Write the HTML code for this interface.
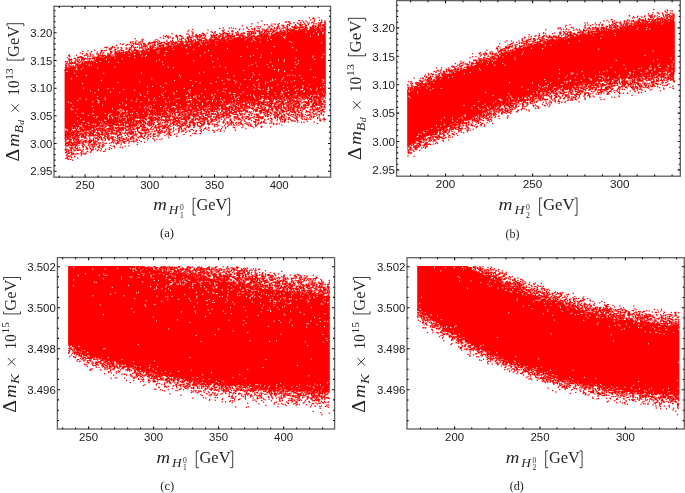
<!DOCTYPE html>
<html><head><meta charset="utf-8"><title>Scatter plots</title>
<style>html,body{margin:0;padding:0;background:#fff;overflow:hidden}svg{display:block;will-change:transform}text{font-kerning:normal}</style></head>
<body>
<svg width="685" height="493" viewBox="0 0 685 493"><rect width="685" height="493" fill="#fff"/>
<g id="pts-a">
<path d="M64.6 69L65.8 69.4L67.1 68.4L68.3 68.4L69.6 68L70.8 67.2L72.1 67.3L73.3 66.7L74.6 66.5L75.8 66.3L77.1 65L78.3 65.1L79.6 64.5L80.8 64.2L82.1 63.6L83.3 64.2L84.6 63.8L85.8 63.5L87.1 62.6L88.3 62.3L89.6 61.7L90.8 61.3L92.1 61L93.3 60.8L94.6 60.2L95.8 60.3L97.1 60.2L98.3 59.6L99.6 59.1L100.8 59.3L102.1 58.8L103.3 58.5L104.6 58.5L105.8 58.3L107.1 58.5L108.3 58.2L109.6 57.9L110.8 56.7L112.1 56.5L113.3 56.7L114.6 56.5L115.8 55.7L117.1 55.3L118.3 55.5L119.6 55.1L120.8 54.5L122.1 55.2L123.3 54.5L124.6 54L125.8 53.5L127.1 53.4L128.3 53.9L129.6 53.4L130.8 53.3L132.1 52.8L133.3 52.3L134.6 53L135.8 51.7L137.1 51.6L138.3 52.3L139.6 51.3L140.8 51.4L142.1 50.7L143.3 51.5L144.6 50.8L145.8 50.9L147.1 50.5L148.3 50.3L149.6 50.1L150.8 50.4L152.1 49L153.3 49.7L154.6 48.9L155.8 49.1L157.1 48.1L158.3 48.6L159.6 48L160.8 48.1L162.1 47.4L163.3 47.3L164.6 47.9L165.8 47.6L167.1 47.1L168.3 47.3L169.6 46.8L170.8 47.1L172.1 46.6L173.3 45.6L174.6 45.3L175.8 45.2L177.1 45.2L178.3 44.9L179.6 45L180.8 45.6L182.1 44.6L183.3 44.8L184.6 44.6L185.8 44.3L187.1 43.6L188.3 44.1L189.6 43.7L190.8 43.2L192.1 43.9L193.3 43L194.6 43.2L195.8 42.9L197.1 42.7L198.3 42.7L199.6 42.2L200.8 42.8L202.1 42.2L203.3 42.2L204.6 42.5L205.8 42.2L207.1 41.8L208.3 41.5L209.6 41.9L210.8 41.4L212.1 41L213.3 41.5L214.6 41.6L215.8 41.3L217.1 41L218.3 40.2L219.6 40.4L220.8 40.2L222.1 39.7L223.3 39.8L224.6 39.3L225.8 40.1L227.1 39.5L228.3 39.1L229.6 39.6L230.8 39.8L232.1 38.6L233.3 38.7L234.6 38.3L235.8 38.1L237.1 38.3L238.3 38.3L239.6 37.7L240.8 38.3L242.1 37.9L243.3 38.3L244.6 37L245.8 37.8L247.1 36.8L248.3 37.5L249.6 36.8L250.8 36.4L252.1 36.4L253.3 36.2L254.6 36L255.8 36.2L257.1 36.8L258.4 36L259.6 36L260.9 36L262.1 36L263.4 35.4L264.6 35.3L265.9 35L267.1 34.7L268.4 35.2L269.6 35.1L270.9 34.8L272.1 34.7L273.4 34L274.6 33.6L275.9 33.7L277.1 33.8L278.4 33.6L279.6 32.8L280.9 32.8L282.1 33.2L283.4 33.6L284.6 32.6L285.9 32.4L287.1 32.1L288.4 32.2L289.6 31.7L290.9 32.3L292.1 31.8L293.4 32.1L294.6 31.9L295.9 30.9L297.1 31.2L298.4 31.2L299.6 31L300.9 30.2L302.1 30.3L303.4 30L304.6 29.9L305.9 30.9L307.1 30.3L308.4 30.2L309.6 29.6L310.9 30.1L312.1 29.5L313.4 29.2L314.6 29.4L315.9 29L317.1 28.6L318.4 28.4L319.6 28.9L320.9 28.5L322.1 28L323.4 27.9L324.6 27.8L325.8 27.8L325.8 93.2L324.6 93.5L323.4 94L322.1 93.6L320.9 94.2L319.6 94.6L318.4 94.4L317.1 94.6L315.9 94.4L314.6 94.6L313.4 94.5L312.1 95.1L310.9 94.8L309.6 95.3L308.4 94.6L307.1 94.8L305.9 95.3L304.6 95.1L303.4 96.1L302.1 95L300.9 95.3L299.6 95.5L298.4 96.4L297.1 95.9L295.9 96.4L294.6 96.8L293.4 96.1L292.1 96L290.9 96L289.6 97L288.4 97.2L287.1 97.1L285.9 97.3L284.6 96.5L283.4 96.9L282.1 96.9L280.9 97.9L279.6 97.5L278.4 97.8L277.1 97.8L275.9 97.4L274.6 98.4L273.4 97.8L272.1 98L270.9 98.1L269.6 98.2L268.4 98.4L267.1 98.2L265.9 98.6L264.6 98.5L263.4 98.9L262.1 99.1L260.9 99.3L259.6 100L258.4 99.8L257.1 99.7L255.8 100.4L254.6 99.9L253.3 100.5L252.1 100.7L250.8 100.8L249.6 100.2L248.3 101.1L247.1 101.3L245.8 100.8L244.6 100.7L243.3 101L242.1 101.8L240.8 102.1L239.6 101.7L238.3 101.7L237.1 101.7L235.8 101.6L234.6 102.4L233.3 102.6L232.1 102.9L230.8 102.5L229.6 102.4L228.3 102.8L227.1 103.4L225.8 103.1L224.6 103.4L223.3 103.1L222.1 103.9L220.8 103.8L219.6 104L218.3 104.5L217.1 103.7L215.8 104.7L214.6 104.7L213.3 104.7L212.1 104.5L210.8 105.5L209.6 104.6L208.3 105.3L207.1 105.4L205.8 106L204.6 106.4L203.3 106.1L202.1 105.6L200.8 106.3L199.6 107L198.3 106.4L197.1 106.4L195.8 106.2L194.6 107.2L193.3 106.7L192.1 106.8L190.8 107.2L189.6 107.3L188.3 107.7L187.1 108L185.8 108.2L184.6 108.8L183.3 108.1L182.1 108.6L180.8 108.9L179.6 108.9L178.3 109.8L177.1 109.1L175.8 109.8L174.6 110.5L173.3 110.1L172.1 110.7L170.8 110.8L169.6 111.3L168.3 111.5L167.1 110.9L165.8 111.8L164.6 112L163.3 112.6L162.1 111.9L160.8 112.5L159.6 112.4L158.3 113.5L157.1 113.9L155.8 113L154.6 113.3L153.3 114.2L152.1 114L150.8 115L149.6 115L148.3 114.9L147.1 115L145.8 115.9L144.6 115.5L143.3 115.3L142.1 116L140.8 116.3L139.6 116.4L138.3 116.4L137.1 117.6L135.8 118.1L134.6 118.3L133.3 118L132.1 118L130.8 118.6L129.6 118.9L128.3 118.9L127.1 119.2L125.8 119.9L124.6 120.9L123.3 120.4L122.1 121.4L120.8 121L119.6 121.2L118.3 121.9L117.1 122.5L115.8 122.5L114.6 122.4L113.3 123.1L112.1 122.8L110.8 123.9L109.6 124.2L108.3 123.9L107.1 124.2L105.8 124.7L104.6 125L103.3 125.3L102.1 125.8L100.8 126.3L99.6 126.2L98.3 127L97.1 126.9L95.8 127L94.6 128L93.3 128.1L92.1 128.4L90.8 129.3L89.6 129.5L88.3 129.3L87.1 130.3L85.8 130.8L84.6 130.8L83.3 130.9L82.1 131.4L80.8 131.1L79.6 132.4L78.3 132.3L77.1 132.4L75.8 132.7L74.6 133.1L73.3 134.3L72.1 133.6L70.8 135.1L69.6 135.3L68.3 134.7L67.1 135.3L65.8 136L64.6 136.1Z" fill="#ff0000"/>
<g transform="scale(0.25)" fill="none" stroke-linecap="round"><path d="M268 285h0m6 123h0m-11 107h0m5 4h0m-5 1h0m8 1h0m28-229h0m-13 23h0m-2 97h0m8 12h0m-8 9h0m8 4h0m-5 2h0m10 58h0m-8 14h0m7 6h0m-5 1h0m3 4h0m-7 2h0m-6 8h0m6 3h0m30-273h0m-12 4h0m1 8h0m-2 2h0m4 0h0m-1 28h0m4 98h0m-2 34h0m-6 16h0m8 13h0m-1 18h0m8 19h0m-3 8h0m-10 1h0m9 3h0m-14 5h0m10 0h0m9 0h0m-3 1h0m0 5h0m-12 3h0m28-273h0m-9 5h0m1 1h0m8 10h0m-7 6h0m5 57h0m4 18h0m-14 42h0m8 58h0m6 2h0m-11 20h0m13 10h0m-3 1h0m-7 11h0m-2 5h0m3 3h0m-3 1h0m8 7h0m2 1h0m9-263h0m3 6h0m10 0h0m2 6h0m-13 39h0m-1 96h0m9 64h0m-1 29h0m4 3h0m-13 5h0m13 4h0m2 15h0m-16 0h0m1 4h0m33-276h0m-10 15h0m-4 103h0m9 44h0m-2 19h0m5 11h0m-2 16h0m-1 2h0m5 11h0m-1 29h0m-3 2h0m7 14h0m-16 5h0m24-267h0m4 22h0m3 87h0m-14 13h0m10 14h0m0 14h0m4 3h0m2 1h0m-3 6h0m2 2h0m-6 54h0m-3 6h0m11 14h0m-14 11h0m-2 4h0m18 3h0m-3 4h0m19-271h0m-14 10h0m14 47h0m-9 28h0m4 99h0m9 60h0m-14 6h0m6 6h0m-9 5h0m3 0h0m12 1h0m9-261h0m9 11h0m-3 105h0m-12 38h0m1 6h0m0 56h0m17 3h0m-4 4h0m-2 4h0m3 6h0m-1 3h0m-11 8h0m4 11h0m27-139h0m-12 15h0m8 67h0m-6 19h0m2 11h0m6 3h0m-2 4h0m11-241h0m12 18h0m-13 19h0m12 61h0m7 41h0m0 49h0m-3 21h0m-5 2h0m8 3h0m-2 18h0m-11 2h0m10 6h0m-2 9h0m11-261h0m4 16h0m6 123h0m-4 53h0m-10 25h0m4 3h0m9 1h0m-1 1h0m-5 4h0m8 0h0m0 1h0m-12 3h0m-4 7h0m19 3h0m-3 2h0m-3 8h0m-9 3h0m-1 8h0m34-254h0m-11 170h0m0 23h0m-3 2h0m5 22h0m0 3h0m0 9h0m6 13h0m-14 1h0m6 4h0m8 3h0m-11 2h0m17-263h0m17 3h0m2 0h0m0 142h0m-12 41h0m-2 30h0m11 10h0m-6 12h0m-7 0h0m5 12h0m12-235h0m19 97h0m-11 69h0m-3 9h0m14 22h0m-12 23h0m5 7h0m19-250h0m-10 1h0m13 0h0m-11 1h0m-1 2h0m0 2h0m7 11h0m-3 67h0m-6 84h0m3 6h0m1 26h0m14 24h0m-5 21h0m1 11h0m20-261h0m2 1h0m-7 1h0m-8 2h0m5 15h0m-4 4h0m8 122h0m1 19h0m-2 8h0m-9 12h0m15 10h0m1 6h0m0 22h0m-14 2h0m7 4h0m8 3h0m-15 8h0m10 6h0m6 3h0m0 2h0m-4 3h0m3 0h0m-17 3h0m0 0h0m5 0h0m22-143h0m3 30h0m8 47h0m-4 8h0m2 17h0m-12 6h0m2 10h0m-4 4h0m13 1h0m-2 19h0m23-255h0m-8 2h0m5 7h0m4 28h0m-11 5h0m12 141h0m-15 16h0m-1 43h0m14 4h0m-15 4h0m38-232h0m-9 28h0m3 9h0m-10 87h0m10 5h0m1 22h0m-8 5h0m5 5h0m4 9h0m-12 36h0m11 10h0m-1 11h0m-12 2h0m10 0h0m25-257h0m-12 13h0m3 1h0m6 62h0m-8 65h0m-2 31h0m10 25h0m-11 14h0m16 4h0m-14 3h0m0 15h0m-4 5h0m3 9h0m10 0h0m2 6h0m13-256h0m5 8h0m0 74h0m5 50h0m-5 50h0m5 5h0m-3 27h0m-3 22h0m5 1h0m2 0h0m-11 3h0m30-128h0m-12 63h0m10 29h0m-12 2h0m3 20h0m-5 15h0m-1 1h0m-1 5h0m10 0h0m-1 0h0m17-253h0m2 1h0m-6 124h0m15 45h0m-16 67h0m-1 14h0m24-243h0m3 0h0m4 23h0m3 149h0m5 4h0m-10 13h0m-4 2h0m5 9h0m3 8h0m-6 1h0m9 14h0m-4 1h0m-3 12h0m8 3h0m-17 2h0m33-258h0m-11 7h0m13 17h0m0 45h0m-12 78h0m7 21h0m-9 17h0m-1 12h0m14 15h0m-12 2h0m14 2h0m-12 7h0m-3 1h0m6 6h0m-1 6h0m8 6h0m-14 8h0m36-240h0m2 108h0m-14 34h0m-1 55h0m13 2h0m1 1h0m-17 2h0m6 6h0m6 8h0m7 4h0m-11 13h0m0 9h0m16-252h0m2 2h0m-5 47h0m15 65h0m-16 44h0m7 42h0m10 14h0m-7 26h0m0 4h0m-10 5h0m37-251h0m-12 6h0m9 24h0m-14 7h0m1 148h0m11 44h0m-5 4h0m18-182h0m6 23h0m5 22h0m-12 66h0m3 44h0m0 0h0m2 4h0m7 5h0m-3 7h0m-3 8h0m0 3h0m19-237h0m-8 3h0m3 8h0m7 56h0m2 74h0m-8 18h0m6 35h0m-11 14h0m5 28h0m-3 8h0m27-249h0m-9 101h0m9 57h0m7 14h0m-1 20h0m-3 10h0m-10 25h0m15 10h0m-13 1h0m7 5h0m0 1h0m-5 6h0m22-250h0m2 30h0m-7 77h0m7 23h0m-1 22h0m5 4h0m5 0h0m-15 36h0m-3 13h0m17 5h0m-8 35h0m-10 1h0m6 1h0m30-107h0m1 18h0m-16 49h0m0 1h0m16 3h0m-2 0h0m2 8h0m-11 2h0m12 4h0m-9 13h0m-1 8h0m16-83h0m-2 5h0m15 20h0m-17 22h0m16 14h0m-6 2h0m-6 6h0m-3 1h0m13 1h0m10-172h0m11 56h0m-12 55h0m10 31h0m-9 7h0m11 25h0m-10 3h0m20-250h0m-5 7h0m10 28h0m6 76h0m-16 54h0m10 32h0m-1 32h0m5 20h0m-12 3h0m31-255h0m-1 4h0m4 5h0m-8 7h0m6 56h0m-12 3h0m6 34h0m4 33h0m4 8h0m-7 9h0m-8 10h0m14 21h0m2 18h0m-15 23h0m12 0h0m2 4h0m1 2h0m1 1h0m2-240h0m16 2h0m-16 13h0m9 32h0m-6 57h0m5 13h0m9 34h0m-4 20h0m-5 4h0m8 11h0m0 10h0m-16 3h0m15 7h0m3 35h0m-17 4h0m0 3h0m1 3h0m20-247h0m-1 16h0m4 52h0m-2 11h0m10 127h0m-13 1h0m1 0h0m6 23h0m6 1h0m0 10h0m-2 1h0m28-245h0m-9 4h0m1 9h0m-2 97h0m7 10h0m-14 59h0m9 2h0m-9 5h0m12 15h0m-1 4h0m3 6h0m-3 2h0m-4 2h0m3 6h0m0 11h0m17-240h0m-9 1h0m4 17h0m13 28h0m-11 26h0m-3 36h0m7 15h0m8 15h0m-8 38h0m1 5h0m-8 3h0m4 26h0m0 2h0m0 36h0m0 3h0m28-255h0m-7 1h0m2 0h0m4 103h0m1 38h0m-1 5h0m-12 35h0m9 21h0m-11 33h0m3 10h0m16 3h0m3-250h0m4 6h0m12 7h0m-3 0h0m3 91h0m-2 6h0m3 39h0m-1 2h0m-4 24h0m-5 6h0m-4 8h0m9 21h0m1 13h0m-8 6h0m4 5h0m-5 1h0m1 1h0m3 1h0m-6 6h0m10 3h0m0 4h0m12-252h0m-4 11h0m-2 8h0m19 148h0m-8 1h0m-11 26h0m10 4h0m0 18h0m4 13h0m-10 3h0m10 13h0m14-247h0m-8 35h0m7 3h0m4 21h0m-4 91h0m5 19h0m6 22h0m-11 5h0m8 20h0m1 34h0m-15 4h0m24-185h0m-1 32h0m10 11h0m-13 6h0m11 5h0m-7 4h0m-5 11h0m19 33h0m-18 1h0m1 40h0m10 13h0m-9 2h0m-2 3h0m6 10h0m0 7h0m-5 2h0m0 4h0m7 1h0m18-72h0m8 9h0m-4 21h0m2 4h0m-2 9h0m-7 2h0m6 0h0m8 6h0m-3 3h0m9-239h0m13 211h0m-8 12h0m25-218h0m-12 11h0m11 79h0m-2 5h0m8 9h0m-16 41h0m11 30h0m-12 47h0m4 5h0m5 13h0m5 3h0m10-252h0m8 11h0m-1 5h0m-10 169h0m5 43h0m-1 8h0m9 12h0m-7 2h0m-9 2h0m36-259h0m-15 2h0m5 0h0m9 9h0m-4 3h0m0 3h0m-5 37h0m9 46h0m-7 12h0m4 89h0m3 4h0m-3 6h0m6 10h0m-4 9h0m-11 3h0m6 18h0m1 0h0m-10 4h0m13 2h0" stroke="#fff" stroke-width="5.00"/><path d="M278 220h0m-4 3h0m5 3h0m-9 5h0m8 5h0m-3 1h0m1 4h0m3 1h0m-17 4h0m6 0h0m10 1h0m0 1h0m-9 1h0m9 4h0m-14 0h0m14 1h0m-13 1h0m12 0h0m-6 1h0m-7 1h0m-1 2h0m-1 1h0m13 0h0m-11 1h0m0 1h0m-1 1h0m14 0h0m-11 1h0m1 0h0m10 2h0m-10 2h0m12 0h0m-18 2h0m3 0h0m1 1h0m9 0h0m-12 1h0m10 1h0m-4 2h0m5 0h0m-12 3h0m3 0h0m-2 1h0m-1 2h0m2 0h0m15 254h0m-3 1h0m1 2h0m-5 1h0m1 0h0m-6 1h0m4 0h0m1 0h0m4 0h0m-3 1h0m0 0h0m-10 1h0m8 0h0m0 0h0m6 0h0m-15 3h0m1 0h0m0 1h0m7 0h0m-1 0h0m0 0h0m10 0h0m-16 1h0m14 0h0m-14 1h0m0 0h0m1 0h0m10 1h0m-12 0h0m8 0h0m-6 1h0m-1 0h0m8 0h0m5 0h0m-14 1h0m13 0h0m-13 3h0m11 0h0m4 0h0m-8 2h0m1 0h0m3 0h0m3 0h0m-10 1h0m6 0h0m6 0h0m-15 1h0m2 1h0m15 2h0m-15 2h0m-3 1h0m1 2h0m11 1h0m5 1h0m-14 1h0m12 0h0m-6 1h0m5 0h0m-1 1h0m-8 2h0m7 0h0m-1 0h0m-10 1h0m1 0h0m6 0h0m3 1h0m0 1h0m6 0h0m-14 1h0m9 1h0m5 0h0m1 0h0m-18 2h0m2 0h0m13 1h0m-11 1h0m6 0h0m-7 2h0m5 0h0m2 0h0m8 5h0m-16 3h0m6 5h0m-8 1h0m2 0h0m-2 1h0m0 1h0m1 1h0m12 0h0m2 0h0m-11 2h0m0 1h0m2 0h0m0 3h0m7 0h0m1 1h0m-9 1h0m0 1h0m-4 1h0m10 3h0m5 0h0m-9 4h0m0 0h0m-2 5h0m1 0h0m6 1h0m2 1h0m3 2h0m-10 2h0m2 3h0m-6 2h0m6 1h0m4 2h0m23-404h0m-12 4h0m2 2h0m-6 1h0m5 5h0m12 2h0m-9 3h0m-5 1h0m6 0h0m5 1h0m-4 1h0m1 0h0m-7 1h0m-2 0h0m3 0h0m3 0h0m8 0h0m-11 2h0m7 6h0m-10 1h0m-2 1h0m6 3h0m5 0h0m3 0h0m-6 1h0m4 0h0m-1 1h0m-11 1h0m6 0h0m-1 2h0m-5 1h0m0 1h0m13 258h0m-13 2h0m4 0h0m3 2h0m-8 1h0m10 0h0m1 0h0m-3 1h0m9 0h0m-14 2h0m9 0h0m-4 2h0m0 0h0m6 0h0m-5 1h0m-9 2h0m15 0h0m-13 1h0m0 3h0m8 0h0m7 0h0m-4 1h0m-1 0h0m7 0h0m-10 1h0m10 0h0m-9 1h0m9 0h0m-6 2h0m4 0h0m-14 2h0m11 0h0m3 1h0m-15 1h0m14 0h0m0 0h0m-10 1h0m-6 3h0m15 0h0m-1 1h0m-12 1h0m1 2h0m15 1h0m1 1h0m-19 1h0m0 1h0m6 0h0m11 0h0m-11 1h0m2 0h0m-2 1h0m8 0h0m-3 1h0m1 0h0m-4 1h0m-7 2h0m16 1h0m-6 0h0m-2 2h0m9 0h0m-7 2h0m3 0h0m-11 1h0m2 0h0m9 0h0m-6 4h0m11 2h0m-12 2h0m3 2h0m-7 1h0m6 0h0m-3 2h0m-1 0h0m10 2h0m-9 1h0m-6 2h0m6 2h0m10 2h0m-9 4h0m-6 1h0m5 0h0m2 4h0m5 0h0m-6 1h0m9 1h0m-9 1h0m8 1h0m-6 1h0m-5 3h0m14 4h0m-14 2h0m3 4h0m-5 7h0m9 3h0m15-420h0m13 7h0m-6 1h0m4 0h0m-7 2h0m-9 3h0m11 1h0m5 4h0m-11 1h0m4 1h0m-8 0h0m15 0h0m-7 5h0m2 0h0m2 1h0m-12 1h0m12 3h0m3 0h0m1 1h0m-16 1h0m3 3h0m3 0h0m-4 1h0m8 0h0m0 0h0m-7 2h0m2 0h0m5 0h0m7 0h0m-16 2h0m15 0h0m-9 1h0m7 2h0m-16 2h0m1 2h0m2 257h0m8 1h0m8 1h0m-5 1h0m-1 1h0m-6 2h0m0 1h0m5 1h0m-2 1h0m-10 1h0m2 1h0m-2 0h0m4 0h0m13 0h0m-8 3h0m-2 0h0m12 0h0m-16 1h0m15 0h0m-16 1h0m0 1h0m10 0h0m5 0h0m-11 1h0m0 1h0m5 0h0m-2 2h0m-8 1h0m14 1h0m0 0h0m-11 1h0m-1 0h0m-1 1h0m0 0h0m14 1h0m-5 1h0m-7 3h0m4 1h0m4 1h0m0 1h0m-9 1h0m12 0h0m-7 1h0m-5 1h0m1 0h0m1 0h0m2 0h0m8 2h0m-5 2h0m-1 1h0m9 0h0m-10 2h0m10 0h0m-10 1h0m4 0h0m3 0h0m-15 1h0m2 0h0m16 1h0m-12 1h0m10 0h0m-3 2h0m-2 0h0m3 0h0m-4 2h0m-8 1h0m-1 0h0m7 1h0m-6 2h0m5 1h0m9 1h0m-13 4h0m7 3h0m-9 2h0m18 1h0m-13 2h0m4 1h0m-9 5h0m8 0h0m5 0h0m1 1h0m-14 1h0m8 0h0m0 12h0m1 1h0m2 0h0m-8 2h0m-4 10h0m11 5h0m21-426h0m-11 6h0m8 3h0m1 0h0m7 8h0m-15 4h0m4 0h0m-1 2h0m4 2h0m6 0h0m-11 1h0m10 0h0m-8 1h0m4 0h0m-1 1h0m0 1h0m10 0h0m-5 1h0m0 0h0m-7 1h0m5 0h0m3 1h0m3 1h0m-12 2h0m7 2h0m-8 1h0m6 3h0m8 0h0m-16 1h0m8 4h0m7 0h0m-10 1h0m9 0h0m1 0h0m0 1h0m-12 1h0m13 0h0m-10 1h0m6 0h0m-5 2h0m1 2h0m-7 1h0m-1 0h0m2 260h0m7 0h0m-6 1h0m4 3h0m-8 2h0m13 0h0m0 0h0m3 4h0m-12 1h0m12 0h0m0 0h0m-9 1h0m-5 1h0m15 0h0m-9 1h0m-7 1h0m12 1h0m-3 1h0m3 1h0m-10 1h0m2 0h0m5 0h0m-4 1h0m-1 0h0m6 1h0m1 0h0m-3 1h0m-2 1h0m7 1h0m-10 1h0m4 0h0m1 0h0m-6 1h0m2 1h0m8 0h0m-7 2h0m10 0h0m-2 2h0m-8 7h0m-2 1h0m10 3h0m-14 1h0m16 1h0m-6 2h0m-7 1h0m9 2h0m-3 2h0m-2 1h0m4 0h0m-13 1h0m16 4h0m0 1h0m0 0h0m-8 1h0m2 0h0m7 0h0m-6 5h0m3 2h0m-2 2h0m1 0h0m0 8h0m-13 2h0m3 2h0m8 3h0m-4 2h0m-4 6h0m4 0h0m8 1h0m-7 3h0m9 0h0m-12 5h0m27-418h0m-6 11h0m5 3h0m-9 3h0m4 1h0m6 3h0m-1 4h0m-8 6h0m16 0h0m-7 1h0m5 2h0m-8 0h0m9 6h0m-5 2h0m-7 1h0m-3 1h0m8 0h0m6 0h0m-15 1h0m4 0h0m8 1h0m-5 1h0m3 0h0m6 1h0m-1 2h0m-15 1h0m2 0h0m8 261h0m1 2h0m4 1h0m-13 1h0m3 0h0m3 0h0m6 0h0m-5 1h0m-11 1h0m2 1h0m3 0h0m11 0h0m0 2h0m-14 1h0m5 4h0m-7 1h0m11 1h0m7 0h0m-13 1h0m0 1h0m-2 0h0m-1 1h0m12 0h0m4 2h0m1 1h0m-16 1h0m16 1h0m-13 1h0m13 2h0m-17 1h0m10 0h0m3 1h0m-13 1h0m-2 2h0m3 1h0m-3 1h0m3 0h0m-3 3h0m2 0h0m16 0h0m1 1h0m-12 2h0m11 6h0m0 0h0m-17 1h0m3 0h0m15 3h0m-14 0h0m10 0h0m0 0h0m-2 1h0m-11 1h0m16 1h0m-2 1h0m-14 2h0m6 0h0m9 2h0m0 0h0m-2 3h0m1 1h0m-3 5h0m-9 5h0m15 2h0m-13 1h0m3 3h0m-3 3h0m5 1h0m0 8h0m-2 1h0m-4 6h0m-3 4h0m37-415h0m-13 5h0m-5 6h0m1 6h0m0 2h0m12 0h0m-2 0h0m-12 6h0m11 2h0m7 0h0m-1 1h0m-4 2h0m4 0h0m-8 2h0m-7 2h0m9 0h0m6 0h0m-17 1h0m16 0h0m0 0h0m-10 7h0m12 0h0m-5 4h0m-11 1h0m4 0h0m-4 1h0m9 0h0m0 260h0m1 0h0m-9 2h0m0 1h0m11 0h0m-10 2h0m2 0h0m-2 2h0m11 0h0m2 0h0m-15 2h0m17 0h0m-4 2h0m-3 1h0m-2 1h0m-3 0h0m9 1h0m1 0h0m2 0h0m-14 2h0m-5 1h0m6 1h0m7 0h0m-11 1h0m-1 0h0m4 0h0m12 0h0m-3 2h0m-1 0h0m2 1h0m-14 1h0m3 0h0m3 0h0m-3 1h0m-3 1h0m5 0h0m7 0h0m-6 1h0m-4 1h0m6 1h0m5 1h0m-3 0h0m1 1h0m-8 3h0m3 0h0m6 0h0m3 0h0m-15 1h0m-1 1h0m13 0h0m1 9h0m0 5h0m-14 1h0m15 0h0m-12 2h0m4 0h0m-4 1h0m9 1h0m-8 1h0m-3 1h0m14 0h0m-9 1h0m12 3h0m-16 1h0m13 0h0m2 0h0m2 3h0m-7 3h0m6 0h0m-13 1h0m0 2h0m5 0h0m7 1h0m-17 4h0m8 1h0m4 0h0m6 0h0m-4 5h0m-2 3h0m-10 1h0m1 3h0m10 1h0m-4 1h0m-2 3h0m-1 2h0m-2 1h0m-1 5h0m26-402h0m2 7h0m-5 1h0m7 2h0m-1 3h0m3 1h0m-2 4h0m-1 1h0m-8 2h0m4 1h0m-1 0h0m9 0h0m-8 1h0m-2 0h0m11 0h0m-1 0h0m-4 1h0m-4 1h0m-1 0h0m-1 1h0m10 0h0m1 0h0m2 0h0m-19 3h0m8 0h0m4 1h0m-6 1h0m8 1h0m-14 1h0m15 0h0m-1 1h0m-2 0h0m-6 1h0m13 259h0m-14 4h0m1 1h0m-2 0h0m-3 2h0m17 0h0m-6 3h0m0 1h0m-6 1h0m12 0h0m-1 0h0m-4 3h0m1 0h0m-6 1h0m-7 1h0m3 0h0m5 0h0m5 2h0m-4 0h0m1 2h0m-1 1h0m-10 3h0m12 3h0m-4 1h0m8 0h0m-11 1h0m6 2h0m3 1h0m4 0h0m-4 1h0m-3 1h0m4 0h0m-13 2h0m17 0h0m-9 1h0m-10 1h0m6 1h0m10 1h0m-1 1h0m-3 2h0m3 0h0m-15 2h0m9 2h0m-9 1h0m7 0h0m11 0h0m-14 3h0m8 1h0m-1 3h0m4 1h0m0 0h0m-4 2h0m-9 1h0m5 4h0m-2 1h0m-1 0h0m-2 1h0m10 3h0m3 1h0m3 0h0m-15 4h0m1 0h0m-1 0h0m1 0h0m1 1h0m1 3h0m11 0h0m0 3h0m-5 4h0m4 2h0m2 0h0m-2 1h0m-4 1h0m-9 5h0m10 3h0m-4 4h0m15-402h0m2 1h0m4 0h0m9 1h0m-12 3h0m0 2h0m-5 1h0m12 1h0m-13 4h0m10 2h0m-10 1h0m12 4h0m-3 0h0m-9 1h0m6 1h0m10 0h0m-2 1h0m-15 1h0m16 1h0m-6 1h0m-2 1h0m-2 1h0m11 1h0m1 0h0m-13 1h0m-5 1h0m19 0h0m-16 1h0m11 0h0m-11 1h0m8 0h0m6 0h0m-10 1h0m-2 2h0m9 0h0m-12 1h0m10 1h0m1 1h0m-6 1h0m8 0h0m-6 258h0m10 1h0m-8 1h0m-9 1h0m2 0h0m-3 2h0m5 0h0m4 0h0m4 0h0m-7 2h0m3 0h0m7 4h0m-17 1h0m10 1h0m-5 2h0m-2 0h0m11 0h0m0 0h0m-13 1h0m13 0h0m-2 0h0m5 1h0m1 1h0m-2 0h0m-11 1h0m6 0h0m-9 1h0m7 1h0m-9 1h0m18 1h0m-18 1h0m1 0h0m2 0h0m12 0h0m4 0h0m-10 1h0m1 2h0m-1 1h0m-4 1h0m2 0h0m-1 3h0m3 0h0m3 1h0m7 1h0m-11 3h0m-7 2h0m5 0h0m5 0h0m5 2h0m-7 1h0m-7 5h0m2 2h0m14 0h0m-12 3h0m9 0h0m-13 1h0m5 2h0m-1 4h0m2 0h0m1 3h0m3 8h0m-10 3h0m12 4h0m-2 1h0m-1 2h0m-11 2h0m16 1h0m-4 3h0m-4 1h0m2 3h0m-5 7h0m1 1h0m-5 6h0m14 3h0m5-417h0m9 0h0m-4 2h0m12 4h0m2 5h0m-14 1h0m6 12h0m1 1h0m5 4h0m-6 1h0m7 1h0m-18 1h0m11 1h0m6 0h0m-2 0h0m-3 1h0m6 1h0m-15 1h0m10 0h0m-10 1h0m6 0h0m4 1h0m-1 0h0m7 0h0m-13 1h0m12 0h0m-9 1h0m2 0h0m-4 1h0m-5 1h0m1 0h0m12 0h0m-13 1h0m3 0h0m-2 0h0m0 1h0m9 0h0m-1 0h0m1 1h0m-12 1h0m1 2h0m17 256h0m-12 1h0m2 2h0m-2 2h0m10 1h0m1 0h0m-7 1h0m6 0h0m-4 1h0m2 0h0m3 1h0m-13 2h0m1 2h0m-2 1h0m15 0h0m-17 1h0m1 0h0m17 0h0m0 0h0m0 0h0m-7 5h0m0 1h0m5 0h0m-8 1h0m3 0h0m4 1h0m-1 0h0m-9 1h0m12 4h0m-2 0h0m-14 1h0m6 0h0m7 2h0m-5 1h0m9 0h0m-17 3h0m-1 1h0m4 0h0m7 0h0m0 3h0m-6 1h0m6 1h0m-3 1h0m5 0h0m-8 2h0m6 1h0m-10 2h0m12 1h0m2 1h0m-16 1h0m14 0h0m-4 1h0m-8 1h0m-2 0h0m8 2h0m0 1h0m6 0h0m-1 0h0m-3 4h0m8 0h0m-18 1h0m13 0h0m6 0h0m-17 2h0m17 0h0m0 0h0m-17 2h0m11 1h0m5 0h0m-2 2h0m-16 2h0m0 11h0m6 0h0m13 0h0m0 18h0m-16 6h0m14 1h0m-17 6h0m30-418h0m8 3h0m-7 1h0m-7 1h0m0 1h0m3 1h0m-4 3h0m1 3h0m12 4h0m-13 3h0m5 1h0m-6 2h0m3 2h0m0 0h0m14 2h0m-16 1h0m1 1h0m6 5h0m6 0h0m-15 1h0m1 3h0m3 1h0m10 2h0m-2 1h0m2 0h0m-1 1h0m-7 1h0m3 0h0m-2 0h0m3 0h0m-6 3h0m9 0h0m2 252h0m-1 4h0m-10 0h0m-2 2h0m4 0h0m6 0h0m-2 0h0m-7 2h0m14 0h0m-14 1h0m9 0h0m-3 1h0m5 2h0m-11 1h0m10 0h0m4 0h0m-18 1h0m11 0h0m-7 1h0m2 0h0m3 0h0m1 0h0m-9 2h0m9 0h0m-1 0h0m-5 2h0m4 0h0m0 3h0m2 0h0m-8 1h0m3 0h0m7 0h0m3 0h0m-6 5h0m4 0h0m-10 1h0m10 0h0m-13 1h0m11 1h0m-2 1h0m1 1h0m2 0h0m-9 1h0m-3 1h0m11 0h0m6 0h0m-11 1h0m9 0h0m4 0h0m-2 1h0m-9 3h0m-1 0h0m-1 1h0m0 0h0m5 3h0m-5 1h0m4 1h0m7 1h0m-16 1h0m3 2h0m3 0h0m6 1h0m-8 9h0m9 2h0m-4 1h0m3 1h0m-8 2h0m6 1h0m-6 1h0m5 0h0m-1 3h0m3 2h0m3 0h0m-6 2h0m8 4h0m-7 2h0m-4 5h0m8 0h0m-11 12h0m10 2h0m5 0h0m1 6h0m-13 3h0m20-412h0m1 0h0m5 8h0m0 0h0m0 3h0m-8 4h0m-4 0h0m1 7h0m13 0h0m5 0h0m-17 1h0m9 0h0m-6 3h0m14 1h0m-16 1h0m6 0h0m2 0h0m-10 1h0m6 0h0m10 0h0m-13 2h0m-4 1h0m6 0h0m3 0h0m6 0h0m-12 1h0m14 2h0m-4 0h0m-11 1h0m14 0h0m-8 1h0m-3 1h0m8 1h0m-11 1h0m16 0h0m-5 2h0m6 0h0m-10 2h0m-4 1h0m-1 1h0m9 255h0m2 3h0m0 0h0m-13 1h0m3 1h0m13 0h0m1 0h0m-19 2h0m0 0h0m2 1h0m1 1h0m11 0h0m-6 1h0m1 2h0m2 0h0m-11 2h0m1 1h0m6 0h0m5 1h0m2 0h0m-13 1h0m11 0h0m4 1h0m-10 1h0m13 0h0m-5 2h0m-12 5h0m13 0h0m-11 2h0m4 0h0m2 0h0m-7 1h0m-2 1h0m3 0h0m0 0h0m13 0h0m1 0h0m-11 2h0m7 2h0m4 0h0m-5 1h0m-1 2h0m7 0h0m-3 1h0m-10 1h0m4 0h0m-1 2h0m4 0h0m-5 1h0m1 0h0m-5 1h0m11 0h0m-9 3h0m10 1h0m-8 1h0m11 1h0m-18 1h0m6 2h0m-7 2h0m6 0h0m-4 1h0m14 1h0m-6 2h0m5 0h0m-3 2h0m-2 3h0m8 3h0m-17 1h0m17 0h0m-6 1h0m1 1h0m-3 1h0m9 0h0m-10 1h0m1 1h0m9 3h0m-3 1h0m-15 1h0m7 2h0m1 1h0m10 0h0m-9 1h0m4 3h0m-5 2h0m-8 3h0m7 0h0m2 1h0m5 0h0m-9 3h0m15-401h0m14 1h0m-6 2h0m-5 13h0m3 2h0m-2 5h0m3 3h0m-8 2h0m7 0h0m5 0h0m2 0h0m0 5h0m-9 2h0m10 0h0m-5 1h0m8 0h0m-4 1h0m-9 2h0m-3 1h0m-2 0h0m5 0h0m1 1h0m6 0h0m-6 2h0m5 0h0m-5 1h0m-6 1h0m4 0h0m11 0h0m-6 1h0m2 0h0m6 0h0m-9 4h0m1 253h0m4 0h0m0 0h0m3 0h0m3 2h0m-9 1h0m7 0h0m-15 1h0m9 1h0m-9 1h0m1 0h0m2 0h0m-2 0h0m5 1h0m-5 2h0m6 2h0m-1 0h0m10 0h0m-17 1h0m4 0h0m4 0h0m-5 1h0m-1 0h0m1 0h0m10 1h0m-11 1h0m12 1h0m-5 1h0m-1 1h0m1 1h0m4 1h0m-12 1h0m4 0h0m-4 1h0m9 1h0m5 1h0m-14 1h0m10 1h0m1 0h0m-7 6h0m5 0h0m1 1h0m-11 1h0m4 0h0m1 0h0m9 1h0m-9 1h0m3 1h0m1 0h0m-10 2h0m10 1h0m2 0h0m-9 1h0m-3 1h0m13 1h0m-8 2h0m2 1h0m-5 5h0m9 3h0m7 2h0m-16 2h0m3 1h0m-5 2h0m5 1h0m4 7h0m-3 1h0m-1 4h0m10 2h0m0 0h0m-15 1h0m10 1h0m6 2h0m-7 3h0m-1 2h0m2 0h0m-8 1h0m12 2h0m4 1h0m0 1h0m-5 3h0m-8 1h0m14 1h0m-15 6h0m-3 10h0m9 1h0m19-412h0m8 0h0m-12 3h0m0 11h0m12 0h0m-9 1h0m10 4h0m-13 1h0m14 1h0m-2 1h0m0 2h0m-3 1h0m-2 1h0m2 0h0m-8 3h0m-4 1h0m12 0h0m-1 0h0m6 0h0m-3 1h0m-6 1h0m-3 0h0m4 0h0m7 1h0m-15 1h0m8 1h0m-3 0h0m0 1h0m-4 1h0m1 0h0m4 1h0m-6 1h0m11 0h0m-11 2h0m-1 1h0m4 0h0m-1 0h0m2 1h0m6 0h0m-3 253h0m5 1h0m-5 1h0m-10 1h0m13 1h0m1 0h0m1 0h0m-6 1h0m9 1h0m-9 1h0m7 0h0m-8 0h0m2 2h0m4 0h0m-14 1h0m5 3h0m-2 0h0m9 0h0m4 0h0m-3 1h0m-13 1h0m13 0h0m-6 0h0m2 1h0m-3 2h0m-3 0h0m12 0h0m2 0h0m-7 1h0m7 0h0m2 0h0m-9 0h0m4 1h0m-10 1h0m-1 1h0m13 0h0m-14 2h0m14 0h0m3 3h0m0 1h0m-15 1h0m8 1h0m3 0h0m-11 1h0m2 0h0m-3 0h0m7 0h0m1 2h0m-4 1h0m1 0h0m3 0h0m7 0h0m-18 1h0m12 1h0m-12 1h0m1 3h0m2 1h0m0 1h0m11 0h0m3 1h0m-12 2h0m8 0h0m3 0h0m-9 2h0m2 0h0m-5 2h0m14 1h0m-1 4h0m-15 1h0m12 0h0m4 1h0m-18 2h0m8 0h0m3 0h0m7 0h0m-2 1h0m1 1h0m-9 2h0m2 2h0m-1 0h0m1 0h0m0 1h0m-9 3h0m11 1h0m3 3h0m-10 5h0m2 4h0m-7 1h0m14 0h0m-13 1h0m11 1h0m-1 3h0m4 2h0m-9 1h0m-3 0h0m16 3h0m-4 5h0m1 11h0m-15 2h0m31-418h0m-9 1h0m-1 4h0m8 0h0m6 3h0m-2 1h0m-9 5h0m1 0h0m4 2h0m1 0h0m-5 3h0m8 2h0m-11 3h0m3 0h0m12 0h0m0 5h0m-15 1h0m14 3h0m-11 3h0m7 1h0m-5 1h0m8 0h0m-4 2h0m-11 4h0m7 1h0m2 0h0m8 0h0m-16 3h0m0 0h0m-1 0h0m8 0h0m-5 2h0m13 249h0m-6 3h0m-4 1h0m-6 1h0m12 1h0m-1 0h0m-5 3h0m5 0h0m5 0h0m-15 1h0m0 0h0m4 2h0m4 0h0m5 1h0m-11 1h0m2 0h0m11 1h0m-12 2h0m8 0h0m-12 1h0m12 0h0m-7 1h0m8 0h0m-1 0h0m-7 1h0m9 0h0m0 0h0m-2 2h0m-9 1h0m-1 2h0m6 0h0m1 0h0m-1 1h0m1 0h0m5 0h0m1 0h0m-2 1h0m-14 1h0m17 2h0m-16 1h0m13 0h0m-12 1h0m6 0h0m-1 0h0m8 0h0m-10 1h0m-3 1h0m7 0h0m-4 1h0m9 0h0m1 0h0m-14 0h0m7 1h0m1 0h0m10 0h0m-9 2h0m7 1h0m-14 1h0m1 1h0m13 0h0m-6 3h0m-8 1h0m11 3h0m-14 1h0m12 0h0m0 1h0m2 2h0m1 0h0m4 0h0m-13 1h0m-1 1h0m-2 0h0m4 2h0m-3 5h0m6 0h0m5 0h0m-8 2h0m3 0h0m-9 2h0m13 0h0m-2 1h0m-9 1h0m-2 0h0m13 1h0m-14 1h0m7 0h0m5 0h0m2 0h0m-14 1h0m5 2h0m11 4h0m-5 2h0m0 3h0m-4 1h0m-2 1h0m-1 0h0m7 2h0m4 0h0m-13 1h0m12 0h0m-7 4h0m9 0h0m-14 1h0m11 5h0m-6 4h0m7 1h0m2 0h0m5-412h0m4 9h0m11 5h0m-14 0h0m14 0h0m0 3h0m-13 1h0m-1 3h0m7 0h0m0 1h0m-5 0h0m10 1h0m5 2h0m0 8h0m-9 1h0m-7 0h0m16 4h0m-16 5h0m-1 4h0m8 0h0m-3 0h0m9 0h0m-1 1h0m-12 1h0m11 0h0m-7 2h0m3 1h0m0 1h0m-9 3h0m5 256h0m4 0h0m-8 1h0m-2 0h0m16 1h0m-6 1h0m4 1h0m-2 1h0m-4 1h0m11 0h0m-1 1h0m-18 1h0m8 6h0m-8 1h0m17 0h0m0 0h0m-9 1h0m3 1h0m1 1h0m-8 1h0m4 0h0m11 0h0m-6 1h0m4 0h0m-12 1h0m-3 0h0m5 0h0m7 2h0m-7 1h0m5 2h0m-3 1h0m10 0h0m-17 2h0m2 0h0m0 1h0m3 0h0m-4 1h0m10 2h0m-7 2h0m-4 2h0m7 4h0m4 2h0m-6 1h0m10 0h0m-11 1h0m5 0h0m-7 2h0m1 0h0m11 0h0m-8 1h0m2 1h0m1 4h0m-1 4h0m2 0h0m-10 2h0m10 0h0m7 2h0m-3 2h0m2 1h0m-2 0h0m3 0h0m-2 1h0m-15 1h0m1 2h0m5 2h0m-8 2h0m4 5h0m2 0h0m12 3h0m-6 3h0m2 1h0m-9 5h0m2 1h0m2 4h0m9 1h0m-17 2h0m5 0h0m5 6h0m-2 8h0m23-421h0m-4 3h0m1 4h0m-7 3h0m7 1h0m-6 6h0m15 0h0m-5 1h0m-7 3h0m10 1h0m-8 4h0m11 1h0m-11 1h0m6 0h0m0 0h0m0 0h0m1 1h0m-10 4h0m0 1h0m6 0h0m-6 1h0m7 4h0m0 3h0m2 1h0m-5 2h0m4 0h0m-4 1h0m8 0h0m-6 1h0m-9 1h0m5 0h0m0 1h0m11 0h0m-17 1h0m5 0h0m0 0h0m1 2h0m4 0h0m2 0h0m4 249h0m-15 4h0m-1 0h0m14 0h0m-6 1h0m6 0h0m1 1h0m-4 1h0m-11 1h0m6 0h0m7 0h0m4 1h0m-2 0h0m-10 1h0m-1 0h0m4 0h0m10 1h0m-11 1h0m1 0h0m5 0h0m-12 1h0m9 0h0m7 0h0m-1 1h0m-14 2h0m8 0h0m-1 2h0m5 0h0m-12 1h0m9 4h0m-8 0h0m1 1h0m2 0h0m4 1h0m-11 1h0m10 0h0m6 1h0m-1 0h0m3 0h0m-6 1h0m-11 1h0m1 2h0m4 0h0m13 0h0m-18 2h0m15 0h0m-2 1h0m-14 3h0m5 1h0m4 1h0m7 0h0m-3 1h0m2 1h0m-9 1h0m-4 2h0m15 0h0m-4 2h0m0 0h0m2 0h0m-10 1h0m1 1h0m2 0h0m-8 1h0m14 2h0m5 0h0m-7 1h0m5 0h0m-9 4h0m2 3h0m5 0h0m4 0h0m-7 3h0m4 1h0m-11 0h0m4 1h0m4 0h0m-2 0h0m6 1h0m0 1h0m1 0h0m-14 6h0m2 2h0m13 0h0m-18 1h0m5 0h0m-4 1h0m10 0h0m-4 1h0m-5 5h0m3 1h0m13 0h0m-12 4h0m10 0h0m-14 0h0m1 4h0m7 0h0m3 4h0m4 2h0m-13 11h0m14 3h0m19-400h0m-3 3h0m-3 5h0m3 0h0m-13 1h0m6 4h0m-6 2h0m0 3h0m5 0h0m2 1h0m-8 1h0m-1 4h0m13 1h0m-11 3h0m4 0h0m8 0h0m3 1h0m-7 1h0m1 0h0m-1 0h0m-7 1h0m4 1h0m4 4h0m-10 2h0m15 249h0m-12 3h0m-1 0h0m5 0h0m0 0h0m8 0h0m-15 1h0m9 0h0m-8 2h0m17 0h0m-17 1h0m4 0h0m-6 3h0m1 0h0m8 0h0m-5 1h0m-1 0h0m13 1h0m0 2h0m-1 0h0m0 2h0m-1 1h0m-13 1h0m16 1h0m-12 1h0m2 0h0m-5 1h0m-1 0h0m4 2h0m0 1h0m13 4h0m-2 2h0m-5 1h0m1 1h0m6 0h0m-16 1h0m12 2h0m-11 3h0m6 0h0m8 1h0m-15 1h0m8 3h0m2 0h0m5 4h0m-2 0h0m4 1h0m-19 5h0m2 1h0m1 0h0m7 3h0m-2 2h0m2 2h0m-7 1h0m12 1h0m-11 2h0m3 1h0m-6 1h0m12 1h0m1 2h0m-10 2h0m15 0h0m-14 1h0m6 2h0m-8 1h0m-2 1h0m3 3h0m9 2h0m-12 2h0m12 0h0m-1 5h0m-4 4h0m5 5h0m-3 6h0m24-393h0m4 1h0m-3 1h0m-3 0h0m5 1h0m-17 1h0m6 1h0m0 0h0m5 0h0m-11 1h0m2 1h0m17 0h0m-2 4h0m0 2h0m-6 1h0m1 0h0m-11 1h0m10 0h0m-10 4h0m2 0h0m5 0h0m8 0h0m-8 2h0m-8 1h0m13 0h0m2 1h0m-15 2h0m11 0h0m-8 1h0m6 1h0m-5 1h0m-1 0h0m7 2h0m-2 1h0m-8 1h0m6 1h0m3 0h0m6 0h0m-13 2h0m2 1h0m13 248h0m-9 2h0m7 2h0m-9 1h0m3 0h0m-8 2h0m1 1h0m8 0h0m8 0h0m-18 1h0m12 1h0m0 2h0m1 1h0m-5 1h0m-7 2h0m4 0h0m-5 1h0m18 1h0m-11 0h0m-4 1h0m6 0h0m-9 1h0m3 0h0m2 2h0m1 0h0m7 0h0m1 0h0m-9 1h0m9 0h0m-12 2h0m-1 1h0m9 0h0m5 0h0m-6 1h0m-3 1h0m2 0h0m-6 1h0m11 2h0m6 0h0m-10 1h0m-2 0h0m-7 1h0m6 0h0m7 0h0m-7 4h0m3 0h0m-1 0h0m10 2h0m-14 1h0m1 0h0m-4 1h0m13 1h0m-6 1h0m1 1h0m-3 1h0m8 1h0m2 0h0m-11 0h0m0 1h0m-5 1h0m13 1h0m-8 1h0m4 5h0m9 1h0m0 1h0m-12 2h0m-4 4h0m13 1h0m-12 2h0m6 2h0m9 5h0m-10 3h0m-4 7h0m10 1h0m4 1h0m-18 2h0m16 0h0m-4 3h0m3 5h0m-13 1h0m10 6h0m4 4h0m3 7h0m5-406h0m7 2h0m-11 4h0m16 0h0m1 2h0m-10 1h0m-6 2h0m11 2h0m2 1h0m-3 0h0m5 1h0m-16 6h0m10 0h0m0 1h0m6 0h0m-15 1h0m17 1h0m-2 0h0m0 4h0m-7 2h0m0 0h0m0 2h0m6 1h0m-14 1h0m14 1h0m2 0h0m-2 0h0m1 0h0m-8 1h0m0 0h0m2 1h0m2 0h0m5 0h0m-4 1h0m-1 1h0m-6 3h0m-2 0h0m11 245h0m2 2h0m-1 0h0m-13 4h0m-2 1h0m10 0h0m2 1h0m0 0h0m4 0h0m-11 1h0m7 1h0m3 0h0m-15 1h0m6 0h0m4 0h0m-9 1h0m16 0h0m-18 0h0m7 0h0m-1 1h0m1 1h0m3 0h0m3 0h0m-10 1h0m-1 1h0m17 1h0m-7 1h0m-4 3h0m6 3h0m-13 1h0m18 0h0m-15 2h0m13 0h0m0 0h0m-7 1h0m7 1h0m1 0h0m-17 2h0m8 0h0m3 0h0m-7 1h0m10 0h0m-8 1h0m8 0h0m-6 1h0m6 0h0m-13 1h0m13 1h0m2 0h0m-6 0h0m2 3h0m-4 2h0m1 2h0m6 3h0m2 3h0m-5 1h0m-2 3h0m3 0h0m2 1h0m-13 3h0m0 1h0m13 1h0m-13 4h0m2 0h0m7 0h0m-10 1h0m-2 0h0m18 0h0m-16 2h0m4 0h0m-3 0h0m4 0h0m4 0h0m6 0h0m-1 3h0m-9 3h0m12 1h0m-1 3h0m-13 1h0m5 1h0m6 0h0m-15 4h0m14 0h0m0 2h0m-4 1h0m-1 1h0m9 1h0m-3 3h0m-15 1h0m15 1h0m-7 4h0m7 0h0m-16 5h0m12 1h0m-4 11h0m26-415h0m-13 7h0m13 3h0m-8 16h0m11 0h0m-3 1h0m-10 1h0m4 0h0m-8 2h0m5 0h0m-1 1h0m8 4h0m-10 2h0m10 0h0m2 0h0m2 0h0m-10 1h0m3 2h0m2 0h0m-6 1h0m8 2h0m1 0h0m-13 1h0m14 2h0m-9 2h0m-1 0h0m8 0h0m-9 1h0m10 0h0m-7 2h0m-4 1h0m4 1h0m-5 250h0m0 0h0m11 0h0m-7 1h0m2 1h0m-7 3h0m15 0h0m0 1h0m-4 1h0m-10 1h0m15 0h0m-1 0h0m-16 1h0m9 0h0m9 1h0m-15 1h0m8 0h0m-3 0h0m-7 2h0m17 0h0m-16 2h0m8 0h0m-8 1h0m11 1h0m-2 0h0m4 1h0m2 1h0m-11 2h0m2 0h0m6 0h0m3 0h0m-11 1h0m1 4h0m-4 5h0m7 2h0m5 0h0m-9 1h0m2 0h0m-3 1h0m9 0h0m1 0h0m-3 0h0m5 1h0m-2 1h0m-13 5h0m8 3h0m9 0h0m0 1h0m-17 4h0m2 0h0m6 5h0m8 1h0m-14 1h0m13 0h0m2 0h0m-4 2h0m3 0h0m-16 1h0m0 0h0m-1 1h0m7 0h0m6 1h0m3 1h0m-4 3h0m-3 1h0m4 1h0m3 0h0m-16 5h0m7 2h0m1 3h0m-6 2h0m7 2h0m-6 1h0m15 1h0m-3 1h0m-13 2h0m5 22h0m-8 4h0m26-416h0m7 2h0m-12 1h0m1 1h0m8 2h0m5 3h0m-1 1h0m-6 8h0m-1 5h0m5 4h0m6 0h0m-16 3h0m-2 1h0m3 0h0m3 0h0m-2 0h0m8 0h0m3 0h0m-14 1h0m0 0h0m8 0h0m3 0h0m3 1h0m-9 2h0m5 0h0m0 1h0m-3 1h0m6 0h0m-1 0h0m2 1h0m1 1h0m-5 3h0m0 1h0m4 0h0m4 0h0m-14 1h0m7 0h0m0 1h0m6 0h0m-5 1h0m-13 1h0m4 1h0m9 0h0m-9 1h0m-2 1h0m16 0h0m-11 248h0m3 1h0m-5 1h0m13 2h0m-3 1h0m4 1h0m-17 1h0m-1 1h0m18 0h0m-17 1h0m4 1h0m-2 1h0m3 1h0m5 0h0m0 1h0m-5 1h0m0 1h0m-4 1h0m3 0h0m-2 0h0m13 3h0m-5 2h0m-2 1h0m-2 0h0m2 1h0m-7 1h0m9 0h0m6 0h0m-15 0h0m-1 1h0m10 0h0m-6 1h0m4 1h0m8 0h0m-16 1h0m11 1h0m-8 2h0m12 0h0m0 1h0m-14 1h0m15 0h0m0 1h0m-15 2h0m9 0h0m-8 1h0m3 2h0m0 0h0m12 0h0m-6 1h0m-6 1h0m8 0h0m-5 1h0m-9 1h0m1 0h0m9 1h0m-1 2h0m-9 1h0m2 0h0m4 0h0m5 3h0m-5 5h0m2 2h0m-6 1h0m-1 3h0m7 0h0m8 0h0m-16 1h0m14 1h0m-13 3h0m10 1h0m-5 1h0m-6 1h0m9 0h0m2 2h0m-1 1h0m3 0h0m2 0h0m-2 2h0m1 0h0m-9 2h0m10 0h0m0 5h0m-15 2h0m5 0h0m11 0h0m-17 2h0m15 2h0m3 0h0m-8 4h0m3 1h0m5 2h0m-2 2h0m-9 1h0m-7 4h0m13 2h0m3 7h0m12-416h0m-7 13h0m13 4h0m-4 2h0m0 7h0m1 3h0m-9 1h0m10 2h0m-6 1h0m0 0h0m7 1h0m-4 2h0m10 0h0m-1 1h0m-8 1h0m-6 1h0m5 3h0m5 1h0m-7 1h0m5 0h0m4 1h0m-12 1h0m-1 3h0m5 2h0m-4 1h0m11 0h0m-11 2h0m11 0h0m-15 249h0m14 0h0m4 2h0m-4 1h0m3 0h0m-11 1h0m12 0h0m-2 0h0m-12 2h0m5 1h0m5 0h0m-3 0h0m-9 1h0m5 0h0m9 0h0m3 0h0m-17 1h0m4 0h0m-2 1h0m0 0h0m1 1h0m9 0h0m-1 1h0m-12 1h0m14 0h0m-12 1h0m15 1h0m-8 1h0m8 0h0m-17 2h0m8 2h0m9 1h0m-16 3h0m8 2h0m-8 1h0m0 1h0m11 0h0m5 3h0m1 1h0m-8 1h0m4 1h0m1 2h0m-10 4h0m8 0h0m0 0h0m-13 1h0m15 0h0m3 0h0m-9 2h0m-9 2h0m14 2h0m4 2h0m-17 1h0m8 1h0m3 0h0m4 1h0m-7 3h0m-7 2h0m11 0h0m1 2h0m-11 0h0m14 0h0m-4 1h0m-13 1h0m11 3h0m-9 4h0m11 4h0m-9 5h0m10 0h0m-10 1h0m-4 3h0m14 3h0m-3 5h0m-9 3h0m16 7h0m-18 2h0m1 2h0m2 0h0m23-400h0m12 1h0m-16 2h0m2 1h0m1 2h0m5 0h0m-1 5h0m0 4h0m9 0h0m-7 5h0m7 4h0m-15 2h0m9 0h0m-9 1h0m0 3h0m3 0h0m-1 1h0m2 1h0m-5 0h0m8 1h0m8 0h0m-17 1h0m7 0h0m-8 2h0m12 1h0m6 0h0m-5 2h0m5 0h0m-13 1h0m2 0h0m8 0h0m-3 2h0m-13 3h0m3 0h0m2 3h0m11 244h0m2 0h0m-15 1h0m8 0h0m6 2h0m-14 1h0m2 0h0m-4 1h0m12 1h0m-11 1h0m8 1h0m5 0h0m-15 1h0m10 0h0m3 2h0m-4 3h0m7 0h0m3 0h0m-12 2h0m2 1h0m-7 1h0m12 0h0m-13 1h0m10 0h0m5 0h0m-16 3h0m19 2h0m-6 2h0m-10 1h0m10 0h0m3 1h0m3 1h0m-6 2h0m-13 1h0m7 3h0m2 1h0m1 2h0m-1 0h0m9 0h0m-18 1h0m9 1h0m8 0h0m-13 1h0m3 0h0m7 0h0m2 1h0m-2 1h0m-12 1h0m11 0h0m1 4h0m-11 1h0m14 0h0m-11 1h0m3 0h0m-3 2h0m3 0h0m10 0h0m-13 1h0m7 1h0m-12 1h0m17 1h0m-8 3h0m2 0h0m-6 1h0m13 0h0m-11 4h0m-1 1h0m-5 3h0m10 1h0m3 0h0m3 2h0m-9 1h0m10 5h0m-2 2h0m-3 1h0m0 2h0m-10 2h0m14 1h0m-4 5h0m2 0h0m-1 4h0m0 2h0m-7 6h0m-2 10h0m2 0h0m15-403h0m2 4h0m4 2h0m5 5h0m0 0h0m-7 1h0m1 1h0m-3 3h0m0 6h0m2 0h0m2 1h0m-8 1h0m11 0h0m-9 1h0m4 2h0m-3 1h0m-3 2h0m11 0h0m-5 1h0m1 0h0m-4 2h0m9 0h0m-11 1h0m5 0h0m-5 3h0m4 0h0m8 0h0m-5 1h0m9 0h0m-6 1h0m-1 0h0m-5 1h0m3 0h0m-3 2h0m-6 246h0m10 2h0m4 0h0m0 1h0m0 0h0m3 1h0m-2 2h0m-7 1h0m-6 1h0m2 0h0m4 0h0m5 1h0m3 0h0m-14 1h0m1 0h0m15 0h0m-8 6h0m7 0h0m-1 0h0m3 0h0m-10 1h0m6 0h0m-12 1h0m15 1h0m-14 1h0m12 0h0m-10 1h0m2 0h0m2 1h0m-10 2h0m11 1h0m0 1h0m-3 2h0m0 0h0m-6 1h0m0 1h0m15 0h0m-2 1h0m2 0h0m-4 0h0m4 1h0m-9 3h0m2 2h0m6 2h0m-14 1h0m-1 1h0m1 1h0m3 0h0m10 0h0m4 0h0m-4 2h0m-5 2h0m-2 1h0m-2 0h0m2 1h0m10 0h0m-14 1h0m11 0h0m-8 8h0m-6 1h0m8 0h0m9 1h0m-3 3h0m1 1h0m-3 1h0m5 1h0m-17 1h0m3 0h0m4 1h0m4 3h0m4 1h0m-11 1h0m1 2h0m5 0h0m-7 2h0m-2 1h0m-1 2h0m0 1h0m5 2h0m11 1h0m-11 2h0m2 5h0m6 1h0m-2 4h0m-5 2h0m9 11h0m19-417h0m-3 6h0m-5 9h0m6 1h0m5 6h0m-1 2h0m-6 3h0m5 1h0m-8 3h0m1 1h0m5 0h0m-3 0h0m0 0h0m-2 1h0m2 1h0m-10 2h0m14 1h0m-2 2h0m-8 3h0m12 1h0m-15 1h0m17 0h0m-6 1h0m0 0h0m4 1h0m2 0h0m0 0h0m-19 1h0m12 0h0m-11 1h0m6 0h0m7 1h0m-2 0h0m-2 2h0m-5 1h0m5 0h0m-1 1h0m-3 1h0m12 1h0m-13 2h0m2 0h0m11 0h0m-7 1h0m-8 1h0m2 0h0m10 246h0m4 0h0m-3 2h0m1 0h0m-4 2h0m3 3h0m-16 1h0m2 1h0m3 0h0m-1 1h0m9 0h0m6 0h0m-10 1h0m2 0h0m4 1h0m-15 1h0m1 0h0m16 0h0m-2 1h0m0 2h0m-10 1h0m2 0h0m4 0h0m2 0h0m-11 1h0m1 1h0m6 1h0m-4 2h0m7 2h0m0 1h0m1 0h0m3 1h0m-16 2h0m16 1h0m-11 1h0m4 0h0m9 1h0m-3 1h0m-14 1h0m16 1h0m2 0h0m-2 2h0m-14 1h0m10 0h0m-4 1h0m1 0h0m3 0h0m-12 2h0m4 0h0m10 0h0m-1 1h0m3 0h0m-16 1h0m13 1h0m-6 1h0m2 1h0m6 1h0m3 0h0m-17 1h0m12 0h0m-10 1h0m12 0h0m-11 1h0m-1 0h0m-1 1h0m3 0h0m7 0h0m-8 1h0m10 1h0m-3 1h0m-11 1h0m4 2h0m2 3h0m-5 1h0m7 1h0m-5 2h0m13 2h0m-11 2h0m-3 3h0m16 1h0m-17 1h0m15 2h0m0 1h0m-14 2h0m6 0h0m1 2h0m9 0h0m-6 2h0m5 1h0m-11 1h0m7 1h0m-11 5h0m0 3h0m-3 2h0m17 3h0m-9 2h0m-5 5h0m27-412h0m-2 9h0m5 5h0m-3 1h0m1 7h0m-3 4h0m8 2h0m-15 3h0m4 1h0m-1 1h0m8 0h0m-7 7h0m-3 0h0m1 0h0m15 1h0m-3 2h0m-9 0h0m-2 3h0m8 0h0m0 0h0m-2 0h0m-3 3h0m-7 1h0m5 1h0m6 0h0m-5 0h0m0 1h0m-1 0h0m14 0h0m-11 1h0m0 0h0m5 1h0m-1 1h0m-7 0h0m13 2h0m-8 251h0m9 0h0m-16 1h0m7 1h0m4 2h0m-8 2h0m5 0h0m-1 0h0m2 2h0m6 0h0m-7 1h0m7 0h0m-3 0h0m4 1h0m-2 1h0m-7 1h0m3 0h0m-11 1h0m5 0h0m-4 1h0m-3 1h0m7 0h0m-5 1h0m2 0h0m4 1h0m-7 1h0m1 0h0m16 0h0m-17 1h0m0 2h0m6 0h0m7 0h0m-5 1h0m-6 2h0m0 2h0m12 1h0m-7 1h0m9 0h0m-16 2h0m14 0h0m-3 2h0m-7 1h0m-5 3h0m15 0h0m1 0h0m3 0h0m-10 1h0m0 1h0m6 3h0m-13 4h0m11 2h0m0 2h0m1 2h0m-5 1h0m-2 0h0m4 0h0m5 3h0m-16 2h0m7 1h0m5 0h0m-11 3h0m4 0h0m-2 0h0m4 0h0m7 1h0m-8 1h0m2 0h0m1 1h0m7 0h0m-15 2h0m17 0h0m-17 1h0m15 0h0m-4 0h0m1 3h0m5 2h0m-1 1h0m-17 1h0m13 2h0m6 0h0m-5 1h0m-13 1h0m18 2h0m-4 4h0m-10 8h0m4 0h0m6 4h0m-15 4h0m19 7h0m-7 1h0m-10 9h0m23-405h0m-2 2h0m15 0h0m-15 1h0m6 1h0m-1 2h0m8 0h0m-4 1h0m-9 1h0m8 2h0m-6 2h0m5 1h0m8 0h0m-9 5h0m3 0h0m-2 2h0m2 0h0m-2 0h0m8 0h0m-16 3h0m17 1h0m-5 2h0m-1 0h0m-11 2h0m9 1h0m1 0h0m4 0h0m-10 1h0m9 1h0m-1 1h0m-3 0h0m1 0h0m-11 2h0m7 0h0m4 0h0m-8 1h0m3 0h0m6 1h0m-10 1h0m10 1h0m-1 0h0m-1 0h0m8 245h0m-14 3h0m9 0h0m5 0h0m-17 2h0m14 0h0m2 0h0m-17 2h0m5 0h0m-2 2h0m-4 1h0m6 0h0m12 0h0m-3 1h0m-14 1h0m1 1h0m6 1h0m8 0h0m-10 1h0m7 1h0m0 0h0m-2 0h0m-9 3h0m5 0h0m5 0h0m-4 1h0m5 1h0m-1 0h0m-4 1h0m9 0h0m-11 2h0m-3 0h0m-2 2h0m2 0h0m4 0h0m0 1h0m1 0h0m0 1h0m5 1h0m-4 1h0m6 0h0m-3 1h0m-5 3h0m-3 1h0m8 0h0m-12 1h0m1 2h0m6 0h0m-3 2h0m9 0h0m-9 2h0m9 1h0m-5 1h0m10 2h0m-18 1h0m17 1h0m-17 1h0m19 1h0m-18 2h0m6 0h0m12 1h0m-8 1h0m-7 1h0m6 0h0m-7 1h0m9 1h0m5 0h0m-14 1h0m9 0h0m-10 1h0m14 3h0m-8 6h0m5 1h0m4 0h0m2 0h0m-17 5h0m7 0h0m1 4h0m2 4h0m0 2h0m6 0h0m-12 18h0m-3 4h0m1 8h0m26-402h0m4 1h0m4 4h0m-17 1h0m12 1h0m-6 1h0m7 0h0m-1 1h0m-7 3h0m-2 0h0m-3 1h0m0 3h0m18 0h0m-9 3h0m4 1h0m5 0h0m-11 1h0m-3 2h0m-2 2h0m1 1h0m0 3h0m10 0h0m-7 1h0m1 0h0m6 0h0m2 0h0m-13 1h0m3 2h0m9 1h0m-9 4h0m0 0h0m6 0h0m-1 0h0m7 2h0m-5 249h0m-9 2h0m4 1h0m3 0h0m2 0h0m4 1h0m1 0h0m-3 0h0m4 0h0m-14 1h0m14 1h0m-6 1h0m0 0h0m-3 1h0m-9 1h0m-1 1h0m5 2h0m2 0h0m7 0h0m3 2h0m-4 1h0m-11 1h0m4 0h0m3 1h0m7 0h0m1 2h0m-15 1h0m13 1h0m-11 2h0m3 2h0m-3 2h0m-2 1h0m3 1h0m1 0h0m11 1h0m-2 1h0m-13 2h0m8 0h0m-5 1h0m8 0h0m-12 1h0m8 0h0m1 6h0m-3 1h0m5 1h0m3 0h0m-13 3h0m1 0h0m12 1h0m-15 0h0m1 0h0m7 4h0m7 0h0m2 0h0m-13 1h0m8 0h0m-10 1h0m6 1h0m3 1h0m4 2h0m4 1h0m-1 2h0m-12 2h0m-3 0h0m13 0h0m-4 1h0m-2 0h0m-9 2h0m11 0h0m7 2h0m-4 3h0m-13 1h0m14 0h0m-10 1h0m11 1h0m-5 1h0m3 0h0m-7 2h0m8 0h0m-3 1h0m0 2h0m-6 0h0m0 3h0m-6 1h0m6 2h0m-6 1h0m-1 5h0m18 2h0m-13 3h0m9 3h0m-13 2h0m3 1h0m1 4h0m-4 7h0m31-415h0m-4 13h0m-8 9h0m2 1h0m-1 1h0m2 0h0m-2 11h0m2 1h0m3 1h0m-4 1h0m17 1h0m-19 1h0m4 0h0m13 0h0m1 0h0m-2 0h0m-8 1h0m10 1h0m-14 1h0m-1 1h0m7 1h0m7 0h0m-8 1h0m7 0h0m3 1h0m-18 1h0m6 2h0m-1 0h0m5 0h0m-9 1h0m12 2h0m-3 245h0m-2 2h0m-9 1h0m3 0h0m5 1h0m-3 1h0m2 0h0m6 0h0m-1 0h0m5 2h0m-13 1h0m-3 2h0m12 0h0m-8 2h0m6 1h0m6 3h0m-15 2h0m2 0h0m5 1h0m6 1h0m-5 1h0m-10 2h0m10 2h0m1 1h0m-11 1h0m5 0h0m9 1h0m1 0h0m-9 1h0m8 0h0m3 0h0m1 0h0m-3 1h0m-10 1h0m1 0h0m7 0h0m2 0h0m-9 1h0m10 0h0m0 3h0m2 1h0m-17 1h0m0 0h0m3 0h0m-2 1h0m17 1h0m-6 0h0m-6 1h0m1 0h0m1 2h0m2 0h0m0 0h0m-6 1h0m-2 0h0m0 1h0m9 2h0m4 1h0m-4 1h0m4 3h0m-15 1h0m2 1h0m4 0h0m3 3h0m-8 1h0m-1 3h0m1 0h0m5 1h0m4 1h0m3 3h0m-4 3h0m-1 1h0m2 2h0m3 3h0m-3 2h0m6 0h0m-3 2h0m5 2h0m-6 1h0m1 11h0m-11 1h0m13 2h0m-16 2h0m8 2h0m7 5h0m10-395h0m4 2h0m10 1h0m-4 6h0m-11 4h0m8 1h0m7 0h0m-1 1h0m-11 1h0m11 0h0m-3 2h0m-10 1h0m4 1h0m-1 1h0m9 0h0m0 0h0m-7 1h0m8 1h0m0 0h0m-14 2h0m12 0h0m-13 2h0m-3 1h0m4 0h0m-4 2h0m7 0h0m10 0h0m-8 3h0m2 0h0m-9 1h0m15 0h0m-16 0h0m0 2h0m4 0h0m7 0h0m0 0h0m6 0h0m-15 1h0m7 0h0m7 0h0m-2 1h0m-8 2h0m3 0h0m3 0h0m2 0h0m3 1h0m-9 245h0m7 2h0m3 1h0m-1 1h0m-14 0h0m1 1h0m2 0h0m9 0h0m-10 1h0m4 2h0m2 0h0m-7 1h0m-2 1h0m6 0h0m8 0h0m-12 1h0m-2 1h0m-3 1h0m4 0h0m6 0h0m3 1h0m2 0h0m-11 1h0m8 1h0m6 0h0m-6 1h0m-9 1h0m8 0h0m-6 1h0m4 0h0m-4 1h0m-1 1h0m10 0h0m-14 2h0m18 0h0m-7 1h0m-7 1h0m3 0h0m9 0h0m-15 1h0m16 0h0m-11 1h0m4 0h0m-4 2h0m5 0h0m-5 1h0m-1 0h0m12 1h0m-12 1h0m4 0h0m9 0h0m-6 1h0m5 0h0m-2 0h0m-8 1h0m7 0h0m-14 1h0m0 0h0m7 6h0m7 0h0m-4 1h0m0 0h0m-4 1h0m1 0h0m7 0h0m5 1h0m-6 1h0m-7 2h0m-5 4h0m15 1h0m-16 2h0m6 0h0m-4 1h0m13 2h0m-12 5h0m6 1h0m-2 1h0m2 0h0m1 1h0m7 0h0m-13 1h0m15 0h0m-11 3h0m5 2h0m-8 1h0m5 0h0m-8 3h0m2 2h0m5 5h0m0 2h0m10 0h0m-1 4h0m0 0h0m0 5h0m1 1h0m-8 14h0m5 3h0m1 5h0m22-415h0m-18 12h0m0 6h0m18 2h0m-10 4h0m-3 1h0m-1 4h0m12 0h0m-14 1h0m14 0h0m-3 1h0m-10 4h0m13 0h0m-15 1h0m13 1h0m-7 1h0m8 0h0m-6 1h0m-5 1h0m5 0h0m-4 1h0m1 0h0m0 1h0m9 0h0m-8 1h0m6 0h0m-13 0h0m-1 1h0m17 0h0m-6 1h0m-11 1h0m5 0h0m13 0h0m-1 4h0m0 0h0m-7 2h0m-2 0h0m1 0h0m-8 1h0m3 1h0m3 1h0m9 242h0m-6 3h0m1 0h0m-9 1h0m13 0h0m-10 1h0m10 0h0m-10 1h0m8 1h0m-12 1h0m2 0h0m4 0h0m5 1h0m-12 1h0m14 0h0m-5 1h0m1 0h0m-6 1h0m9 0h0m5 0h0m-7 2h0m-5 1h0m4 0h0m7 0h0m-14 2h0m12 0h0m-13 1h0m8 2h0m-1 2h0m-1 0h0m-6 1h0m4 0h0m3 1h0m5 0h0m2 0h0m-14 1h0m5 0h0m3 0h0m-5 2h0m12 4h0m-7 2h0m-3 1h0m-2 2h0m7 3h0m-2 1h0m2 0h0m1 2h0m0 1h0m-11 1h0m0 1h0m9 0h0m0 1h0m-1 1h0m-2 1h0m6 0h0m-9 2h0m2 0h0m10 0h0m-9 2h0m-2 1h0m8 1h0m-6 1h0m-2 1h0m1 1h0m6 1h0m-11 0h0m3 1h0m2 0h0m8 0h0m2 0h0m-11 2h0m10 0h0m3 0h0m-5 1h0m1 0h0m3 0h0m1 0h0m-16 1h0m-2 3h0m6 2h0m9 1h0m-10 1h0m-6 4h0m17 1h0m1 1h0m-8 3h0m1 0h0m-2 2h0m-4 6h0m4 1h0m6 2h0m0 0h0m-6 5h0m6 11h0m-6 4h0m-1 1h0m25-410h0m3 8h0m-7 2h0m7 0h0m-3 3h0m3 5h0m3 1h0m-8 2h0m4 0h0m-9 4h0m9 0h0m-12 1h0m8 2h0m-10 3h0m12 1h0m-3 1h0m-7 2h0m7 0h0m1 1h0m1 0h0m2 2h0m-5 2h0m1 0h0m3 0h0m2 0h0m-10 3h0m2 0h0m12 1h0m-6 1h0m-6 1h0m-3 1h0m8 0h0m1 0h0m1 0h0m0 3h0m-3 0h0m-8 1h0m1 0h0m-1 1h0m13 0h0m-13 246h0m15 0h0m1 0h0m-3 4h0m2 1h0m-15 1h0m11 0h0m3 0h0m-7 1h0m-9 1h0m9 0h0m-6 2h0m11 0h0m0 0h0m4 0h0m-7 1h0m-9 1h0m1 1h0m0 0h0m3 0h0m-1 1h0m3 0h0m-5 1h0m5 0h0m-3 2h0m9 0h0m-4 2h0m0 2h0m-6 2h0m2 0h0m3 0h0m-2 0h0m4 0h0m4 1h0m-5 1h0m6 1h0m-17 1h0m10 0h0m3 0h0m-2 1h0m1 1h0m-5 2h0m2 4h0m-2 2h0m7 1h0m5 1h0m-17 2h0m17 1h0m-5 1h0m-4 3h0m-3 1h0m8 0h0m-3 0h0m-10 1h0m8 0h0m3 3h0m5 0h0m0 2h0m-14 1h0m11 0h0m2 0h0m-7 1h0m-6 3h0m3 0h0m-1 1h0m8 0h0m1 0h0m3 7h0m-12 1h0m9 7h0m0 2h0m-3 3h0m4 2h0m-3 1h0m5 10h0m-9 6h0m-3 7h0m-5 5h0m16 4h0m-15 1h0m35-412h0m-4 12h0m6 8h0m-13 1h0m-2 0h0m3 0h0m-5 1h0m8 0h0m5 0h0m-6 1h0m-1 2h0m6 0h0m0 2h0m5 1h0m-9 0h0m-1 1h0m0 0h0m-7 2h0m14 0h0m2 0h0m-11 1h0m0 1h0m4 0h0m-5 1h0m1 0h0m7 1h0m-14 2h0m16 1h0m-8 1h0m8 1h0m-6 1h0m5 0h0m-4 1h0m0 2h0m-6 1h0m10 0h0m-6 1h0m5 1h0m-1 0h0m-1 1h0m-2 246h0m-1 1h0m-6 1h0m5 0h0m-4 1h0m12 0h0m2 1h0m-13 1h0m3 0h0m2 1h0m2 0h0m-4 1h0m6 0h0m-3 0h0m-5 1h0m6 1h0m-7 1h0m3 0h0m-1 0h0m-3 1h0m-4 5h0m2 1h0m2 1h0m14 1h0m0 0h0m-2 1h0m-15 1h0m8 2h0m9 0h0m-18 1h0m5 1h0m-2 0h0m1 0h0m6 0h0m-1 0h0m0 1h0m-4 0h0m5 1h0m-3 0h0m7 0h0m5 0h0m-7 1h0m-2 2h0m1 0h0m-10 1h0m2 0h0m16 0h0m-6 1h0m-8 1h0m10 0h0m-14 2h0m10 0h0m7 2h0m-17 2h0m5 0h0m13 0h0m-10 1h0m-7 1h0m2 0h0m12 2h0m3 0h0m-14 2h0m1 0h0m1 2h0m10 0h0m-7 1h0m2 0h0m-3 2h0m-6 1h0m14 0h0m-7 1h0m-5 1h0m1 2h0m0 0h0m9 0h0m4 2h0m-11 1h0m-1 3h0m8 1h0m-3 3h0m-8 1h0m-4 7h0m19 4h0m-10 3h0m6 3h0m-6 2h0m2 2h0m-8 2h0m15 3h0m-5 1h0m-2 5h0m-8 4h0m-1 6h0m23-404h0m9 2h0m-4 10h0m-3 2h0m5 1h0m-3 7h0m2 4h0m-3 2h0m-3 3h0m-4 1h0m18 0h0m-8 1h0m4 1h0m-11 0h0m-1 1h0m10 0h0m5 0h0m-9 2h0m-3 2h0m-4 2h0m-1 0h0m6 0h0m11 0h0m-3 0h0m-12 3h0m14 0h0m0 0h0m-1 1h0m-2 2h0m-3 2h0m4 0h0m1 0h0m-9 1h0m0 244h0m-6 2h0m0 1h0m12 0h0m-8 1h0m14 0h0m0 1h0m-19 1h0m5 0h0m0 1h0m10 0h0m-7 2h0m8 0h0m-8 1h0m8 0h0m-15 3h0m15 0h0m-5 2h0m-4 3h0m8 0h0m-8 1h0m8 0h0m3 1h0m-16 1h0m1 1h0m3 1h0m7 0h0m-8 2h0m-1 1h0m5 0h0m0 2h0m3 1h0m-2 1h0m9 2h0m-13 1h0m2 2h0m0 1h0m5 0h0m5 2h0m-15 2h0m3 1h0m11 0h0m-16 2h0m18 1h0m-16 1h0m14 0h0m-2 0h0m-6 1h0m-5 2h0m10 0h0m-5 1h0m5 0h0m-1 3h0m6 1h0m-18 4h0m1 2h0m-2 2h0m16 1h0m0 8h0m-13 1h0m-3 1h0m3 0h0m15 4h0m-15 1h0m3 3h0m5 3h0m-5 1h0m1 0h0m-3 1h0m0 1h0m4 1h0m5 0h0m-8 2h0m-3 1h0m13 4h0m-8 1h0m10 1h0m-4 7h0m5 2h0m1 1h0m4-396h0m16 1h0m-2 3h0m-6 7h0m-8 5h0m7 0h0m3 1h0m-7 3h0m9 2h0m-5 2h0m-3 2h0m6 0h0m-4 0h0m1 1h0m9 1h0m0 2h0m-3 3h0m-7 3h0m-1 0h0m-7 1h0m12 0h0m3 0h0m1 0h0m-15 2h0m12 0h0m2 0h0m-10 1h0m13 0h0m-17 1h0m7 0h0m8 0h0m2 0h0m-6 1h0m2 0h0m-8 245h0m6 3h0m2 0h0m-3 1h0m-1 1h0m-4 3h0m4 1h0m5 0h0m2 0h0m-10 1h0m3 2h0m5 0h0m1 0h0m-13 1h0m12 1h0m-12 1h0m4 0h0m5 0h0m0 1h0m-1 0h0m0 2h0m2 0h0m-12 1h0m10 0h0m0 2h0m-10 2h0m1 0h0m2 1h0m1 3h0m8 0h0m-9 1h0m-3 1h0m7 0h0m-8 1h0m14 1h0m-10 1h0m8 0h0m5 1h0m-16 3h0m3 1h0m9 0h0m4 0h0m-3 0h0m-2 1h0m-1 1h0m-5 3h0m8 0h0m-1 1h0m1 1h0m-13 1h0m3 1h0m13 0h0m-17 1h0m3 3h0m-1 0h0m15 2h0m-14 2h0m2 1h0m5 2h0m-2 4h0m3 1h0m-11 2h0m-1 1h0m10 1h0m-8 1h0m-1 0h0m3 0h0m6 0h0m-10 1h0m13 2h0m-8 2h0m14 0h0m-14 1h0m7 0h0m2 1h0m-2 2h0m3 1h0m1 10h0m-11 1h0m1 1h0m-3 2h0m10 0h0m-6 6h0m8 2h0m-14 19h0m1 1h0m28-418h0m4 13h0m2 14h0m-2 2h0m-7 1h0m11 1h0m-14 1h0m0 1h0m0 1h0m7 0h0m-1 4h0m-10 1h0m4 0h0m3 0h0m6 0h0m-2 1h0m-10 1h0m10 0h0m7 0h0m-17 1h0m-1 3h0m13 0h0m-3 1h0m3 0h0m-12 2h0m0 1h0m1 0h0m-2 0h0m14 0h0m-7 2h0m9 1h0m-15 1h0m13 1h0m-3 0h0m7 0h0m-1 244h0m-2 0h0m-15 2h0m12 0h0m3 0h0m0 0h0m-11 1h0m0 0h0m5 0h0m1 0h0m1 1h0m0 0h0m-8 1h0m6 0h0m8 0h0m0 0h0m-11 2h0m-2 0h0m8 0h0m-6 1h0m-5 2h0m1 0h0m6 0h0m-5 1h0m1 0h0m-1 2h0m8 2h0m-9 2h0m6 1h0m9 0h0m-15 1h0m12 0h0m-8 1h0m4 0h0m6 0h0m-7 1h0m5 0h0m-6 1h0m0 1h0m10 0h0m-14 2h0m-1 0h0m6 0h0m-8 1h0m4 1h0m4 2h0m8 0h0m-5 1h0m7 0h0m-16 2h0m1 0h0m15 2h0m-8 1h0m6 0h0m-5 1h0m-11 3h0m14 0h0m-3 1h0m6 0h0m-16 1h0m-1 2h0m4 0h0m7 0h0m-5 3h0m-6 7h0m9 1h0m-5 1h0m-2 1h0m5 1h0m9 0h0m-16 3h0m9 4h0m-1 1h0m10 2h0m-11 1h0m4 2h0m-2 4h0m-8 4h0m14 0h0m-9 4h0m12 1h0m-17 4h0m1 3h0m3 2h0m-2 2h0m-4 1h0m6 0h0m5 3h0m1 5h0m-4 6h0m19-401h0m2 4h0m6 5h0m-6 8h0m3 0h0m5 1h0m-2 0h0m2 4h0m-5 3h0m-2 2h0m9 0h0m-7 2h0m6 0h0m-7 1h0m1 3h0m5 0h0m-1 2h0m-3 2h0m2 0h0m-11 2h0m3 0h0m-6 1h0m6 0h0m1 0h0m6 249h0m1 0h0m4 0h0m-11 2h0m1 1h0m0 2h0m-8 1h0m9 1h0m5 0h0m-7 0h0m-6 2h0m6 1h0m7 0h0m-15 2h0m1 1h0m6 0h0m7 0h0m3 1h0m-1 1h0m3 0h0m-16 1h0m6 0h0m-6 2h0m16 2h0m-13 1h0m-4 1h0m6 2h0m-4 1h0m-3 1h0m0 0h0m5 1h0m4 0h0m3 0h0m0 0h0m-9 1h0m14 1h0m-7 1h0m8 0h0m-11 1h0m-3 0h0m12 2h0m-2 2h0m-6 1h0m-9 1h0m0 0h0m3 1h0m2 5h0m-2 2h0m7 0h0m0 2h0m-3 1h0m-4 1h0m3 1h0m12 0h0m-6 1h0m-12 4h0m15 5h0m3 1h0m0 1h0m-2 0h0m-10 5h0m4 1h0m4 1h0m-5 1h0m4 1h0m-10 4h0m3 0h0m-1 1h0m10 2h0m4 0h0m-6 1h0m3 1h0m0 1h0m-15 8h0m7 4h0m9 0h0m-16 3h0m6 2h0m3 0h0m-2 1h0m6 0h0m-1 6h0m-9 12h0m24-420h0m-4 11h0m14 6h0m0 2h0m-11 1h0m3 2h0m7 1h0m2 0h0m-1 6h0m-14 1h0m-3 1h0m3 0h0m7 0h0m-4 2h0m7 1h0m0 1h0m-8 2h0m3 1h0m8 0h0m-12 1h0m4 0h0m5 0h0m4 0h0m-3 0h0m-11 2h0m0 0h0m-4 2h0m5 0h0m-5 2h0m18 1h0m-4 2h0m-6 1h0m2 0h0m8 1h0m-1 0h0m-12 1h0m1 0h0m7 0h0m4 1h0m-9 5h0m-5 246h0m15 1h0m-13 1h0m6 1h0m8 0h0m-17 1h0m2 0h0m-4 1h0m6 0h0m7 0h0m4 0h0m-6 2h0m-9 3h0m16 0h0m-12 1h0m-2 0h0m-2 1h0m4 0h0m4 0h0m-5 1h0m3 0h0m6 0h0m-5 1h0m-2 3h0m10 0h0m-3 2h0m0 1h0m4 0h0m-3 0h0m-8 1h0m7 0h0m-8 1h0m5 0h0m7 0h0m-7 1h0m-11 0h0m8 3h0m8 0h0m2 3h0m-7 4h0m-8 1h0m1 1h0m10 0h0m-6 1h0m2 0h0m2 1h0m-3 1h0m9 2h0m-3 5h0m0 1h0m-15 4h0m7 0h0m-6 4h0m2 1h0m6 2h0m10 3h0m-13 3h0m10 5h0m2 0h0m-9 4h0m-8 2h0m14 0h0m-13 2h0m4 8h0m8 4h0m2 1h0m3 2h0m-17 7h0m2 2h0m-2 6h0m3 0h0m4 2h0m6 5h0m17-420h0m-4 15h0m7 0h0m-4 7h0m6 2h0m-17 1h0m7 7h0m8 0h0m3 0h0m-3 1h0m-4 1h0m1 1h0m7 1h0m-1 0h0m-16 2h0m15 3h0m-14 2h0m15 1h0m1 3h0m0 2h0m0 2h0m0 0h0m-6 1h0m1 0h0m2 0h0m-8 2h0m0 1h0m0 0h0m0 1h0m-7 1h0m-1 0h0m1 1h0m9 245h0m2 1h0m-11 1h0m8 0h0m-2 1h0m-3 2h0m5 1h0m-4 2h0m3 0h0m5 0h0m-8 1h0m9 0h0m-6 1h0m4 0h0m-9 1h0m-1 1h0m3 0h0m6 0h0m-7 1h0m-2 1h0m12 0h0m2 1h0m-5 1h0m6 0h0m-3 2h0m3 0h0m-17 2h0m6 0h0m4 0h0m8 0h0m-10 1h0m5 1h0m2 0h0m-14 1h0m9 1h0m9 0h0m-8 1h0m-2 1h0m6 0h0m-2 3h0m0 6h0m-5 1h0m4 0h0m-1 0h0m3 2h0m1 0h0m2 2h0m-10 2h0m-5 2h0m0 1h0m4 0h0m4 0h0m-3 0h0m-5 2h0m4 0h0m4 1h0m-4 2h0m1 1h0m10 0h0m-14 1h0m15 1h0m-12 9h0m3 1h0m5 1h0m-8 3h0m3 1h0m6 1h0m-7 4h0m10 0h0m-7 1h0m-1 1h0m7 0h0m-12 1h0m10 1h0m-14 6h0m14 0h0m-12 2h0m2 0h0m3 1h0m3 1h0m5 1h0m-13 3h0m-3 2h0m15 2h0m-11 2h0m10 3h0m-12 2h0m9 1h0m-10 3h0m5 1h0m-3 4h0m24-421h0m11 15h0m-16 9h0m7 8h0m7 2h0m-5 5h0m8 1h0m0 1h0m-12 2h0m-5 2h0m5 1h0m11 1h0m-10 1h0m8 2h0m-15 2h0m8 0h0m2 0h0m-5 1h0m-3 2h0m14 0h0m-7 1h0m-4 2h0m3 0h0m-8 1h0m18 0h0m0 1h0m-19 1h0m5 0h0m3 0h0m6 0h0m-13 2h0m3 2h0m14 244h0m-14 2h0m11 0h0m-13 1h0m15 0h0m1 5h0m-4 2h0m-2 1h0m-10 2h0m-2 0h0m16 0h0m-12 1h0m9 2h0m-7 1h0m-2 0h0m-1 0h0m15 0h0m0 1h0m-9 1h0m2 0h0m5 0h0m-10 2h0m7 0h0m-13 1h0m11 2h0m-11 0h0m14 0h0m-5 1h0m7 2h0m-10 2h0m-3 2h0m4 1h0m9 0h0m-11 1h0m-3 1h0m8 4h0m-3 0h0m10 1h0m-15 2h0m5 3h0m12 0h0m-6 1h0m-2 0h0m-2 1h0m3 0h0m3 0h0m-2 2h0m-7 0h0m-5 1h0m4 1h0m4 1h0m8 0h0m0 0h0m-16 1h0m-1 4h0m5 0h0m1 1h0m7 0h0m0 0h0m-7 1h0m12 0h0m-2 1h0m0 1h0m-15 1h0m16 5h0m-5 7h0m-2 1h0m-7 1h0m10 1h0m-10 0h0m5 2h0m4 2h0m-10 0h0m5 2h0m0 1h0m12 2h0m-1 5h0m-4 3h0m-9 1h0m2 2h0m7 1h0m-10 1h0m15 0h0m-16 3h0m2 12h0m3 0h0m-3 4h0m24-411h0m7 7h0m0 2h0m2 2h0m-7 3h0m-5 6h0m6 0h0m-6 2h0m-6 1h0m3 1h0m4 0h0m1 0h0m-4 2h0m7 1h0m5 0h0m-15 1h0m3 1h0m11 2h0m0 1h0m-8 2h0m2 2h0m9 0h0m-16 1h0m10 1h0m-2 1h0m2 0h0m-7 2h0m-3 1h0m4 0h0m-6 1h0m6 0h0m6 247h0m-10 1h0m6 0h0m5 0h0m3 1h0m-16 2h0m5 0h0m0 1h0m11 0h0m1 0h0m-17 3h0m13 0h0m5 1h0m-11 1h0m11 6h0m0 0h0m-9 2h0m7 0h0m3 0h0m-17 1h0m13 1h0m-6 0h0m-3 1h0m5 4h0m-1 1h0m8 1h0m0 1h0m-18 1h0m6 0h0m10 0h0m-4 2h0m7 0h0m-16 1h0m2 1h0m13 0h0m-7 1h0m8 0h0m-4 3h0m4 0h0m-1 2h0m0 1h0m-16 2h0m14 3h0m-14 1h0m15 1h0m-2 1h0m-13 1h0m-2 2h0m12 0h0m-7 1h0m6 1h0m1 1h0m1 0h0m2 1h0m-8 1h0m9 0h0m-13 1h0m9 0h0m-4 2h0m2 0h0m4 0h0m-11 5h0m7 0h0m2 5h0m4 0h0m-8 1h0m-7 2h0m7 2h0m3 1h0m2 1h0m-11 0h0m8 1h0m3 10h0m-1 2h0m-8 15h0m15 0h0m9-397h0m11 0h0m-15 6h0m5 4h0m8 5h0m0 3h0m-13 1h0m13 0h0m-10 1h0m-4 1h0m0 3h0m6 0h0m4 1h0m4 3h0m-16 1h0m13 0h0m4 1h0m-10 2h0m3 2h0m2 2h0m-7 2h0m0 3h0m2 1h0m7 0h0m4 1h0m-6 1h0m4 0h0m-7 1h0m1 0h0m-9 249h0m15 0h0m-5 2h0m0 0h0m-11 1h0m5 0h0m11 0h0m-13 0h0m14 1h0m-14 1h0m11 0h0m-3 1h0m-11 1h0m2 0h0m1 0h0m2 0h0m7 1h0m-1 0h0m1 1h0m0 2h0m-1 0h0m-10 1h0m2 0h0m9 0h0m-1 1h0m-11 1h0m4 0h0m5 2h0m-1 0h0m2 0h0m-5 1h0m4 0h0m0 3h0m-5 1h0m-4 1h0m5 0h0m-1 1h0m2 0h0m-6 0h0m7 1h0m4 0h0m6 0h0m-12 5h0m-1 0h0m12 1h0m1 1h0m-11 1h0m-4 2h0m4 0h0m12 1h0m-2 1h0m-3 1h0m-12 1h0m5 0h0m4 5h0m-4 1h0m1 3h0m-5 1h0m9 1h0m-4 3h0m2 5h0m-9 2h0m16 0h0m-14 1h0m-2 3h0m3 0h0m15 0h0m-12 2h0m7 3h0m-12 5h0m16 1h0m-1 5h0m-15 4h0m5 1h0m-1 5h0m2 0h0m-6 5h0m5 4h0m0 4h0m7 1h0m1 3h0m0 2h0m-12 10h0m34-414h0m-16 3h0m11 1h0m1 4h0m-2 4h0m4 1h0m-7 3h0m-1 2h0m9 1h0m-6 1h0m9 0h0m-12 3h0m0 0h0m1 6h0m-6 1h0m16 4h0m-7 1h0m-4 1h0m6 1h0m2 0h0m-13 1h0m-1 0h0m5 0h0m2 1h0m3 1h0m3 1h0m-11 1h0m5 0h0m6 0h0m2 0h0m-6 2h0m-8 248h0m0 0h0m1 0h0m14 0h0m-12 1h0m2 0h0m-1 1h0m-2 0h0m15 1h0m-17 1h0m0 0h0m15 0h0m-10 2h0m5 0h0m4 0h0m3 0h0m-13 1h0m0 0h0m-1 0h0m-2 1h0m4 0h0m5 0h0m5 0h0m2 0h0m-8 1h0m1 0h0m-7 2h0m1 0h0m13 0h0m-17 2h0m2 0h0m13 3h0m-6 1h0m-4 2h0m11 0h0m-13 3h0m2 0h0m7 0h0m-11 1h0m9 0h0m-2 1h0m1 0h0m-10 2h0m4 0h0m8 0h0m-13 5h0m12 1h0m-7 2h0m12 0h0m1 2h0m-4 1h0m2 0h0m-4 2h0m-9 2h0m6 0h0m7 0h0m-15 3h0m4 0h0m10 0h0m3 0h0m1 1h0m-19 1h0m14 1h0m2 0h0m-8 1h0m-1 0h0m-6 1h0m2 0h0m7 4h0m1 0h0m-5 1h0m-1 3h0m8 0h0m-2 1h0m-11 4h0m3 1h0m1 0h0m15 0h0m-1 1h0m-14 1h0m0 0h0m5 1h0m-9 1h0m19 2h0m-13 1h0m12 0h0m-2 1h0m-7 1h0m-9 1h0m13 1h0m-11 2h0m0 1h0m4 0h0m8 0h0m-8 1h0m3 1h0m-1 4h0m-7 1h0m9 0h0m7 0h0m-15 4h0m17 0h0m-9 3h0m-2 6h0m0 11h0m9 1h0m-11 3h0m22-397h0m7 1h0m-4 1h0m3 4h0m1 1h0m2 1h0m-9 4h0m1 0h0m6 2h0m-14 5h0m6 1h0m-6 1h0m14 0h0m1 3h0m-15 0h0m6 0h0m4 4h0m8 0h0m-15 1h0m3 0h0m7 1h0m5 0h0m-12 1h0m-5 2h0m1 0h0m0 0h0m14 0h0m-3 1h0m-13 1h0m18 1h0m0 248h0m-19 1h0m4 0h0m0 0h0m13 3h0m-5 1h0m6 0h0m-14 3h0m12 0h0m-12 0h0m-4 1h0m9 0h0m6 0h0m0 0h0m-8 2h0m-4 2h0m5 0h0m8 0h0m2 2h0m-11 1h0m10 1h0m-10 1h0m2 1h0m3 0h0m-8 2h0m4 0h0m-5 1h0m11 1h0m-3 2h0m-4 1h0m-2 2h0m9 0h0m-4 1h0m-10 1h0m15 0h0m-12 1h0m1 0h0m9 0h0m4 1h0m-5 1h0m4 0h0m-13 1h0m3 2h0m-3 0h0m11 1h0m-8 2h0m-3 1h0m13 1h0m-1 4h0m-9 1h0m7 0h0m5 0h0m1 0h0m-16 2h0m14 0h0m-12 2h0m1 4h0m-2 0h0m-1 1h0m4 0h0m4 0h0m-6 1h0m10 1h0m-5 1h0m-2 1h0m9 0h0m-4 1h0m4 1h0m-17 1h0m12 1h0m4 0h0m-8 1h0m1 0h0m-9 3h0m3 2h0m11 3h0m4 2h0m-12 1h0m2 1h0m9 3h0m-10 2h0m4 0h0m2 1h0m-10 1h0m3 0h0m11 3h0m-14 1h0m4 0h0m-7 1h0m19 3h0m-11 1h0m-7 1h0m11 1h0m6 3h0m-15 2h0m15 0h0m-15 2h0m7 1h0m7 2h0m-10 11h0m19-413h0m7 0h0m6 1h0m-17 1h0m15 0h0m2 0h0m0 3h0m-9 6h0m6 0h0m2 4h0m-11 2h0m4 0h0m-1 4h0m-7 3h0m1 1h0m7 1h0m-2 3h0m1 2h0m2 0h0m-8 1h0m11 0h0m-5 1h0m8 1h0m-5 1h0m4 1h0m-17 1h0m8 0h0m11 1h0m-8 2h0m-9 1h0m7 0h0m10 2h0m-5 1h0m-2 0h0m-10 1h0m8 1h0m-8 1h0m0 2h0m0 0h0m1 246h0m11 1h0m-3 2h0m-2 1h0m0 1h0m4 0h0m4 0h0m-8 1h0m3 0h0m2 0h0m5 0h0m-6 3h0m2 0h0m-10 1h0m5 1h0m-1 1h0m9 0h0m-3 1h0m-7 2h0m-8 1h0m16 1h0m-15 2h0m8 0h0m8 2h0m-5 3h0m5 0h0m-7 2h0m1 1h0m4 0h0m-14 2h0m11 0h0m-6 1h0m5 0h0m-6 1h0m0 0h0m12 1h0m-14 1h0m1 1h0m13 0h0m-12 2h0m1 1h0m7 1h0m-2 2h0m6 0h0m0 0h0m-12 2h0m8 0h0m-2 0h0m0 2h0m4 0h0m0 2h0m-8 3h0m12 0h0m-16 1h0m11 1h0m-14 0h0m3 2h0m0 1h0m9 0h0m4 0h0m-13 2h0m5 3h0m8 0h0m-2 1h0m-10 3h0m3 1h0m11 6h0m-12 1h0m-1 2h0m9 1h0m0 0h0m-3 1h0m3 4h0m-10 6h0m10 4h0m3 0h0m0 4h0m-13 1h0m9 2h0m-11 1h0m0 2h0m-2 2h0m0 2h0m13 3h0m23-397h0m-1 0h0m-12 4h0m15 11h0m-10 1h0m2 0h0m7 2h0m-6 0h0m5 2h0m-16 3h0m16 1h0m-13 2h0m0 0h0m10 1h0m-8 1h0m12 0h0m-8 1h0m8 0h0m-14 1h0m15 0h0m-3 0h0m-11 1h0m-4 1h0m11 0h0m7 1h0m-12 1h0m-2 0h0m11 0h0m0 1h0m-13 1h0m16 0h0m1 0h0m-10 1h0m-4 3h0m-2 1h0m10 1h0m6 249h0m-15 1h0m4 0h0m-3 4h0m10 0h0m3 0h0m0 0h0m-14 1h0m7 0h0m-3 1h0m11 0h0m-17 0h0m12 1h0m1 0h0m-4 1h0m8 1h0m-5 1h0m3 0h0m-2 0h0m-13 1h0m4 1h0m10 0h0m-15 4h0m9 0h0m-7 1h0m-2 1h0m13 0h0m-7 1h0m3 0h0m2 1h0m5 0h0m-17 2h0m3 1h0m13 1h0m-4 1h0m7 0h0m-18 1h0m10 2h0m-1 1h0m-7 1h0m4 0h0m9 3h0m3 0h0m-6 2h0m-11 1h0m5 1h0m0 1h0m0 0h0m6 0h0m5 2h0m-3 0h0m-2 2h0m-10 2h0m12 0h0m-9 1h0m12 0h0m-12 2h0m9 0h0m-7 1h0m-7 1h0m13 0h0m-6 1h0m10 2h0m-5 1h0m-11 1h0m10 0h0m-4 1h0m5 2h0m4 1h0m-16 2h0m11 1h0m-4 1h0m6 0h0m-6 1h0m10 0h0m-15 1h0m15 1h0m-10 1h0m8 0h0m-7 1h0m10 0h0m-13 8h0m7 0h0m-6 1h0m-6 2h0m-1 2h0m15 0h0m-6 3h0m7 4h0m-15 7h0m8 5h0m2 0h0m-5 1h0m10 2h0m19-403h0m4 1h0m-9 9h0m1 1h0m5 3h0m-14 2h0m2 3h0m-2 2h0m5 5h0m3 0h0m-10 1h0m0 0h0m2 0h0m15 0h0m-2 1h0m2 2h0m-17 1h0m5 0h0m-3 1h0m6 0h0m11 1h0m-2 2h0m-3 3h0m-9 2h0m11 0h0m-1 1h0m-7 1h0m0 0h0m-6 1h0m5 1h0m-3 1h0m9 251h0m4 0h0m-6 2h0m7 4h0m1 0h0m-14 1h0m-1 1h0m6 0h0m3 2h0m-1 1h0m-10 1h0m5 0h0m-7 2h0m3 0h0m5 0h0m-1 3h0m11 0h0m-3 0h0m4 0h0m-5 1h0m-7 1h0m1 2h0m0 1h0m0 1h0m2 2h0m6 0h0m-16 1h0m0 0h0m4 1h0m-4 1h0m13 0h0m-2 0h0m-5 2h0m5 0h0m5 0h0m-7 1h0m2 1h0m5 2h0m-1 1h0m-6 0h0m-7 1h0m3 0h0m11 1h0m-1 0h0m4 2h0m-17 2h0m2 0h0m11 1h0m0 0h0m-7 1h0m6 0h0m-14 3h0m13 0h0m1 1h0m4 0h0m-4 1h0m-3 0h0m-9 1h0m1 0h0m0 1h0m3 0h0m13 2h0m-11 1h0m11 0h0m-6 1h0m0 3h0m-4 3h0m-1 2h0m5 3h0m-5 1h0m3 1h0m-8 4h0m11 0h0m4 0h0m-16 0h0m-2 5h0m8 2h0m6 1h0m-13 2h0m12 0h0m-4 1h0m10 0h0m0 2h0m-16 1h0m1 1h0m15 2h0m-14 2h0m6 0h0m-6 2h0m1 1h0m-5 2h0m7 2h0m-2 1h0m2 1h0m0 2h0m3 4h0m-10 1h0m10 5h0m17-406h0m6 5h0m-11 2h0m12 0h0m-11 2h0m15 3h0m-1 1h0m-17 1h0m0 1h0m9 1h0m-10 2h0m5 0h0m-2 3h0m6 3h0m-7 1h0m10 0h0m0 0h0m-11 2h0m4 0h0m8 0h0m-8 1h0m5 0h0m2 1h0m6 3h0m-4 2h0m-3 1h0m3 0h0m5 0h0m-12 1h0m10 0h0m-14 1h0m16 0h0m-10 1h0m-3 0h0m10 1h0m-14 1h0m12 0h0m-12 1h0m3 0h0m4 0h0m6 0h0m-8 1h0m8 0h0m-14 0h0m5 1h0m-6 1h0m1 251h0m16 0h0m-6 1h0m2 1h0m3 0h0m-14 1h0m5 0h0m1 0h0m11 2h0m-12 3h0m-1 1h0m1 0h0m4 0h0m1 0h0m-10 1h0m11 0h0m4 0h0m-1 2h0m1 0h0m-8 2h0m2 0h0m-2 1h0m3 2h0m0 0h0m-9 2h0m16 0h0m-6 2h0m-8 2h0m0 0h0m-1 1h0m13 4h0m-16 1h0m14 1h0m-5 3h0m-4 1h0m13 7h0m-19 1h0m15 0h0m-2 1h0m2 2h0m0 3h0m-8 1h0m8 1h0m1 1h0m-9 1h0m1 0h0m11 2h0m-16 1h0m8 1h0m0 1h0m6 0h0m-4 2h0m3 0h0m-13 3h0m-2 1h0m1 1h0m6 1h0m0 2h0m-2 6h0m-2 1h0m2 2h0m-1 2h0m6 0h0m0 4h0m-4 1h0m-1 2h0m-1 1h0m4 2h0m8 1h0m-7 1h0m-1 2h0m-4 3h0m13 3h0m-8 1h0m-4 12h0m10 0h0m22-418h0m-14 13h0m5 4h0m9 4h0m-6 3h0m1 3h0m-10 2h0m-1 1h0m4 2h0m-6 3h0m5 3h0m-1 0h0m-4 2h0m7 0h0m1 1h0m1 1h0m1 0h0m-2 1h0m-7 1h0m-1 0h0m10 0h0m-7 1h0m-3 2h0m0 1h0m5 0h0m-1 2h0m3 1h0m8 1h0m0 2h0m1 250h0m3 1h0m-18 3h0m6 0h0m7 0h0m0 0h0m4 0h0m-18 1h0m17 0h0m-2 1h0m-11 1h0m15 0h0m-16 1h0m9 0h0m-12 1h0m6 1h0m-3 0h0m15 0h0m-18 0h0m10 0h0m-2 2h0m1 3h0m4 0h0m-8 1h0m-4 1h0m6 0h0m-6 1h0m13 0h0m1 0h0m-5 0h0m9 2h0m-9 2h0m7 2h0m-4 4h0m-11 4h0m5 0h0m8 0h0m-15 2h0m12 1h0m3 1h0m-5 1h0m-5 1h0m3 0h0m1 0h0m-2 0h0m8 0h0m3 0h0m-6 3h0m3 0h0m-15 1h0m17 2h0m-16 1h0m2 0h0m0 0h0m8 0h0m-7 2h0m2 0h0m8 1h0m-13 1h0m0 1h0m3 5h0m7 1h0m-11 3h0m5 9h0m3 2h0m5 1h0m5 1h0m-7 1h0m-7 1h0m-3 9h0m15 0h0m3 2h0m-10 1h0m4 0h0m-5 2h0m11 6h0m-11 2h0m0 2h0m7 3h0m-8 2h0m-5 1h0m7 6h0m25-413h0m-3 2h0m6 2h0m-14 3h0m15 2h0m-2 4h0m-7 4h0m0 0h0m-2 3h0m9 0h0m-1 3h0m-3 6h0m0 0h0m1 2h0m6 0h0m-9 2h0m-1 0h0m4 0h0m0 2h0m-13 1h0m9 2h0m7 0h0m-12 1h0m0 2h0m6 0h0m3 0h0m-12 1h0m5 0h0m3 0h0m0 0h0m1 0h0m-2 1h0m4 1h0m1 0h0m-11 1h0m-2 1h0m7 0h0m-3 2h0m11 0h0m3 0h0m0 0h0m-12 1h0m8 252h0m-9 1h0m3 0h0m3 0h0m-10 2h0m-1 0h0m12 0h0m6 0h0m-1 0h0m2 0h0m-10 2h0m1 5h0m6 1h0m-10 1h0m13 1h0m-14 1h0m5 0h0m-1 0h0m0 0h0m6 2h0m2 0h0m-1 1h0m-11 1h0m-1 0h0m-1 0h0m0 1h0m15 0h0m-13 1h0m-2 0h0m-3 1h0m4 0h0m10 0h0m-12 3h0m5 0h0m-2 1h0m9 0h0m-8 1h0m11 0h0m1 0h0m-4 1h0m-5 1h0m-4 3h0m-1 2h0m3 0h0m1 0h0m-6 1h0m14 0h0m2 1h0m-2 1h0m-9 1h0m8 2h0m4 0h0m-2 2h0m-4 1h0m-4 1h0m4 0h0m-2 3h0m-2 1h0m1 0h0m3 0h0m-3 3h0m7 0h0m2 0h0m-5 1h0m-7 1h0m10 1h0m-1 0h0m-13 1h0m0 1h0m4 0h0m3 1h0m-1 6h0m3 0h0m-9 2h0m8 1h0m6 0h0m-17 1h0m3 2h0m14 0h0m-4 0h0m1 3h0m2 2h0m-5 3h0m-9 2h0m-2 1h0m13 3h0m0 0h0m6 2h0m-1 1h0m-17 2h0m6 0h0m7 5h0m-10 1h0m15 0h0m-13 2h0m1 0h0m6 3h0m-10 5h0m0 2h0m14 10h0m19-418h0m2 11h0m-3 10h0m-10 4h0m9 3h0m5 2h0m-18 2h0m11 1h0m3 0h0m-2 1h0m3 1h0m-11 1h0m-2 0h0m10 1h0m1 0h0m-11 1h0m7 3h0m-8 1h0m-1 0h0m14 0h0m-14 1h0m14 0h0m-7 1h0m4 1h0m5 0h0m-5 1h0m5 0h0m-7 1h0m1 0h0m-11 1h0m5 0h0m3 1h0m0 0h0m11 0h0m-19 1h0m1 0h0m11 1h0m2 0h0m-1 252h0m4 0h0m-11 1h0m7 1h0m-8 1h0m2 2h0m10 0h0m-14 1h0m5 0h0m0 1h0m10 1h0m-9 3h0m10 0h0m-14 1h0m2 1h0m-3 1h0m-3 1h0m3 0h0m4 0h0m3 0h0m2 0h0m-11 1h0m4 1h0m6 0h0m-7 1h0m13 0h0m-7 1h0m5 0h0m-6 1h0m7 0h0m-2 0h0m-7 2h0m-3 1h0m11 1h0m1 0h0m-3 0h0m-13 1h0m13 0h0m5 0h0m-1 1h0m-14 3h0m13 0h0m-17 1h0m13 1h0m5 0h0m-17 1h0m16 1h0m-9 1h0m9 1h0m1 1h0m-17 1h0m5 0h0m8 2h0m-14 1h0m18 0h0m-11 0h0m-5 1h0m4 1h0m2 1h0m8 0h0m-15 1h0m2 1h0m6 0h0m3 1h0m5 2h0m2 0h0m0 0h0m-13 1h0m13 1h0m-18 5h0m-1 0h0m10 2h0m9 1h0m-3 1h0m3 0h0m-13 2h0m10 0h0m-13 1h0m1 0h0m3 0h0m-4 2h0m11 0h0m-3 0h0m-3 1h0m-4 2h0m8 4h0m2 1h0m0 1h0m5 0h0m0 1h0m-11 2h0m-6 5h0m1 0h0m5 3h0m8 1h0m2 3h0m-10 1h0m9 6h0m-7 2h0m1 5h0m8 6h0m-9 13h0m17-413h0m0 6h0m0 0h0m12 2h0m-12 1h0m11 0h0m-16 1h0m0 1h0m2 0h0m-1 0h0m-1 1h0m-2 0h0m19 4h0m-5 1h0m-12 1h0m1 0h0m8 1h0m6 1h0m-16 0h0m3 1h0m14 0h0m-15 1h0m8 1h0m3 0h0m5 1h0m-4 0h0m-13 3h0m17 0h0m-11 2h0m6 2h0m5 1h0m-9 1h0m-3 0h0m11 0h0m-5 3h0m4 0h0m-15 0h0m3 253h0m14 0h0m-11 3h0m-5 0h0m4 0h0m3 0h0m-5 1h0m2 0h0m12 0h0m-19 1h0m7 0h0m3 1h0m-8 1h0m16 1h0m-10 2h0m-5 1h0m9 0h0m2 0h0m5 1h0m-18 1h0m-1 0h0m7 0h0m12 0h0m-4 1h0m4 0h0m-12 1h0m12 0h0m-17 0h0m1 0h0m6 1h0m7 0h0m-1 2h0m-7 1h0m0 0h0m7 1h0m-13 1h0m-1 3h0m8 2h0m2 0h0m1 1h0m-11 3h0m0 0h0m2 0h0m11 4h0m-11 1h0m3 0h0m12 0h0m-3 0h0m-1 2h0m-8 1h0m-4 3h0m17 0h0m-8 3h0m-7 1h0m3 0h0m0 1h0m-3 1h0m8 0h0m0 1h0m-5 1h0m-4 2h0m-1 1h0m15 3h0m-9 1h0m-3 1h0m14 0h0m-14 1h0m10 0h0m4 0h0m0 1h0m-12 1h0m-6 3h0m9 4h0m3 1h0m3 0h0m-10 3h0m-5 1h0m0 0h0m10 0h0m-3 2h0m6 3h0m5 1h0m-12 1h0m-4 4h0m3 4h0m8 2h0m0 0h0m-1 3h0m2 11h0m-15 2h0m12 2h0m6 0h0m-15 4h0m0 2h0m14 1h0m3-400h0m1 4h0m-1 3h0m1 0h0m0 1h0m-1 3h0m1 2h0m0 9h0m0 0h0m0 1h0m-1 3h0m1 1h0m-1 2h0m0 4h0m1 255h0m0 3h0m0 1h0m-1 1h0m1 3h0m0 12h0m0 0h0m-1 9h0m0 9h0m1 0h0m-1 8h0m0 1h0m0 1h0m1 12h0m-1 45h0m1 1h0" stroke="#ff0000" stroke-width="6.00"/></g>
</g>
<rect x="54.0" y="6.3" width="276.6" height="170.9" fill="none" stroke="#606060" stroke-width="1.3"/>
<path d="M59.2 177.2v-1.6M59.2 6.3v1.6M72.2 177.2v-1.6M72.2 6.3v1.6M85.1 177.2v-2.6M85.1 6.3v2.6M98.0 177.2v-1.6M98.0 6.3v1.6M111.0 177.2v-1.6M111.0 6.3v1.6M123.9 177.2v-1.6M123.9 6.3v1.6M136.9 177.2v-1.6M136.9 6.3v1.6M149.8 177.2v-2.6M149.8 6.3v2.6M162.7 177.2v-1.6M162.7 6.3v1.6M175.7 177.2v-1.6M175.7 6.3v1.6M188.6 177.2v-1.6M188.6 6.3v1.6M201.6 177.2v-1.6M201.6 6.3v1.6M214.5 177.2v-2.6M214.5 6.3v2.6M227.4 177.2v-1.6M227.4 6.3v1.6M240.4 177.2v-1.6M240.4 6.3v1.6M253.3 177.2v-1.6M253.3 6.3v1.6M266.3 177.2v-1.6M266.3 6.3v1.6M279.2 177.2v-2.6M279.2 6.3v2.6M292.1 177.2v-1.6M292.1 6.3v1.6M305.1 177.2v-1.6M305.1 6.3v1.6M318.0 177.2v-1.6M318.0 6.3v1.6M54.0 171.2h2.6M330.6 171.2h-2.6M54.0 165.6h1.6M330.6 165.6h-1.6M54.0 160.1h1.6M330.6 160.1h-1.6M54.0 154.6h1.6M330.6 154.6h-1.6M54.0 149.0h1.6M330.6 149.0h-1.6M54.0 143.5h2.6M330.6 143.5h-2.6M54.0 138.0h1.6M330.6 138.0h-1.6M54.0 132.4h1.6M330.6 132.4h-1.6M54.0 126.9h1.6M330.6 126.9h-1.6M54.0 121.4h1.6M330.6 121.4h-1.6M54.0 115.8h2.6M330.6 115.8h-2.6M54.0 110.3h1.6M330.6 110.3h-1.6M54.0 104.8h1.6M330.6 104.8h-1.6M54.0 99.2h1.6M330.6 99.2h-1.6M54.0 93.7h1.6M330.6 93.7h-1.6M54.0 88.2h2.6M330.6 88.2h-2.6M54.0 82.6h1.6M330.6 82.6h-1.6M54.0 77.1h1.6M330.6 77.1h-1.6M54.0 71.5h1.6M330.6 71.5h-1.6M54.0 66.0h1.6M330.6 66.0h-1.6M54.0 60.5h2.6M330.6 60.5h-2.6M54.0 54.9h1.6M330.6 54.9h-1.6M54.0 49.4h1.6M330.6 49.4h-1.6M54.0 43.9h1.6M330.6 43.9h-1.6M54.0 38.3h1.6M330.6 38.3h-1.6M54.0 32.8h2.6M330.6 32.8h-2.6M54.0 27.3h1.6M330.6 27.3h-1.6M54.0 21.7h1.6M330.6 21.7h-1.6M54.0 16.2h1.6M330.6 16.2h-1.6M54.0 10.7h1.6M330.6 10.7h-1.6" stroke="#0a0a0a" stroke-width="1.1" fill="none"/>
<g font-family="Liberation Sans, sans-serif" font-size="11.4" fill="#1a1a1a"><text x="85.1" y="188.8" text-anchor="middle">250</text><text x="149.8" y="188.8" text-anchor="middle">300</text><text x="214.5" y="188.8" text-anchor="middle">350</text><text x="279.2" y="188.8" text-anchor="middle">400</text><text x="52.4" y="175.2" text-anchor="end">2.95</text><text x="52.4" y="147.6" text-anchor="end">3.00</text><text x="52.4" y="119.9" text-anchor="end">3.05</text><text x="52.4" y="92.2" text-anchor="end">3.10</text><text x="52.4" y="64.5" text-anchor="end">3.15</text><text x="52.4" y="36.8" text-anchor="end">3.20</text></g>
<g id="pts-b">
<path d="M407.2 92.6L408.4 92.7L409.7 91.9L410.9 90.8L412.2 90.4L413.4 89.8L414.7 89.3L415.9 89.1L417.2 87.7L418.4 87.1L419.7 87.2L420.9 86.4L422.2 85.5L423.4 85.9L424.7 84.4L425.9 83.6L427.2 83.1L428.4 82.3L429.7 82.1L430.9 82.2L432.2 81.7L433.4 80.4L434.7 80.4L435.9 79.5L437.2 79.1L438.4 79L439.7 78.9L440.9 78.5L442.2 77.9L443.4 77.5L444.7 76.5L445.9 76.4L447.2 75.4L448.4 75.7L449.7 74.4L450.9 74.2L452.2 74.2L453.4 73.5L454.7 72.9L455.9 72.4L457.2 71.5L458.4 71.3L459.7 71.5L460.9 70.6L462.2 69.9L463.4 69.5L464.7 69.4L465.9 69.2L467.2 68.5L468.4 67.7L469.7 67.4L470.9 67L472.2 66.6L473.4 66.2L474.7 65.1L475.9 65.4L477.2 64.2L478.4 64.1L479.7 63.6L480.9 63.1L482.2 62.7L483.4 61.8L484.7 61.7L485.9 60.9L487.2 60.4L488.4 60.9L489.7 60.4L490.9 59.5L492.2 58.4L493.4 58.2L494.7 57.7L495.9 57.4L497.2 57.2L498.4 56.9L499.7 56.5L500.9 55.1L502.2 55L503.4 54.6L504.7 54.5L505.9 53.6L507.2 53.1L508.4 53.3L509.7 53L510.9 51.6L512.2 51L513.5 51.4L514.7 51L516 50.2L517.2 49.8L518.5 49.7L519.7 48.6L521 49.1L522.2 48.2L523.5 47.4L524.7 46.8L526 47.4L527.2 45.9L528.5 45.8L529.7 45.5L531 45.1L532.2 44.9L533.5 44.8L534.7 44.6L536 44.4L537.2 44.7L538.5 44.3L539.7 43.1L541 43.8L542.2 43.2L543.5 43.1L544.7 42.7L546 42.9L547.2 42L548.5 41.9L549.7 42L551 40.8L552.2 41.3L553.5 40.8L554.7 40.7L556 40.5L557.2 39.8L558.5 39.6L559.7 39.8L561 39.6L562.2 38.7L563.5 38.5L564.7 38.6L566 38.4L567.2 38.6L568.5 37.8L569.7 37.6L571 37L572.2 37.6L573.5 37.3L574.7 36.4L576 36.1L577.2 36.3L578.5 36.3L579.7 35.9L581 35.5L582.2 35.4L583.5 35.9L584.7 35.6L586 34.7L587.2 34.2L588.5 34.8L589.7 34L591 34.4L592.2 33.8L593.5 33.2L594.7 33L596 33.6L597.2 33L598.5 32.5L599.7 32.4L601 31.7L602.2 31.3L603.5 32L604.7 31.5L606 31.2L607.2 31.3L608.5 30.1L609.7 30.4L611 30.4L612.2 29.9L613.5 29.9L614.7 29L616 29.6L617.2 28.5L618.5 29.2L619.7 28.7L621 27.7L622.2 27.7L623.5 27.2L624.7 27.1L626 26.5L627.2 26.3L628.5 26.6L629.7 26.4L631 26L632.2 26.1L633.5 25.3L634.7 25.1L636 25.9L637.2 25.7L638.5 24.9L639.7 25.1L641 24.9L642.2 24.4L643.5 24.3L644.7 23.8L646 23.9L647.2 23.1L648.5 23.5L649.7 23.6L651 23.6L652.2 22.7L653.5 23L654.7 22.8L656 22.5L657.2 22L658.5 21.8L659.7 22L661 22L662.2 22.4L663.5 21.8L664.7 21.4L666 21.6L667.2 20.8L668.5 20.6L669.7 20.8L671 20.6L672.2 21.4L673.5 20.5L674.7 21.2L674.8 20.9L674.8 69.8L674.7 69.3L673.5 70.3L672.2 70.2L671 70.1L669.7 70.6L668.5 70.8L667.2 70.6L666 70.7L664.7 71.8L663.5 71.4L662.2 71.9L661 71.9L659.7 72.6L658.5 72L657.2 72.7L656 72.8L654.7 72.9L653.5 73.6L652.2 74.4L651 74.5L649.7 73.9L648.5 74.3L647.2 74.4L646 74.8L644.7 74.8L643.5 75.6L642.2 74.8L641 75.2L639.7 76.2L638.5 76.4L637.2 76.9L636 76.2L634.7 76.9L633.5 76.9L632.2 76.8L631 77.9L629.7 77.2L628.5 78L627.2 78L626 78L624.7 78.2L623.5 78.9L622.2 78.8L621 78.1L619.7 79L618.5 79.2L617.2 79.5L616 79.3L614.7 79.1L613.5 79.7L612.2 79.4L611 79.4L609.7 79.3L608.5 80.5L607.2 80.9L606 80.2L604.7 81.2L603.5 80.4L602.2 80.9L601 81.5L599.7 81.4L598.5 81.4L597.2 81.1L596 81.5L594.7 82.3L593.5 82.6L592.2 81.8L591 82.5L589.7 82.2L588.5 82.9L587.2 83.1L586 83.4L584.7 83.1L583.5 83.9L582.2 83.7L581 83.4L579.7 84.1L578.5 84L577.2 84.9L576 85L574.7 85.1L573.5 84.9L572.2 84.8L571 85.5L569.7 86.1L568.5 85.2L567.2 86.3L566 86.6L564.7 86.5L563.5 85.9L562.2 86.6L561 87.2L559.7 87.6L558.5 87.6L557.2 87.3L556 88.6L554.7 87.9L553.5 88.5L552.2 89.3L551 89.4L549.7 89.4L548.5 90.6L547.2 91L546 91.1L544.7 91.1L543.5 91.8L542.2 91.8L541 92L539.7 93.2L538.5 92.8L537.2 93.5L536 94.1L534.7 94.4L533.5 95.3L532.2 95.5L531 95.1L529.7 95.5L528.5 96.7L527.2 97.2L526 97.6L524.7 97.2L523.5 98.4L522.2 98L521 99.2L519.7 98.9L518.5 99.4L517.2 100.4L516 99.9L514.7 100.4L513.5 101.3L512.2 101.8L510.9 102.5L509.7 101.8L508.4 102.4L507.2 103.5L505.9 103.6L504.7 104.3L503.4 104.6L502.2 104.5L500.9 105.4L499.7 105.5L498.4 106L497.2 106.6L495.9 107.5L494.7 107.4L493.4 108.4L492.2 108.7L490.9 109.7L489.7 110.6L488.4 110.9L487.2 110.6L485.9 111.7L484.7 111.8L483.4 112.4L482.2 112.9L480.9 113.8L479.7 114.1L478.4 114.6L477.2 115.5L475.9 115.4L474.7 115.8L473.4 116.5L472.2 117.6L470.9 117.6L469.7 118.5L468.4 119L467.2 119.9L465.9 120.4L464.7 120.2L463.4 121.1L462.2 121.5L460.9 122.4L459.7 122.2L458.4 122.7L457.2 123.3L455.9 123.3L454.7 124.5L453.4 124.9L452.2 126.2L450.9 126.6L449.7 127.1L448.4 127L447.2 127L445.9 128L444.7 129.3L443.4 129.8L442.2 130.1L440.9 130.2L439.7 130.4L438.4 131.6L437.2 131.7L435.9 131.8L434.7 133.1L433.4 134.1L432.2 134.4L430.9 134.6L429.7 134.8L428.4 136L427.2 136.1L425.9 136.6L424.7 137.2L423.4 138.1L422.2 138.5L420.9 138.3L419.7 139.5L418.4 140.4L417.2 141.3L415.9 141.1L414.7 142.4L413.4 142.9L412.2 143.1L410.9 144.3L409.7 144.9L408.4 145.6L407.2 146.3Z" fill="#ff0000"/>
<g transform="scale(0.25)" fill="none" stroke-linecap="round"><path d="M1634 366h0m2 19h0m4 6h0m31-24h0m-1 4h0m5 165h0m-3 9h0m-4 2h0m-4 14h0m18-210h0m11 176h0m6 3h0m-3 1h0m-12 6h0m26-197h0m6 4h0m-9 8h0m1 169h0m25-192h0m2 1h0m-3 24h0m-11 6h0m6 153h0m3 21h0m12-214h0m4 182h0m7 13h0m-9 12h0m18-211h0m3 37h0m12 117h0m-11 10h0m11 17h0m1 1h0m-15 6h0m3 16h0m28-210h0m1 193h0m15-196h0m0 165h0m1 11h0m6 10h0m-13 5h0m10 0h0m24-215h0m-2 189h0m-7 11h0m-8 8h0m1 5h0m35-202h0m-1 127h0m1 42h0m-10 5h0m2 7h0m6 2h0m6-18h0m1 5h0m23-197h0m-4 23h0m16 132h0m-9 10h0m10 32h0m20-190h0m-3 132h0m-1 24h0m-11 29h0m21-206h0m-3 27h0m11 141h0m4 15h0m-16 1h0m12 2h0m6 11h0m-12 4h0m27-204h0m-4 8h0m-6 111h0m-3 47h0m9 12h0m1 5h0m3 1h0m4 5h0m12-202h0m-4 2h0m10 3h0m-5 9h0m9 9h0m-7 122h0m2 30h0m-13 15h0m27-198h0m-2 2h0m0 4h0m-4 4h0m15 157h0m-14 10h0m13 13h0m16-192h0m-1 27h0m-10 143h0m1 3h0m6 0h0m-2 16h0m20-199h0m-6 43h0m18 70h0m-3 44h0m-6 13h0m7 13h0m2 6h0m-11 2h0m9 2h0m6-196h0m17 17h0m-18 153h0m5 5h0m1 5h0m5 1h0m9-157h0m14 154h0m-1 3h0m-2 1h0m-12 4h0m1 0h0m4 2h0m27-208h0m1 13h0m-4 9h0m-1 132h0m3 42h0m21-32h0m-6 27h0m22-203h0m-2 11h0m4 138h0m4 42h0m2 2h0m18-35h0m2 17h0m-9 10h0m1 3h0m22-198h0m1 22h0m8 123h0m-1 29h0m-18 0h0m11 4h0m4 12h0m6-183h0m0 4h0m3 143h0m8 12h0m-7 6h0m5 3h0m-3 13h0m26-191h0m-9 11h0m-2 151h0m17 18h0m-4 3h0m-2 2h0m21-191h0m-5 1h0m9 114h0m0 15h0m-2 21h0m-1 33h0m-13 3h0m36-192h0m0 169h0m-13 11h0m5 1h0m8 4h0m1 1h0m16-172h0m-6 131h0m-6 6h0m6 16h0m-2 3h0m-1 8h0m18-44h0m9 0h0m-3 1h0m-4 4h0m-4 24h0m-1 1h0m-1 3h0m37-162h0m-9 133h0m-7 15h0m3 15h0m13 7h0m0 2h0m12-49h0m5 15h0m3 10h0m-11 10h0m5 13h0m27-21h0m16-172h0m-11 176h0m3 0h0m-1 3h0m30-124h0m3 92h0m-16 16h0m15 10h0m-6 12h0m26-196h0m-8 9h0m-6 14h0m12 133h0m-15 16h0m10 1h0m3 4h0m6 4h0m-18 3h0m6 4h0m3 0h0m18-35h0m7 25h0m-3 4h0m1 3h0m-12 2h0m11 5h0m10-201h0m0 0h0m1 1h0m1 147h0m12 46h0m-8 3h0m12-185h0m2 9h0m3 99h0m-4 47h0m17 13h0m-3 6h0m-9 6h0m31-198h0m-1 144h0m-11 52h0m18-36h0m15 14h0m-4 14h0m1 3h0m-8 1h0m11 2h0m-18 2h0m3 3h0m20-203h0m14 171h0m-15 9h0m12 2h0m-14 3h0m14 6h0m16-198h0m4 4h0m-5 8h0m7 158h0m-1 27h0m-9 3h0m20-203h0m0 171h0m-2 17h0m9 4h0m5 8h0m21-206h0m-10 14h0m10 6h0m-13 2h0m-6 104h0m19 49h0m-2 5h0m-10 6h0m4 3h0m-7 4h0m8 10h0m11-207h0m9 113h0m2 39h0m-11 20h0m2 10h0m-2 3h0m16 4h0m-10 7h0m16-193h0m5 143h0m7 19h0m-4 6h0m3 7h0m-16 6h0m19 14h0m2-202h0m2 0h0m9 4h0m-5 5h0m-6 174h0m18 11h0m-7 2h0m23-197h0m-3 175h0m2 5h0m-6 9h0m4 4h0m-9 7h0m20-201h0m1 147h0m9 14h0m-5 10h0m1 11h0" stroke="#fff" stroke-width="5.00"/><path d="M1635 327h0m-4 12h0m1 4h0m1 7h0m0 1h0m-1 0h0m2 3h0m0 2h0m0 2h0m-2 0h0m-1 4h0m0 3h0m2 2h0m-2 1h0m1 4h0m1 0h0m-2 2h0m8 204h0m0 1h0m-7 1h0m4 0h0m0 3h0m-4 4h0m0 0h0m0 1h0m6 0h0m-6 1h0m-1 7h0m1 1h0m7 0h0m-6 5h0m5 2h0m-6 4h0m1 1h0m3 1h0m3 1h0m-6 2h0m-1 11h0m25-312h0m-13 15h0m2 0h0m-3 6h0m6 1h0m-4 6h0m4 1h0m4 5h0m-6 1h0m11 0h0m-18 3h0m9 1h0m9 0h0m-13 1h0m3 2h0m3 1h0m8 0h0m-1 0h0m1 0h0m-19 1h0m5 0h0m11 0h0m-16 1h0m11 0h0m7 1h0m-17 1h0m3 1h0m9 0h0m-10 1h0m-3 1h0m0 1h0m4 1h0m8 1h0m1 201h0m1 1h0m0 1h0m-1 1h0m2 1h0m3 0h0m-10 1h0m-2 1h0m1 1h0m2 0h0m7 0h0m-14 2h0m13 1h0m-11 3h0m8 1h0m3 0h0m0 0h0m-9 1h0m9 6h0m-12 1h0m14 2h0m-15 1h0m5 1h0m-6 2h0m1 2h0m1 1h0m0 2h0m1 1h0m8 0h0m0 2h0m4 3h0m-10 5h0m-3 4h0m13 11h0m22-303h0m1 1h0m-11 8h0m-1 0h0m4 0h0m6 0h0m-13 1h0m-2 0h0m16 0h0m-6 1h0m5 4h0m-10 1h0m6 0h0m1 0h0m-9 0h0m13 1h0m-9 1h0m6 1h0m-2 2h0m-2 1h0m-8 2h0m6 1h0m10 0h0m-13 2h0m-2 1h0m3 2h0m5 0h0m-9 1h0m-2 0h0m6 2h0m0 1h0m-6 2h0m15 200h0m-10 2h0m2 0h0m1 0h0m1 0h0m8 1h0m-5 1h0m-13 1h0m3 1h0m10 1h0m5 0h0m-1 3h0m1 2h0m-16 1h0m-2 1h0m8 1h0m2 1h0m5 0h0m2 3h0m-9 2h0m0 0h0m4 2h0m-7 2h0m-5 1h0m15 1h0m-14 1h0m2 0h0m11 0h0m-3 1h0m5 1h0m-11 1h0m-4 1h0m2 1h0m4 0h0m2 0h0m-6 3h0m-2 0h0m0 4h0m6 0h0m12 4h0m19-297h0m-7 7h0m2 1h0m-11 1h0m11 2h0m-13 7h0m1 0h0m0 1h0m3 0h0m9 0h0m-10 1h0m3 0h0m4 1h0m-1 2h0m-2 2h0m-1 3h0m-3 1h0m8 0h0m7 1h0m-2 1h0m-14 2h0m11 0h0m-6 1h0m-1 1h0m-6 1h0m9 0h0m9 0h0m-15 2h0m-2 2h0m1 1h0m7 0h0m-9 1h0m2 0h0m0 2h0m0 0h0m5 1h0m10 193h0m2 4h0m-9 1h0m3 0h0m-2 1h0m2 2h0m-12 1h0m14 0h0m-11 2h0m4 0h0m8 2h0m-12 1h0m8 0h0m4 0h0m-16 1h0m1 1h0m14 0h0m2 0h0m-1 2h0m-1 1h0m0 0h0m-8 2h0m9 0h0m-14 1h0m2 0h0m3 3h0m-2 1h0m8 1h0m-13 1h0m0 2h0m0 3h0m1 2h0m17 0h0m-16 3h0m10 0h0m-12 1h0m3 1h0m14 1h0m-3 6h0m0 0h0m-8 3h0m28-298h0m1 3h0m-13 2h0m12 0h0m-7 7h0m-3 1h0m1 2h0m8 1h0m5 1h0m-5 2h0m1 0h0m1 1h0m-14 2h0m8 1h0m-1 1h0m2 1h0m-1 0h0m5 0h0m-7 1h0m10 0h0m-17 2h0m14 2h0m3 0h0m-9 1h0m3 0h0m7 1h0m-4 1h0m-10 3h0m-1 1h0m12 0h0m1 1h0m-4 1h0m-10 2h0m7 0h0m-6 4h0m16 196h0m-5 4h0m-6 3h0m7 7h0m4 0h0m-17 2h0m7 2h0m9 1h0m-2 1h0m1 0h0m-13 3h0m2 0h0m-3 3h0m14 0h0m-1 3h0m-12 4h0m4 1h0m-2 1h0m-6 2h0m5 1h0m12 1h0m-7 1h0m-8 1h0m4 1h0m6 0h0m-12 5h0m7 1h0m2 2h0m-4 1h0m-2 2h0m-2 4h0m36-307h0m0 0h0m-13 9h0m1 0h0m6 2h0m3 0h0m-4 2h0m-9 5h0m10 3h0m-8 1h0m-2 2h0m4 3h0m-4 1h0m4 2h0m11 2h0m-9 1h0m-7 1h0m0 1h0m14 0h0m5 0h0m-18 2h0m13 1h0m-5 2h0m-4 2h0m1 0h0m3 2h0m1 0h0m-6 1h0m-3 2h0m0 1h0m5 198h0m-1 1h0m2 1h0m3 0h0m-2 1h0m2 0h0m4 1h0m-12 1h0m3 0h0m-5 1h0m15 0h0m-2 0h0m2 1h0m3 0h0m-15 2h0m5 1h0m-3 0h0m0 2h0m5 3h0m5 0h0m-13 2h0m7 0h0m-8 2h0m10 0h0m-9 2h0m1 0h0m10 0h0m-13 1h0m3 1h0m9 3h0m-8 1h0m1 1h0m10 0h0m3 0h0m-12 1h0m13 1h0m-17 2h0m11 3h0m0 10h0m-13 1h0m3 0h0m23-306h0m3 10h0m5 1h0m-9 5h0m-1 2h0m10 6h0m4 0h0m-1 0h0m-14 3h0m14 0h0m-9 2h0m10 2h0m-3 1h0m-6 1h0m7 1h0m-11 1h0m8 0h0m-3 1h0m-10 3h0m5 0h0m8 0h0m4 0h0m0 0h0m-12 1h0m9 0h0m3 0h0m-9 2h0m4 0h0m1 0h0m4 0h0m-8 1h0m4 0h0m4 1h0m-17 5h0m6 0h0m-4 5h0m16 196h0m-10 1h0m-1 0h0m-2 0h0m6 0h0m7 0h0m-12 2h0m3 1h0m-7 1h0m-2 1h0m19 1h0m-9 1h0m-1 0h0m-5 1h0m-4 1h0m1 0h0m6 1h0m-1 1h0m-3 1h0m16 0h0m-17 3h0m2 0h0m4 2h0m9 0h0m-2 1h0m-1 1h0m0 2h0m4 1h0m-5 1h0m6 0h0m-19 1h0m5 0h0m12 0h0m-14 2h0m-2 0h0m16 0h0m-7 1h0m-3 1h0m9 2h0m-8 1h0m0 3h0m6 0h0m-13 2h0m0 4h0m0 2h0m6 4h0m3 5h0m-8 0h0m24-303h0m-1 7h0m-2 5h0m-3 2h0m14 0h0m4 2h0m-4 1h0m-12 3h0m17 0h0m-1 1h0m-5 2h0m-7 2h0m3 0h0m9 1h0m-9 1h0m-1 2h0m4 0h0m2 1h0m3 0h0m-6 2h0m4 0h0m1 0h0m-3 1h0m1 1h0m-11 3h0m13 0h0m-7 2h0m2 0h0m2 0h0m-11 0h0m3 1h0m-5 1h0m14 0h0m-8 2h0m3 0h0m-4 4h0m8 193h0m3 0h0m2 0h0m-3 1h0m2 0h0m-3 2h0m5 0h0m-14 1h0m14 0h0m-10 1h0m-3 0h0m0 2h0m3 0h0m-9 0h0m14 1h0m-10 2h0m12 0h0m-14 1h0m12 0h0m-13 1h0m18 0h0m-8 3h0m-10 1h0m-1 2h0m15 0h0m4 1h0m-16 3h0m8 1h0m0 1h0m5 1h0m-12 1h0m11 0h0m-1 1h0m-1 1h0m3 3h0m3 0h0m-3 2h0m-1 1h0m-15 4h0m5 0h0m3 0h0m-8 1h0m2 0h0m17 2h0m-11 2h0m3 0h0m3 1h0m-2 7h0m2 3h0m21-293h0m-10 5h0m8 1h0m4 1h0m-11 1h0m12 1h0m0 0h0m-12 2h0m-1 1h0m10 0h0m2 2h0m2 1h0m-11 1h0m0 0h0m11 3h0m-15 4h0m0 0h0m12 1h0m-8 2h0m6 0h0m-14 1h0m1 1h0m11 0h0m1 0h0m-6 1h0m5 0h0m1 0h0m3 1h0m-12 1h0m1 0h0m9 0h0m0 0h0m-13 1h0m6 0h0m6 1h0m-13 1h0m4 0h0m7 0h0m2 0h0m-11 1h0m1 0h0m-1 1h0m0 2h0m13 194h0m-2 0h0m6 0h0m-4 2h0m-6 2h0m-1 1h0m-4 2h0m0 0h0m-4 2h0m6 3h0m3 1h0m1 0h0m7 1h0m2 0h0m-14 1h0m0 2h0m12 0h0m-9 2h0m-7 1h0m17 0h0m-18 2h0m16 0h0m-11 2h0m-2 1h0m12 1h0m-6 4h0m2 2h0m1 1h0m7 5h0m-3 1h0m-12 6h0m10 0h0m1 11h0m16-296h0m1 1h0m-6 2h0m10 0h0m-4 2h0m7 2h0m-5 8h0m5 0h0m-1 0h0m-12 1h0m-3 1h0m8 1h0m-7 1h0m3 1h0m-4 1h0m6 3h0m4 1h0m0 1h0m1 1h0m-8 1h0m4 0h0m7 2h0m-13 1h0m11 0h0m0 1h0m-1 1h0m-13 1h0m-1 2h0m6 0h0m-1 0h0m1 0h0m-5 2h0m7 0h0m9 193h0m1 2h0m-4 1h0m5 1h0m0 2h0m-3 1h0m-13 1h0m4 1h0m-4 1h0m2 0h0m11 1h0m-16 0h0m0 1h0m0 0h0m8 0h0m-2 0h0m-2 1h0m1 0h0m10 1h0m2 0h0m-15 1h0m9 0h0m-9 2h0m5 0h0m0 1h0m7 0h0m0 0h0m1 0h0m-15 1h0m8 2h0m2 1h0m2 1h0m1 0h0m-7 1h0m-2 1h0m4 7h0m9 1h0m-8 7h0m3 2h0m2 0h0m3 2h0m-6 9h0m-11 1h0m22-295h0m16 4h0m-7 3h0m7 3h0m-13 2h0m9 5h0m-14 3h0m3 1h0m7 0h0m1 0h0m-8 1h0m6 3h0m3 0h0m2 0h0m-10 1h0m7 2h0m-1 2h0m-9 1h0m4 1h0m-3 0h0m-2 1h0m16 0h0m2 0h0m-11 2h0m-1 1h0m5 0h0m1 0h0m-7 1h0m4 1h0m9 196h0m0 0h0m-5 1h0m-8 2h0m10 1h0m4 2h0m-17 1h0m12 0h0m4 0h0m-13 1h0m2 0h0m-5 1h0m11 0h0m6 1h0m-12 1h0m-4 3h0m16 0h0m-19 1h0m5 0h0m8 1h0m3 0h0m1 2h0m-3 3h0m1 0h0m-13 1h0m8 0h0m-6 1h0m13 0h0m2 2h0m-18 1h0m14 1h0m-11 2h0m6 1h0m5 3h0m-1 6h0m-8 8h0m5 6h0m12-296h0m12 4h0m-7 1h0m-6 4h0m6 0h0m7 2h0m-6 5h0m-2 1h0m-5 3h0m3 0h0m2 3h0m12 2h0m-16 3h0m2 2h0m7 0h0m3 2h0m-11 1h0m11 0h0m0 0h0m-10 1h0m10 0h0m-14 2h0m7 0h0m7 1h0m-2 197h0m3 0h0m-6 1h0m-1 2h0m-5 1h0m-1 1h0m0 2h0m0 0h0m11 0h0m-12 3h0m3 0h0m5 0h0m0 2h0m3 0h0m-10 2h0m15 0h0m-17 1h0m9 0h0m1 1h0m-1 1h0m5 5h0m-3 2h0m-8 1h0m6 8h0m-4 1h0m0 1h0m-4 1h0m5 1h0m-3 4h0m-1 1h0m-3 3h0m6 5h0m9 2h0m24-284h0m0 3h0m0 1h0m-17 4h0m9 1h0m-5 1h0m6 0h0m-2 2h0m6 1h0m-8 5h0m6 0h0m-2 2h0m3 0h0m-9 2h0m9 0h0m-10 1h0m4 0h0m1 0h0m4 0h0m-6 1h0m6 0h0m4 0h0m0 0h0m-10 1h0m3 0h0m-2 2h0m5 0h0m-3 1h0m-1 1h0m-1 0h0m-8 2h0m18 190h0m-2 0h0m0 0h0m-7 2h0m7 3h0m-2 1h0m-12 1h0m6 0h0m3 2h0m5 1h0m-16 1h0m-1 0h0m6 0h0m5 0h0m-10 1h0m4 0h0m4 0h0m4 4h0m2 3h0m-1 1h0m-13 1h0m15 0h0m-10 1h0m8 1h0m1 0h0m-12 4h0m2 0h0m2 0h0m9 2h0m-10 2h0m7 1h0m-8 1h0m1 3h0m-1 1h0m5 3h0m-2 2h0m5 2h0m-12 2h0m15 0h0m-8 3h0m5 4h0m-4 1h0m1 5h0m20-312h0m1 12h0m-11 4h0m16 9h0m-1 2h0m1 0h0m-7 8h0m0 0h0m-3 3h0m4 0h0m5 0h0m-9 2h0m9 1h0m-8 2h0m2 2h0m-2 1h0m-1 0h0m2 0h0m-4 1h0m0 3h0m0 1h0m8 0h0m-7 1h0m5 0h0m1 0h0m-5 1h0m-1 1h0m2 1h0m0 0h0m-7 0h0m0 2h0m0 2h0m1 0h0m17 185h0m-1 1h0m-6 3h0m1 0h0m2 3h0m-7 1h0m11 1h0m-3 1h0m2 1h0m-16 1h0m7 0h0m-3 0h0m-4 2h0m-1 1h0m1 1h0m5 0h0m3 0h0m2 2h0m4 0h0m3 1h0m-18 1h0m16 0h0m-16 1h0m10 2h0m9 1h0m-10 1h0m7 0h0m-6 7h0m-6 5h0m4 3h0m-3 2h0m5 1h0m-2 1h0m3 0h0m6 1h0m-4 13h0m-12 4h0m35-308h0m-12 14h0m12 5h0m-1 3h0m3 3h0m-16 3h0m6 0h0m-8 1h0m5 2h0m10 0h0m1 2h0m1 1h0m-1 1h0m3 0h0m-13 1h0m2 0h0m6 1h0m-10 1h0m8 0h0m4 0h0m-3 1h0m-6 1h0m-5 1h0m5 0h0m7 0h0m-3 2h0m-5 3h0m2 0h0m5 1h0m2 1h0m-2 0h0m-9 1h0m8 0h0m3 0h0m-12 1h0m0 2h0m14 186h0m1 4h0m-3 2h0m-11 2h0m15 0h0m-18 1h0m-1 0h0m5 0h0m3 1h0m8 0h0m-14 3h0m7 0h0m9 2h0m-7 1h0m-1 1h0m9 0h0m-1 1h0m-1 0h0m0 2h0m-2 2h0m-15 1h0m0 0h0m6 0h0m-6 1h0m0 2h0m10 0h0m8 1h0m1 0h0m-10 1h0m-8 1h0m13 2h0m0 0h0m-9 1h0m3 0h0m7 0h0m-1 2h0m-10 1h0m7 1h0m-6 3h0m8 1h0m1 3h0m-11 5h0m7 7h0m-3 1h0m-3 4h0m18-300h0m16 3h0m-4 2h0m-14 1h0m6 3h0m11 1h0m-16 3h0m15 6h0m-1 1h0m-1 2h0m-12 2h0m2 1h0m3 0h0m5 3h0m6 1h0m-1 0h0m-6 1h0m8 0h0m-16 1h0m-3 1h0m1 0h0m13 0h0m-6 1h0m-5 1h0m14 1h0m1 0h0m-13 3h0m9 0h0m4 1h0m-11 2h0m2 1h0m3 0h0m1 0h0m-12 1h0m8 0h0m3 0h0m-11 3h0m16 188h0m2 1h0m-7 1h0m5 0h0m-5 1h0m-9 3h0m1 1h0m-2 0h0m10 0h0m-9 2h0m3 0h0m0 0h0m-3 1h0m0 1h0m1 0h0m2 0h0m-1 1h0m11 0h0m-1 0h0m1 0h0m-9 1h0m-7 1h0m18 0h0m-18 1h0m13 1h0m-9 2h0m4 0h0m6 0h0m-2 4h0m-11 1h0m10 0h0m7 1h0m-10 1h0m6 3h0m-14 2h0m4 3h0m-3 1h0m8 2h0m5 1h0m-12 8h0m10 3h0m-4 2h0m-5 4h0m3 0h0m12 0h0m0 1h0m-13 3h0m13 3h0m10-305h0m-6 8h0m3 5h0m-2 2h0m4 0h0m-3 4h0m10 4h0m-2 1h0m-12 4h0m0 0h0m8 4h0m3 0h0m1 1h0m1 0h0m-7 1h0m8 0h0m-14 1h0m14 0h0m3 0h0m-10 4h0m1 0h0m8 0h0m-10 2h0m-1 1h0m1 0h0m4 1h0m6 0h0m-12 1h0m-2 0h0m-1 1h0m-1 2h0m3 0h0m0 2h0m3 0h0m13 188h0m-10 1h0m-4 4h0m13 0h0m-13 2h0m1 1h0m2 0h0m1 2h0m-9 1h0m9 0h0m7 0h0m-7 2h0m-8 1h0m17 1h0m-3 1h0m2 0h0m-3 1h0m-8 1h0m5 1h0m2 0h0m-4 1h0m10 0h0m-19 2h0m8 0h0m5 1h0m-13 2h0m6 1h0m-2 3h0m13 3h0m-9 2h0m-5 2h0m9 0h0m-5 1h0m7 1h0m-4 5h0m4 0h0m4 5h0m-10 4h0m19-283h0m-6 2h0m10 3h0m-11 2h0m3 1h0m6 0h0m0 1h0m3 0h0m6 2h0m-10 2h0m5 5h0m6 0h0m-19 3h0m7 0h0m0 0h0m2 0h0m4 0h0m-8 1h0m3 0h0m0 0h0m11 1h0m-9 1h0m-1 3h0m5 0h0m-13 2h0m3 1h0m1 2h0m-2 1h0m8 194h0m0 0h0m2 0h0m-4 1h0m-1 1h0m8 1h0m-13 1h0m9 3h0m4 1h0m-3 1h0m-10 2h0m2 2h0m12 0h0m0 3h0m-17 2h0m5 1h0m10 0h0m-15 1h0m3 1h0m3 1h0m6 0h0m5 2h0m-2 3h0m2 0h0m-12 2h0m9 0h0m-14 2h0m4 5h0m4 1h0m-6 7h0m-1 0h0m5 2h0m0 4h0m5 10h0m28-319h0m-5 11h0m-6 3h0m-2 5h0m4 0h0m1 5h0m2 5h0m4 1h0m-2 1h0m-1 5h0m-9 2h0m-5 3h0m2 0h0m17 0h0m-9 2h0m-10 2h0m5 1h0m8 1h0m-7 1h0m3 0h0m0 1h0m4 1h0m1 0h0m0 2h0m-9 6h0m2 1h0m10 185h0m2 2h0m-1 0h0m-3 1h0m2 2h0m1 3h0m-3 2h0m-3 1h0m-9 2h0m9 0h0m0 0h0m5 0h0m-17 2h0m12 0h0m4 1h0m-6 1h0m-10 1h0m7 0h0m3 0h0m9 0h0m-13 1h0m11 2h0m1 1h0m-14 1h0m9 2h0m5 0h0m-14 3h0m-2 0h0m5 0h0m-1 0h0m8 3h0m2 1h0m-15 3h0m3 4h0m12 6h0m-13 1h0m11 0h0m-14 4h0m17 5h0m3-282h0m17 2h0m-5 2h0m-6 2h0m-4 2h0m8 1h0m8 0h0m-16 2h0m15 0h0m-11 1h0m9 0h0m2 0h0m-17 1h0m1 0h0m15 0h0m-13 2h0m-1 0h0m6 3h0m9 1h0m-7 1h0m0 0h0m5 0h0m2 0h0m-11 1h0m13 1h0m-14 1h0m5 0h0m6 0h0m-2 0h0m1 1h0m-13 1h0m12 0h0m-14 1h0m17 1h0m-10 1h0m8 0h0m-6 1h0m1 0h0m1 0h0m-5 2h0m11 188h0m-5 7h0m-11 1h0m8 0h0m7 1h0m-11 1h0m14 1h0m-17 4h0m15 0h0m-17 2h0m10 6h0m-3 1h0m1 1h0m3 1h0m-7 1h0m7 0h0m-5 2h0m12 1h0m-17 3h0m8 0h0m5 3h0m-7 3h0m2 0h0m7 0h0m-10 2h0m3 3h0m-1 2h0m20-294h0m-7 5h0m18 11h0m-7 1h0m7 5h0m-15 1h0m13 0h0m-7 3h0m4 0h0m3 0h0m-15 1h0m5 0h0m-3 0h0m9 1h0m-4 1h0m9 0h0m-14 3h0m9 0h0m-11 3h0m10 3h0m1 1h0m-11 1h0m10 3h0m-7 1h0m7 0h0m0 1h0m-6 1h0m-1 1h0m10 0h0m-13 1h0m7 0h0m0 0h0m-9 1h0m16 0h0m0 1h0m-1 0h0m0 0h0m4 0h0m-18 1h0m18 0h0m-13 1h0m5 0h0m-11 2h0m0 0h0m12 0h0m-11 1h0m9 0h0m1 189h0m0 1h0m8 1h0m-17 2h0m5 1h0m1 0h0m5 0h0m6 2h0m-14 1h0m1 0h0m0 0h0m6 0h0m6 0h0m-14 1h0m5 0h0m6 1h0m-13 2h0m12 0h0m-6 1h0m-7 1h0m6 0h0m2 1h0m5 0h0m-8 0h0m4 1h0m3 0h0m3 3h0m2 0h0m-18 2h0m0 2h0m17 0h0m-15 2h0m15 0h0m-12 1h0m3 0h0m-6 1h0m15 0h0m-13 1h0m-4 1h0m11 3h0m-1 2h0m-7 1h0m12 1h0m-8 2h0m-5 1h0m1 0h0m6 0h0m9 3h0m-18 1h0m12 0h0m-7 3h0m7 10h0m-1 5h0m-2 4h0m16-308h0m8 4h0m-6 6h0m3 0h0m-7 3h0m6 5h0m-6 4h0m5 1h0m0 2h0m9 4h0m0 2h0m-6 3h0m-2 2h0m-5 1h0m6 0h0m-6 1h0m8 0h0m-12 1h0m16 0h0m-15 1h0m11 0h0m6 1h0m-17 1h0m9 1h0m-10 2h0m13 0h0m-13 1h0m4 1h0m-2 1h0m16 188h0m-4 1h0m-9 3h0m-2 0h0m10 1h0m-12 1h0m9 0h0m9 1h0m-12 1h0m-7 1h0m5 0h0m-5 1h0m3 0h0m9 3h0m-9 1h0m5 0h0m6 0h0m-1 1h0m-10 1h0m-1 0h0m14 0h0m2 0h0m-5 1h0m-11 3h0m-2 1h0m3 0h0m-2 0h0m12 0h0m-5 1h0m3 1h0m-5 2h0m3 0h0m5 3h0m-11 1h0m11 0h0m-6 3h0m0 2h0m11 1h0m-10 1h0m-9 1h0m4 2h0m6 0h0m-6 2h0m-1 3h0m2 2h0m-3 7h0m1 0h0m33-289h0m-9 6h0m12 1h0m-2 3h0m-8 4h0m-9 2h0m4 0h0m15 3h0m-17 1h0m1 1h0m0 3h0m-1 0h0m16 0h0m-2 4h0m-12 2h0m-1 0h0m5 0h0m-2 0h0m11 0h0m-17 1h0m11 0h0m0 0h0m-2 0h0m-9 1h0m5 0h0m-1 1h0m4 0h0m1 1h0m3 0h0m0 0h0m-6 2h0m2 0h0m3 0h0m6 0h0m0 2h0m-11 1h0m-3 1h0m14 190h0m-8 3h0m-7 3h0m15 1h0m-8 1h0m4 0h0m4 0h0m1 0h0m-3 1h0m-12 1h0m15 0h0m-4 1h0m-8 1h0m2 4h0m6 0h0m-7 1h0m-4 1h0m-3 2h0m12 1h0m-6 3h0m1 2h0m-5 2h0m13 3h0m-9 2h0m-4 1h0m1 1h0m2 1h0m-5 2h0m11 8h0m3 1h0m-8 6h0m4 0h0m29-298h0m-1 3h0m-9 3h0m-1 3h0m1 4h0m3 4h0m-6 5h0m3 1h0m-3 0h0m10 0h0m3 2h0m-5 1h0m5 3h0m-7 4h0m5 0h0m-10 3h0m-5 1h0m3 0h0m7 0h0m-10 1h0m11 2h0m2 1h0m3 0h0m-16 1h0m0 1h0m11 2h0m5 0h0m-15 2h0m6 0h0m5 191h0m1 1h0m-11 3h0m11 1h0m-1 0h0m-14 2h0m11 0h0m-7 1h0m11 1h0m-11 1h0m6 0h0m5 1h0m2 0h0m1 0h0m-17 1h0m5 0h0m2 0h0m-1 0h0m4 1h0m3 2h0m2 0h0m-16 1h0m5 0h0m4 0h0m-3 1h0m-6 1h0m19 0h0m-14 1h0m11 0h0m2 0h0m-5 4h0m2 1h0m-4 2h0m-2 2h0m-9 1h0m10 1h0m4 2h0m-4 3h0m0 1h0m2 0h0m0 3h0m-2 2h0m1 5h0m-1 1h0m-2 1h0m10 0h0m-13 4h0m31-300h0m0 9h0m-15 2h0m15 7h0m2 1h0m-6 2h0m-3 0h0m3 2h0m-7 1h0m-5 3h0m8 1h0m9 0h0m-11 1h0m2 2h0m2 1h0m-10 2h0m7 0h0m8 2h0m-10 2h0m1 0h0m8 2h0m1 1h0m-8 1h0m1 1h0m-7 5h0m11 0h0m3 0h0m-14 1h0m2 1h0m4 0h0m7 0h0m1 1h0m-11 3h0m-3 1h0m16 185h0m1 1h0m-3 3h0m2 1h0m0 0h0m-6 1h0m7 2h0m-9 1h0m1 0h0m-5 1h0m3 3h0m5 3h0m-4 2h0m2 0h0m3 2h0m-12 1h0m0 1h0m0 0h0m3 0h0m4 0h0m9 0h0m1 1h0m-18 6h0m0 1h0m10 0h0m-3 2h0m3 0h0m-6 2h0m6 0h0m1 4h0m-4 3h0m2 1h0m-10 5h0m4 0h0m1 13h0m10 1h0m2 4h0m8-298h0m-1 8h0m9 0h0m5 1h0m-2 1h0m-2 1h0m-13 1h0m16 4h0m-13 3h0m7 1h0m4 0h0m4 4h0m-10 3h0m-2 2h0m8 0h0m-12 1h0m2 1h0m-5 2h0m18 0h0m-10 1h0m9 0h0m-13 1h0m2 0h0m0 2h0m6 0h0m-12 1h0m1 1h0m10 0h0m-6 1h0m3 0h0m3 0h0m7 189h0m-1 2h0m-17 1h0m2 1h0m7 0h0m1 0h0m7 1h0m-4 2h0m1 0h0m-2 1h0m1 0h0m1 2h0m-2 1h0m4 0h0m-1 2h0m-12 1h0m5 0h0m-6 1h0m1 1h0m4 0h0m5 0h0m-4 1h0m-6 1h0m0 0h0m14 1h0m-7 2h0m8 0h0m-15 2h0m-2 1h0m12 0h0m-3 1h0m-9 1h0m8 0h0m6 1h0m2 0h0m-6 0h0m-3 1h0m4 0h0m3 1h0m-4 1h0m-6 1h0m0 3h0m15 0h0m-18 1h0m17 1h0m-15 2h0m6 0h0m3 7h0m2 2h0m1 4h0m22-291h0m1 6h0m-14 2h0m11 1h0m-15 1h0m17 4h0m-3 4h0m5 4h0m-8 1h0m-8 1h0m-2 2h0m-1 1h0m1 1h0m10 4h0m5 1h0m1 0h0m-11 2h0m12 0h0m0 0h0m-14 0h0m1 1h0m5 0h0m5 3h0m2 0h0m-8 2h0m3 0h0m-7 1h0m6 0h0m-10 1h0m5 2h0m-5 1h0m13 189h0m1 0h0m-13 2h0m12 0h0m-1 1h0m-9 2h0m8 0h0m-12 1h0m13 0h0m2 0h0m4 0h0m-2 0h0m-12 2h0m13 0h0m-12 1h0m8 0h0m-12 1h0m15 0h0m-6 1h0m-1 0h0m-4 1h0m8 1h0m-12 1h0m15 0h0m-17 1h0m0 1h0m7 0h0m-2 0h0m9 0h0m-1 0h0m1 5h0m-11 1h0m1 1h0m1 0h0m7 1h0m5 1h0m-14 1h0m16 0h0m0 4h0m-7 1h0m-1 3h0m-6 1h0m2 4h0m-5 11h0m2 2h0m5 4h0m5 2h0m-11 5h0m-1 0h0m11 0h0m22-302h0m0 1h0m-2 1h0m3 9h0m2 1h0m-4 2h0m-1 0h0m-2 1h0m-6 4h0m6 0h0m2 1h0m-3 3h0m6 0h0m-8 2h0m-5 4h0m9 0h0m-8 1h0m-2 1h0m4 0h0m-5 1h0m8 0h0m-4 1h0m6 0h0m-1 0h0m7 0h0m-15 2h0m-2 1h0m12 1h0m7 2h0m-4 1h0m-13 1h0m14 0h0m-1 1h0m2 0h0m-3 1h0m-14 2h0m3 0h0m-2 1h0m0 1h0m6 185h0m12 2h0m-18 1h0m13 1h0m-4 1h0m2 4h0m2 0h0m-2 1h0m5 0h0m-5 1h0m4 1h0m-11 1h0m10 1h0m-5 2h0m-1 1h0m-1 2h0m9 0h0m-15 1h0m0 1h0m12 0h0m-12 2h0m5 1h0m-1 1h0m-4 2h0m11 0h0m-13 1h0m8 2h0m3 0h0m-11 1h0m15 1h0m-14 1h0m15 0h0m2 2h0m-8 1h0m-10 2h0m4 1h0m10 7h0m-4 8h0m7 5h0m6-303h0m0 17h0m14 7h0m-12 1h0m0 2h0m13 0h0m-2 2h0m1 0h0m-7 1h0m5 3h0m-15 7h0m7 0h0m3 0h0m9 1h0m-3 1h0m-5 2h0m3 0h0m1 1h0m-14 2h0m10 0h0m7 0h0m-14 1h0m5 0h0m-6 1h0m2 2h0m5 1h0m-7 1h0m2 0h0m4 1h0m-6 1h0m14 184h0m0 1h0m-14 1h0m2 1h0m2 1h0m7 0h0m-1 0h0m-13 1h0m2 0h0m0 1h0m2 2h0m1 1h0m3 1h0m1 0h0m-5 1h0m4 0h0m4 0h0m2 0h0m4 1h0m-7 1h0m5 0h0m-2 0h0m0 1h0m-8 1h0m5 4h0m-2 1h0m-3 1h0m-4 1h0m1 1h0m4 0h0m8 1h0m-8 1h0m7 1h0m5 4h0m-8 9h0m-8 1h0m4 0h0m-7 2h0m4 7h0m12 5h0m-11 2h0m5 6h0m-9 3h0m15 4h0m23-295h0m-8 3h0m4 9h0m-12 1h0m0 1h0m15 0h0m-6 2h0m3 0h0m-2 0h0m-8 1h0m6 1h0m-11 1h0m5 0h0m5 3h0m-1 1h0m2 2h0m-7 1h0m10 0h0m-12 2h0m7 0h0m6 0h0m4 0h0m-8 1h0m-5 2h0m-5 1h0m-1 0h0m8 0h0m1 0h0m5 0h0m-9 4h0m-1 0h0m2 0h0m5 0h0m1 1h0m-3 182h0m8 3h0m-12 2h0m13 0h0m-18 1h0m4 0h0m3 0h0m-1 1h0m11 0h0m-13 1h0m14 0h0m-15 2h0m7 0h0m4 1h0m-12 1h0m2 1h0m-1 0h0m11 0h0m-4 1h0m-5 1h0m11 3h0m-11 1h0m8 1h0m-3 0h0m5 2h0m1 1h0m-14 1h0m14 0h0m-16 3h0m19 4h0m-12 1h0m-7 4h0m6 0h0m-5 1h0m6 0h0m-3 1h0m1 4h0m12 2h0m-12 1h0m13 0h0m-8 4h0m-10 4h0m19 0h0m-19 3h0m6 2h0m-1 0h0m0 3h0m-5 6h0m0 2h0m36-308h0m-4 3h0m6 17h0m-3 11h0m-14 1h0m12 0h0m-8 2h0m9 2h0m-7 2h0m11 0h0m-17 1h0m8 1h0m4 0h0m6 0h0m-13 2h0m0 1h0m11 2h0m-11 3h0m7 0h0m1 1h0m4 0h0m-4 1h0m1 0h0m-14 1h0m6 0h0m-4 1h0m3 0h0m5 2h0m-2 0h0m9 178h0m-4 4h0m-7 1h0m10 1h0m-9 2h0m4 0h0m0 0h0m2 0h0m5 0h0m-18 2h0m5 0h0m0 0h0m-6 2h0m3 1h0m5 0h0m-4 1h0m9 0h0m-7 1h0m-4 1h0m2 0h0m4 1h0m-7 4h0m4 3h0m8 0h0m5 0h0m-13 5h0m4 1h0m-7 1h0m4 0h0m0 2h0m4 0h0m-6 4h0m0 1h0m9 1h0m1 1h0m-11 1h0m1 0h0m14 1h0m-16 1h0m4 2h0m1 0h0m-6 2h0m0 9h0m14 0h0m-14 4h0m13 2h0m-2 1h0m7 0h0m-18 1h0m16 6h0m4-302h0m2 0h0m12 6h0m-10 1h0m8 7h0m-12 2h0m17 1h0m1 2h0m-15 1h0m12 0h0m-14 3h0m-2 3h0m14 0h0m1 1h0m-8 4h0m-6 7h0m5 0h0m13 1h0m-11 1h0m-3 0h0m7 0h0m4 0h0m0 1h0m-10 3h0m-4 1h0m13 1h0m-1 0h0m-8 1h0m4 1h0m-6 1h0m8 0h0m-2 1h0m9 177h0m-1 3h0m-3 1h0m-5 1h0m-8 1h0m4 0h0m4 0h0m-3 1h0m-4 2h0m12 0h0m-1 0h0m-13 1h0m18 0h0m-12 2h0m10 0h0m-1 1h0m-16 2h0m0 0h0m13 0h0m2 1h0m-14 1h0m12 0h0m2 0h0m2 0h0m-2 1h0m-4 1h0m-6 2h0m3 1h0m5 0h0m-8 1h0m5 1h0m3 2h0m2 0h0m-3 1h0m-12 1h0m1 3h0m15 0h0m-12 1h0m-1 1h0m6 1h0m-3 0h0m8 1h0m-14 1h0m0 0h0m14 0h0m2 1h0m-1 2h0m-5 3h0m0 3h0m-8 5h0m14 3h0m-16 1h0m1 1h0m15 0h0m-1 1h0m3 0h0m-11 14h0m18-308h0m-3 6h0m4 8h0m-1 2h0m10 2h0m-11 7h0m14 2h0m-5 1h0m-2 1h0m-8 5h0m6 0h0m-1 1h0m2 2h0m-7 1h0m14 0h0m-10 1h0m5 0h0m4 1h0m2 2h0m-5 1h0m3 0h0m-15 1h0m0 3h0m3 0h0m6 0h0m0 2h0m-2 1h0m-8 3h0m1 2h0m15 0h0m1 0h0m-7 2h0m3 0h0m-8 181h0m10 0h0m3 0h0m-1 0h0m-1 1h0m-15 1h0m11 0h0m-1 3h0m-7 1h0m4 0h0m-4 1h0m-2 0h0m-1 0h0m6 1h0m3 0h0m5 0h0m4 0h0m-13 1h0m-5 1h0m3 0h0m15 0h0m-1 0h0m-17 2h0m2 1h0m4 0h0m-1 0h0m5 0h0m5 1h0m2 0h0m-10 1h0m4 1h0m-8 1h0m1 0h0m6 0h0m-3 2h0m3 0h0m-9 1h0m16 1h0m0 5h0m-5 3h0m-13 1h0m5 0h0m11 5h0m-12 4h0m8 0h0m-10 2h0m4 1h0m-5 1h0m4 0h0m7 1h0m-5 2h0m9 0h0m1 0h0m-16 3h0m11 2h0m1 1h0m6 0h0m-7 2h0m2 7h0m-4 2h0m-8 4h0m-2 3h0m20-310h0m8 10h0m-3 1h0m9 3h0m2 8h0m-13 6h0m2 3h0m-3 1h0m1 2h0m9 0h0m7 0h0m-19 1h0m16 1h0m-11 2h0m2 2h0m-4 1h0m0 0h0m1 0h0m-2 0h0m7 0h0m-1 1h0m6 0h0m-9 2h0m-4 1h0m13 0h0m-2 1h0m1 1h0m-8 1h0m2 0h0m7 0h0m-10 1h0m-1 0h0m3 0h0m10 1h0m-7 1h0m6 0h0m-2 1h0m2 1h0m-12 1h0m7 181h0m-2 1h0m-2 1h0m4 0h0m2 0h0m4 1h0m3 0h0m-11 1h0m-2 0h0m10 0h0m-9 1h0m-6 1h0m6 0h0m1 0h0m10 0h0m-4 1h0m-4 1h0m-7 1h0m3 0h0m8 1h0m-1 2h0m0 0h0m-11 1h0m6 0h0m4 0h0m-2 0h0m-7 2h0m9 0h0m6 0h0m-5 1h0m3 0h0m-12 1h0m-1 0h0m12 0h0m-8 2h0m8 2h0m-14 1h0m18 0h0m0 0h0m-15 2h0m-2 0h0m5 3h0m1 0h0m2 0h0m-10 2h0m12 2h0m-12 2h0m0 0h0m3 2h0m0 0h0m0 1h0m3 0h0m2 0h0m-4 4h0m9 2h0m0 0h0m-4 1h0m-4 1h0m13 2h0m-6 7h0m-6 1h0m11 1h0m-3 2h0m1 0h0m-3 2h0m-7 2h0m4 3h0m-6 2h0m6 1h0m16-284h0m13 0h0m-8 4h0m5 7h0m-4 3h0m6 0h0m2 0h0m-6 1h0m-13 6h0m4 0h0m-1 0h0m5 0h0m-8 1h0m10 0h0m-1 1h0m7 2h0m-10 0h0m0 1h0m9 1h0m4 0h0m-12 1h0m0 0h0m6 0h0m1 0h0m-7 2h0m8 0h0m3 0h0m0 0h0m-14 2h0m4 0h0m7 0h0m-1 0h0m-1 182h0m6 0h0m-5 1h0m-2 4h0m-3 0h0m6 0h0m-14 1h0m3 0h0m15 2h0m-10 1h0m-1 1h0m1 0h0m-4 1h0m-1 0h0m6 0h0m3 1h0m0 0h0m2 0h0m-5 3h0m-3 2h0m-7 1h0m13 1h0m-6 1h0m-7 1h0m12 0h0m2 0h0m-11 3h0m9 2h0m1 0h0m-9 1h0m2 0h0m7 0h0m-12 3h0m11 2h0m5 1h0m-5 1h0m-9 1h0m6 0h0m-7 0h0m17 1h0m-2 2h0m-5 1h0m7 0h0m-9 1h0m-4 3h0m1 2h0m4 0h0m-8 1h0m4 1h0m12 0h0m-4 1h0m-12 3h0m1 2h0m14 0h0m-14 1h0m2 0h0m12 3h0m-17 2h0m2 3h0m10 0h0m-12 4h0m4 2h0m11 8h0m23-299h0m-3 9h0m-2 2h0m-14 4h0m13 0h0m4 0h0m-3 1h0m-10 1h0m8 3h0m1 0h0m-11 1h0m7 0h0m4 1h0m-5 4h0m5 0h0m-2 1h0m3 0h0m3 0h0m-14 1h0m12 0h0m3 2h0m-16 1h0m6 0h0m-7 1h0m11 0h0m2 0h0m-14 1h0m0 0h0m4 0h0m11 1h0m-3 0h0m2 2h0m4 0h0m0 0h0m-16 1h0m8 0h0m9 0h0m0 0h0m-8 1h0m-11 1h0m0 1h0m0 183h0m3 0h0m3 0h0m5 0h0m-7 1h0m4 1h0m-7 2h0m6 0h0m-4 1h0m13 0h0m-15 1h0m6 1h0m2 0h0m10 0h0m-13 1h0m4 1h0m-5 1h0m0 0h0m6 0h0m-2 6h0m-9 1h0m15 0h0m-13 2h0m4 0h0m0 1h0m10 1h0m1 0h0m-14 1h0m6 0h0m-3 1h0m6 1h0m3 3h0m-14 3h0m4 1h0m6 0h0m-6 0h0m4 4h0m-7 1h0m5 0h0m6 0h0m-5 4h0m11 2h0m-17 2h0m16 4h0m-2 5h0m0 1h0m3 7h0m1-300h0m9 0h0m-7 8h0m10 0h0m-12 3h0m17 7h0m-16 2h0m8 1h0m7 0h0m-8 7h0m7 0h0m-12 2h0m14 3h0m-3 2h0m-13 1h0m8 1h0m3 0h0m4 0h0m-2 2h0m1 2h0m-9 2h0m10 0h0m2 0h0m-15 1h0m10 1h0m5 0h0m-7 1h0m3 2h0m-13 6h0m5 181h0m10 0h0m1 0h0m-6 1h0m-5 2h0m2 1h0m2 0h0m-5 1h0m1 0h0m9 0h0m4 0h0m0 2h0m-7 1h0m-9 1h0m14 0h0m-8 1h0m0 1h0m-8 1h0m5 1h0m2 0h0m-3 3h0m10 1h0m-14 1h0m18 0h0m-5 1h0m2 0h0m-16 1h0m5 0h0m-4 2h0m16 0h0m-2 2h0m-6 2h0m-2 1h0m-5 3h0m17 0h0m-19 2h0m16 2h0m-1 1h0m-12 1h0m-3 7h0m8 1h0m5 1h0m-10 1h0m8 0h0m-9 1h0m12 1h0m-13 3h0m14 0h0m-1 1h0m4 3h0m-7 1h0m7 6h0m1 1h0m-19 5h0m1 3h0m30-299h0m-8 3h0m0 1h0m7 8h0m3 0h0m-13 3h0m0 1h0m11 2h0m5 0h0m-12 3h0m8 4h0m-8 2h0m3 0h0m10 0h0m-6 2h0m-4 2h0m-7 1h0m2 0h0m7 1h0m2 1h0m-3 2h0m3 3h0m-7 3h0m11 184h0m-4 1h0m-3 1h0m6 0h0m1 0h0m1 0h0m-14 1h0m-1 1h0m2 0h0m5 0h0m5 1h0m3 0h0m2 0h0m-5 1h0m-4 1h0m-3 2h0m-2 0h0m12 1h0m-3 0h0m-7 1h0m13 1h0m-6 1h0m-12 2h0m6 0h0m4 0h0m-2 1h0m2 1h0m3 1h0m-10 1h0m12 0h0m-3 0h0m-12 4h0m3 2h0m11 0h0m-2 0h0m-4 1h0m9 0h0m-16 2h0m7 0h0m-8 2h0m0 0h0m2 0h0m6 0h0m0 1h0m2 0h0m-10 2h0m2 1h0m16 1h0m-11 6h0m-1 0h0m9 0h0m-4 6h0m-11 4h0m11 8h0m-12 2h0m17 2h0m4-296h0m4 7h0m11 0h0m1 0h0m0 4h0m-15 5h0m-2 4h0m2 0h0m5 0h0m8 0h0m-3 1h0m-5 1h0m4 1h0m2 0h0m1 2h0m-9 1h0m3 0h0m3 0h0m-4 2h0m4 1h0m-4 1h0m0 1h0m0 0h0m11 0h0m-16 1h0m-1 1h0m6 0h0m7 0h0m-3 1h0m3 0h0m-7 1h0m9 0h0m3 0h0m-1 0h0m-18 2h0m16 1h0m-4 2h0m-4 1h0m3 0h0m1 1h0m-9 1h0m-3 2h0m4 0h0m14 182h0m1 2h0m0 0h0m0 2h0m-6 1h0m4 0h0m-15 1h0m2 1h0m13 0h0m-3 1h0m-9 1h0m-1 2h0m13 0h0m-14 1h0m16 0h0m0 2h0m-5 1h0m-6 1h0m4 0h0m-2 0h0m-6 2h0m4 1h0m-1 1h0m5 1h0m-11 1h0m7 1h0m1 0h0m-4 1h0m8 0h0m3 2h0m-5 1h0m-7 3h0m10 0h0m-1 1h0m-8 2h0m-1 2h0m1 2h0m1 0h0m-3 2h0m13 2h0m-3 1h0m-10 1h0m12 0h0m-5 6h0m9 2h0m-5 1h0m-9 5h0m9 1h0m22-293h0m-15 7h0m10 7h0m-4 2h0m2 2h0m-4 7h0m10 0h0m-5 1h0m3 0h0m-6 1h0m-2 1h0m7 0h0m7 0h0m-11 2h0m-1 1h0m9 0h0m-13 2h0m13 0h0m-13 1h0m10 0h0m0 1h0m2 1h0m3 1h0m-11 1h0m-1 1h0m10 0h0m-6 1h0m6 1h0m-1 1h0m-12 1h0m8 0h0m-3 1h0m9 0h0m-13 1h0m2 0h0m5 0h0m4 0h0m-10 1h0m1 0h0m5 0h0m7 0h0m-17 2h0m1 187h0m5 0h0m8 1h0m-14 2h0m17 1h0m-10 1h0m10 0h0m-15 1h0m16 0h0m-13 1h0m5 8h0m1 0h0m-2 2h0m4 0h0m0 0h0m-13 1h0m4 1h0m9 0h0m5 1h0m-6 2h0m-3 1h0m3 0h0m1 0h0m2 0h0m-6 1h0m-8 1h0m7 0h0m-3 0h0m0 1h0m2 3h0m-4 4h0m3 4h0m-1 1h0m-6 1h0m5 0h0m1 0h0m5 1h0m4 0h0m3 0h0m-16 2h0m1 2h0m4 3h0m4 0h0m-9 1h0m4 3h0m9 2h0m-11 3h0m-4 15h0m4 8h0m13 0h0m11-316h0m8 6h0m1 12h0m2 3h0m0 1h0m-14 1h0m5 1h0m-4 2h0m12 2h0m-11 3h0m-4 3h0m14 0h0m-4 1h0m-4 1h0m6 0h0m-2 1h0m-7 1h0m-2 4h0m-3 2h0m11 0h0m-7 2h0m-4 2h0m4 0h0m14 187h0m-4 1h0m-12 0h0m5 1h0m8 0h0m-11 2h0m-2 0h0m4 0h0m9 1h0m-4 0h0m-3 0h0m5 1h0m1 1h0m-1 0h0m-4 2h0m-9 1h0m7 0h0m-2 1h0m13 0h0m-18 1h0m6 2h0m10 1h0m-6 1h0m4 0h0m3 1h0m-5 1h0m-7 3h0m10 0h0m-16 2h0m1 3h0m11 2h0m5 0h0m-7 2h0m-1 0h0m6 1h0m-9 1h0m5 0h0m7 0h0m0 1h0m-16 1h0m4 1h0m-1 1h0m8 1h0m-12 1h0m6 0h0m5 2h0m-5 1h0m4 0h0m-7 1h0m4 0h0m-3 1h0m-5 3h0m19 2h0m-11 2h0m9 0h0m-9 1h0m6 3h0m-3 3h0m5 1h0m-8 2h0m3 0h0m17-299h0m-3 2h0m13 4h0m-7 2h0m0 3h0m-1 2h0m7 4h0m-3 1h0m-7 3h0m4 1h0m-1 1h0m-7 2h0m16 0h0m-3 1h0m-11 3h0m13 0h0m-12 1h0m7 2h0m6 0h0m-2 0h0m-14 1h0m0 0h0m2 2h0m1 2h0m3 0h0m-5 1h0m-1 1h0m12 2h0m-15 2h0m4 0h0m14 0h0m-3 1h0m3 0h0m-14 2h0m-4 191h0m1 2h0m6 0h0m3 0h0m1 0h0m-11 2h0m14 0h0m-10 1h0m2 1h0m-4 3h0m1 0h0m14 0h0m-12 1h0m13 1h0m-6 2h0m6 0h0m-15 3h0m11 0h0m3 0h0m-17 1h0m4 1h0m6 0h0m6 0h0m-7 2h0m-9 3h0m5 0h0m-4 1h0m3 0h0m3 1h0m12 0h0m-10 3h0m5 0h0m-7 1h0m8 0h0m-2 1h0m-5 1h0m-6 2h0m2 0h0m-3 3h0m1 2h0m9 1h0m-3 4h0m-2 0h0m-1 2h0m11 2h0m-15 2h0m2 2h0m2 1h0m13 3h0m-11 18h0m11 2h0m14-301h0m-6 1h0m13 1h0m-19 1h0m4 4h0m-1 3h0m4 3h0m4 1h0m-1 1h0m-1 2h0m-7 1h0m9 0h0m1 0h0m-12 1h0m1 1h0m17 0h0m0 0h0m-16 2h0m4 0h0m0 1h0m2 1h0m-5 3h0m13 0h0m-5 1h0m-9 195h0m-1 1h0m5 0h0m-5 2h0m10 0h0m3 0h0m3 1h0m-1 2h0m-15 3h0m6 0h0m4 0h0m6 0h0m-13 2h0m5 0h0m-9 2h0m18 0h0m-12 2h0m12 0h0m-18 1h0m1 0h0m15 1h0m-10 1h0m11 0h0m-17 1h0m6 0h0m-3 1h0m2 0h0m2 1h0m11 0h0m-18 1h0m9 0h0m2 5h0m0 0h0m-3 2h0m1 1h0m-9 1h0m16 4h0m0 3h0m-3 3h0m6 3h0m-9 1h0m7 2h0m-13 4h0m4 0h0m2 1h0m7 3h0m-2 3h0m4 5h0m-3 9h0m1 2h0m20-303h0m2 1h0m-2 3h0m-14 1h0m14 0h0m0 3h0m-17 4h0m5 1h0m2 0h0m10 0h0m-3 2h0m-9 1h0m-2 3h0m1 0h0m10 0h0m-4 2h0m1 1h0m-2 1h0m3 0h0m6 1h0m1 0h0m-19 1h0m7 0h0m-5 2h0m0 0h0m5 0h0m8 1h0m2 0h0m-15 1h0m10 1h0m6 0h0m-10 1h0m10 0h0m-18 3h0m1 1h0m18 189h0m-5 2h0m-9 1h0m1 3h0m11 0h0m-7 1h0m8 2h0m-10 2h0m0 0h0m5 3h0m4 0h0m0 0h0m2 1h0m-3 1h0m-5 1h0m-4 1h0m3 2h0m7 0h0m-4 2h0m1 0h0m-8 1h0m6 0h0m-3 1h0m1 1h0m8 2h0m-8 1h0m-8 1h0m12 0h0m-5 1h0m5 0h0m5 1h0m0 1h0m-3 1h0m-1 0h0m-2 3h0m6 0h0m-10 1h0m-3 1h0m13 0h0m-9 2h0m-10 1h0m1 3h0m11 6h0m-3 0h0m10 1h0m-19 14h0m13 1h0m24-311h0m1 2h0m-8 16h0m6 1h0m-8 3h0m11 1h0m-11 1h0m-1 2h0m0 0h0m6 3h0m0 1h0m-6 2h0m-3 1h0m3 0h0m-4 1h0m0 0h0m9 0h0m-3 2h0m10 2h0m-16 1h0m1 0h0m-1 1h0m3 0h0m5 1h0m8 0h0m-9 2h0m5 0h0m0 0h0m2 0h0m2 1h0m-19 2h0m11 0h0m-4 1h0m3 1h0m0 196h0m-5 1h0m5 1h0m8 0h0m-16 1h0m1 0h0m4 0h0m9 1h0m2 2h0m-15 1h0m11 0h0m-1 1h0m1 0h0m-13 2h0m1 0h0m5 8h0m1 1h0m4 0h0m-11 1h0m7 0h0m-8 1h0m4 1h0m4 2h0m-8 1h0m4 1h0m4 0h0m0 0h0m4 1h0m-2 1h0m-7 2h0m10 2h0m2 0h0m-2 2h0m-1 1h0m1 0h0m0 3h0m-7 4h0m-4 2h0m7 2h0m2 20h0m-2 1h0m25-306h0m5 4h0m-9 1h0m4 9h0m-3 2h0m-5 1h0m8 2h0m-1 1h0m4 1h0m-11 4h0m-5 3h0m18 0h0m-9 1h0m6 0h0m-8 1h0m0 0h0m8 0h0m-10 2h0m13 2h0m-14 1h0m-2 1h0m2 0h0m-2 1h0m-1 0h0m3 1h0m8 0h0m3 0h0m-4 1h0m-12 2h0m9 0h0m-8 1h0m0 1h0m6 194h0m5 0h0m2 1h0m2 0h0m-1 1h0m1 2h0m-8 1h0m1 0h0m-9 1h0m4 1h0m1 0h0m7 1h0m6 0h0m-12 1h0m-5 2h0m-1 1h0m18 0h0m-9 3h0m4 1h0m6 0h0m-11 1h0m-8 1h0m19 2h0m-1 0h0m-8 1h0m6 0h0m-3 1h0m-4 1h0m-7 1h0m13 1h0m4 1h0m-6 1h0m6 0h0m-19 1h0m9 0h0m9 2h0m-15 1h0m4 0h0m-4 1h0m-3 2h0m7 0h0m6 1h0m0 1h0m-10 4h0m8 1h0m-9 1h0m10 1h0m-9 1h0m13 0h0m-11 2h0m6 0h0m1 0h0m-4 2h0m0 0h0m6 3h0m3 0h0m-4 0h0m-1 2h0m4 1h0m2 5h0m-17 1h0m7 18h0m23-317h0m-1 4h0m8 5h0m-1 2h0m-5 4h0m2 1h0m3 0h0m-13 4h0m8 0h0m5 1h0m-12 3h0m4 0h0m10 0h0m-5 1h0m5 0h0m-18 2h0m13 0h0m0 1h0m-6 1h0m-2 1h0m7 0h0m1 1h0m-8 1h0m13 1h0m-19 2h0m10 0h0m5 0h0m-1 0h0m2 0h0m-13 1h0m3 2h0m6 0h0m-7 1h0m7 2h0m0 0h0m4 0h0m-7 194h0m2 0h0m2 2h0m-5 1h0m9 0h0m-17 2h0m19 0h0m-2 0h0m-17 2h0m6 0h0m12 0h0m-6 1h0m-11 1h0m2 1h0m12 1h0m-11 2h0m7 1h0m7 1h0m0 2h0m-10 1h0m1 0h0m3 0h0m-1 1h0m3 0h0m3 0h0m-9 2h0m6 0h0m-1 3h0m6 0h0m-6 4h0m-2 0h0m-11 1h0m5 2h0m6 1h0m-3 1h0m1 2h0m6 0h0m-5 1h0m8 0h0m0 0h0m-5 1h0m-2 1h0m-9 1h0m11 0h0m1 1h0m4 3h0m-16 2h0m5 2h0m12 0h0m-1 0h0m-9 1h0m2 1h0m-9 1h0m5 3h0m4 2h0m7 2h0m-8 4h0m-9 6h0m14 2h0m-1 3h0m25-305h0m-14 1h0m7 1h0m-12 9h0m3 1h0m11 0h0m-5 1h0m1 1h0m7 1h0m-11 1h0m12 0h0m-5 3h0m1 0h0m2 1h0m-7 1h0m1 0h0m0 1h0m-8 2h0m6 1h0m3 0h0m4 0h0m2 0h0m-15 1h0m11 0h0m-10 4h0m5 0h0m-6 2h0m8 0h0m6 0h0m1 0h0m2 0h0m-12 1h0m7 0h0m-4 1h0m-1 0h0m8 0h0m-12 1h0m9 195h0m-10 2h0m0 0h0m8 0h0m5 1h0m-14 1h0m8 1h0m-10 2h0m0 0h0m5 0h0m0 0h0m3 0h0m6 0h0m-14 3h0m7 0h0m10 0h0m-11 2h0m0 1h0m-6 4h0m9 0h0m0 1h0m0 0h0m1 1h0m4 0h0m0 0h0m4 0h0m-7 2h0m-11 1h0m3 3h0m5 0h0m-3 1h0m6 1h0m-12 1h0m8 0h0m8 6h0m-6 1h0m7 1h0m0 1h0m-15 2h0m14 3h0m3 1h0m-15 1h0m3 0h0m-3 5h0m4 0h0m5 4h0m-11 1h0m1 2h0m1 5h0m5 3h0m-3 9h0m28-315h0m-14 8h0m15 0h0m-13 12h0m12 0h0m-1 2h0m3 1h0m3 0h0m-17 2h0m15 1h0m-15 3h0m5 0h0m12 0h0m-4 1h0m-11 2h0m10 0h0m-10 1h0m4 0h0m2 0h0m-7 1h0m7 1h0m-5 1h0m4 0h0m-6 2h0m-1 2h0m4 0h0m2 1h0m7 0h0m-7 2h0m10 0h0m-1 197h0m-14 1h0m6 0h0m-5 1h0m14 0h0m-6 1h0m-10 2h0m15 0h0m-2 1h0m-12 1h0m3 0h0m-3 1h0m5 0h0m-2 0h0m2 1h0m-7 1h0m16 0h0m2 0h0m-15 1h0m-2 0h0m3 0h0m5 0h0m3 1h0m2 0h0m-15 1h0m1 1h0m4 1h0m1 0h0m3 2h0m7 0h0m-12 2h0m14 0h0m-4 2h0m4 1h0m-14 1h0m11 1h0m-10 1h0m9 1h0m-7 2h0m1 0h0m-7 10h0m8 0h0m8 0h0m-15 1h0m15 0h0m-11 5h0m0 1h0m9 0h0m-15 1h0m3 1h0m1 4h0m10 0h0m-3 3h0m-11 1h0m8 1h0m9 1h0m-1 1h0m-15 12h0m34-327h0m-3 13h0m-2 7h0m-4 4h0m-6 1h0m8 1h0m-8 3h0m4 0h0m13 0h0m1 0h0m-8 2h0m-8 1h0m5 0h0m7 4h0m-10 3h0m6 2h0m6 1h0m1 0h0m2 2h0m-10 1h0m7 0h0m-11 3h0m7 1h0m1 2h0m2 0h0m2 0h0m-13 1h0m3 2h0m2 0h0m2 1h0m-11 1h0m8 0h0m-5 1h0m11 196h0m-14 1h0m0 1h0m9 1h0m-5 1h0m4 0h0m0 0h0m11 0h0m-9 1h0m5 1h0m-2 0h0m6 0h0m-2 2h0m-3 1h0m-8 1h0m9 0h0m-8 1h0m6 0h0m-7 1h0m0 0h0m5 0h0m6 0h0m-12 1h0m2 0h0m8 1h0m-11 2h0m7 1h0m1 2h0m7 1h0m-13 1h0m-5 2h0m7 0h0m-8 1h0m12 1h0m2 0h0m-8 2h0m10 2h0m-15 1h0m-1 1h0m15 1h0m-1 2h0m0 0h0m-6 1h0m7 1h0m3 0h0m-13 2h0m5 0h0m2 1h0m-6 2h0m5 0h0m3 0h0m-1 6h0m-3 1h0m-7 1h0m15 1h0m-5 2h0m-9 3h0m4 0h0m4 1h0m-4 10h0m-7 3h0m28-309h0m5 2h0m2 2h0m-16 8h0m9 1h0m8 2h0m-5 6h0m-4 1h0m11 2h0m-7 1h0m3 0h0m-12 2h0m6 0h0m5 0h0m-11 1h0m12 0h0m-14 4h0m8 0h0m-1 1h0m4 1h0m-10 2h0m0 1h0m14 0h0m-10 1h0m10 0h0m-1 0h0m-15 1h0m12 0h0m-8 1h0m15 0h0m-19 1h0m3 1h0m-3 1h0m3 0h0m11 193h0m-6 1h0m2 0h0m-3 1h0m-4 1h0m2 2h0m6 1h0m4 0h0m-4 2h0m-7 1h0m0 0h0m2 0h0m8 0h0m0 0h0m4 1h0m-17 1h0m13 0h0m-14 1h0m5 0h0m10 0h0m2 0h0m-5 3h0m6 1h0m-2 1h0m-9 1h0m6 0h0m-4 3h0m-5 2h0m5 1h0m3 2h0m1 0h0m0 0h0m1 2h0m-8 4h0m8 1h0m-6 2h0m-2 0h0m7 0h0m-7 4h0m7 1h0m-12 6h0m4 0h0m1 2h0m6 0h0m-6 1h0m0 0h0m5 2h0m0 1h0m-11 7h0m11 1h0m7 4h0m11-299h0m1 2h0m2 4h0m1 4h0m1 2h0m3 4h0m-11 2h0m0 0h0m2 1h0m-4 2h0m11 0h0m-6 2h0m6 1h0m-15 1h0m9 2h0m7 0h0m-14 2h0m2 0h0m5 0h0m0 2h0m7 0h0m3 0h0m-17 1h0m12 0h0m-1 1h0m2 0h0m0 0h0m-14 1h0m11 1h0m-3 2h0m-3 1h0m13 0h0m-19 2h0m3 1h0m4 191h0m4 1h0m7 0h0m-6 1h0m2 0h0m-4 1h0m1 0h0m1 1h0m-6 1h0m3 1h0m0 0h0m1 1h0m9 1h0m-9 1h0m-6 2h0m11 0h0m-9 1h0m-3 1h0m12 0h0m-3 1h0m-12 2h0m2 0h0m13 0h0m-2 0h0m3 0h0m-1 1h0m4 1h0m-13 0h0m1 0h0m4 1h0m7 0h0m1 0h0m-13 1h0m6 1h0m5 0h0m-9 2h0m-6 1h0m11 0h0m-7 1h0m1 1h0m7 1h0m4 1h0m1 1h0m-12 4h0m-2 0h0m10 2h0m-10 2h0m13 0h0m-15 1h0m7 1h0m0 3h0m3 5h0m-6 1h0m1 1h0m-6 5h0m10 3h0m7 1h0m-4 11h0m1 4h0m-14 6h0m27-323h0m1 3h0m-9 1h0m0 3h0m6 3h0m2 6h0m3 2h0m4 0h0m-13 1h0m7 0h0m-8 1h0m2 2h0m6 1h0m7 2h0m-12 2h0m7 1h0m0 0h0m-5 1h0m1 3h0m1 0h0m0 2h0m-3 1h0m-5 2h0m13 1h0m1 1h0m-7 1h0m-7 1h0m8 0h0m5 0h0m-13 2h0m2 0h0m9 0h0m-10 1h0m5 0h0m-3 1h0m-1 1h0m8 1h0m-8 1h0m8 1h0m-9 1h0m4 0h0m2 191h0m4 0h0m-3 0h0m9 0h0m-8 1h0m6 0h0m-2 0h0m5 0h0m-18 0h0m4 2h0m13 1h0m-1 1h0m-4 1h0m-3 2h0m6 1h0m-4 1h0m-1 1h0m-9 1h0m-1 2h0m6 2h0m2 0h0m-3 1h0m1 0h0m12 1h0m-3 1h0m-16 2h0m10 2h0m1 0h0m4 3h0m-2 2h0m-2 1h0m-9 0h0m4 2h0m0 1h0m7 0h0m2 0h0m4 2h0m-7 2h0m1 1h0m-3 1h0m-4 2h0m5 5h0m-9 4h0m3 0h0m11 5h0m-6 3h0m-4 3h0m2 1h0m16-299h0m6 1h0m-9 8h0m2 1h0m7 2h0m6 2h0m0 0h0m-1 2h0m-1 1h0m-6 1h0m8 1h0m-16 0h0m8 2h0m8 0h0m0 1h0m-3 1h0m-8 1h0m10 0h0m-15 2h0m4 0h0m5 3h0m1 0h0m7 0h0m-16 1h0m13 0h0m1 1h0m-1 0h0m-10 1h0m0 1h0m9 1h0m1 0h0m0 1h0m-14 1h0m12 0h0m-11 1h0m6 1h0m2 0h0m3 0h0m2 0h0m-11 2h0m0 0h0m-2 1h0m7 0h0m-6 1h0m5 0h0m1 0h0m1 1h0m2 0h0m-2 0h0m-7 3h0m-1 1h0m15 184h0m-9 1h0m4 0h0m-1 2h0m-1 0h0m6 0h0m-1 0h0m1 1h0m1 0h0m-15 1h0m15 1h0m-12 1h0m12 0h0m-3 0h0m-1 1h0m2 0h0m-13 1h0m13 0h0m-11 2h0m14 0h0m-1 1h0m-2 0h0m-6 2h0m-3 0h0m9 0h0m0 0h0m2 0h0m-10 1h0m8 0h0m0 0h0m-5 2h0m0 0h0m6 0h0m-11 1h0m2 0h0m-5 2h0m6 0h0m1 0h0m3 0h0m5 0h0m-12 3h0m4 0h0m4 1h0m-2 0h0m0 0h0m-10 1h0m3 0h0m2 0h0m3 1h0m3 0h0m4 0h0m-15 1h0m6 0h0m-1 1h0m2 3h0m6 0h0m0 0h0m-9 1h0m0 1h0m-2 0h0m10 0h0m-10 1h0m-2 1h0m11 0h0m-8 2h0m11 0h0m0 0h0m1 2h0m-6 2h0m-7 1h0m9 1h0m2 0h0m-7 1h0m4 0h0m-6 2h0m0 0h0m-1 1h0m12 1h0m-1 0h0m-1 2h0m3 0h0m-1 1h0m2 1h0m0 2h0m-5 17h0m-12 4h0m12 4h0m2 1h0" stroke="#ff0000" stroke-width="6.00"/></g>
</g>
<rect x="396.6" y="0.6" width="283.7" height="175.6" fill="none" stroke="#606060" stroke-width="1.3"/>
<path d="M410.6 176.2v-1.6M410.6 0.6v1.6M428.1 176.2v-1.6M428.1 0.6v1.6M445.5 176.2v-2.6M445.5 0.6v2.6M462.9 176.2v-1.6M462.9 0.6v1.6M480.4 176.2v-1.6M480.4 0.6v1.6M497.8 176.2v-1.6M497.8 0.6v1.6M515.2 176.2v-1.6M515.2 0.6v1.6M532.6 176.2v-2.6M532.6 0.6v2.6M550.1 176.2v-1.6M550.1 0.6v1.6M567.5 176.2v-1.6M567.5 0.6v1.6M584.9 176.2v-1.6M584.9 0.6v1.6M602.4 176.2v-1.6M602.4 0.6v1.6M619.8 176.2v-2.6M619.8 0.6v2.6M637.2 176.2v-1.6M637.2 0.6v1.6M654.7 176.2v-1.6M654.7 0.6v1.6M672.1 176.2v-1.6M672.1 0.6v1.6M396.6 169.9h2.6M680.3 169.9h-2.6M396.6 164.2h1.6M680.3 164.2h-1.6M396.6 158.5h1.6M680.3 158.5h-1.6M396.6 152.9h1.6M680.3 152.9h-1.6M396.6 147.2h1.6M680.3 147.2h-1.6M396.6 141.5h2.6M680.3 141.5h-2.6M396.6 135.8h1.6M680.3 135.8h-1.6M396.6 130.1h1.6M680.3 130.1h-1.6M396.6 124.5h1.6M680.3 124.5h-1.6M396.6 118.8h1.6M680.3 118.8h-1.6M396.6 113.1h2.6M680.3 113.1h-2.6M396.6 107.4h1.6M680.3 107.4h-1.6M396.6 101.7h1.6M680.3 101.7h-1.6M396.6 96.1h1.6M680.3 96.1h-1.6M396.6 90.4h1.6M680.3 90.4h-1.6M396.6 84.7h2.6M680.3 84.7h-2.6M396.6 79.0h1.6M680.3 79.0h-1.6M396.6 73.3h1.6M680.3 73.3h-1.6M396.6 67.7h1.6M680.3 67.7h-1.6M396.6 62.0h1.6M680.3 62.0h-1.6M396.6 56.3h2.6M680.3 56.3h-2.6M396.6 50.6h1.6M680.3 50.6h-1.6M396.6 44.9h1.6M680.3 44.9h-1.6M396.6 39.3h1.6M680.3 39.3h-1.6M396.6 33.6h1.6M680.3 33.6h-1.6M396.6 27.9h2.6M680.3 27.9h-2.6M396.6 22.2h1.6M680.3 22.2h-1.6M396.6 16.5h1.6M680.3 16.5h-1.6M396.6 10.9h1.6M680.3 10.9h-1.6M396.6 5.2h1.6M680.3 5.2h-1.6" stroke="#0a0a0a" stroke-width="1.1" fill="none"/>
<g font-family="Liberation Sans, sans-serif" font-size="11.7192" fill="#1a1a1a"><text x="445.5" y="188.4" text-anchor="middle">200</text><text x="532.6" y="188.4" text-anchor="middle">250</text><text x="619.8" y="188.4" text-anchor="middle">300</text><text x="395.0" y="174.1" text-anchor="end">2.95</text><text x="395.0" y="145.7" text-anchor="end">3.00</text><text x="395.0" y="117.3" text-anchor="end">3.05</text><text x="395.0" y="88.9" text-anchor="end">3.10</text><text x="395.0" y="60.5" text-anchor="end">3.15</text><text x="395.0" y="32.1" text-anchor="end">3.20</text></g>
<g id="pts-c">
<path d="M68.1 266L69.3 266L70.6 266L71.8 266L73.1 266L74.3 266L75.6 266L76.8 266L78.1 266L79.3 266L80.6 266L81.8 266L83.1 266L84.3 266L85.6 266L86.8 266L88.1 266L89.3 266L90.6 266L91.8 266L93.1 266L94.3 266L95.6 266L96.8 266L98.1 266L99.3 266L100.6 266L101.8 266L103.1 266L104.3 266L105.6 266L106.8 266L108.1 266L109.3 266L110.6 266L111.8 266L113.1 266L114.3 266L115.6 266L116.8 266L118.1 266L119.3 266L120.6 266L121.8 266L123.1 266L124.3 266L125.6 266L126.8 266L128.1 266L129.3 266L130.6 266L131.8 266L133.1 266L134.3 266L135.6 266L136.8 266L138.1 266L139.3 266.4L140.6 266.6L141.8 266.6L143.1 267.8L144.3 267.7L145.6 268.3L146.8 267.7L148.1 269L149.3 268.7L150.6 269.1L151.8 269L153.1 270L154.3 270.3L155.6 269.4L156.8 270.4L158.1 270.6L159.3 270.7L160.6 271.5L161.8 271.7L163.1 272L164.3 272.3L165.6 272.2L166.8 272L168.1 273.1L169.3 272.6L170.6 273.2L171.8 273.4L173.1 272.9L174.3 273L175.6 273.6L176.8 273.9L178.1 273.5L179.3 274.3L180.6 274.9L181.8 275L183.1 274.3L184.3 275.1L185.6 275.8L186.8 275.7L188.1 275.8L189.3 275.5L190.6 275.6L191.8 275.9L193.1 276.6L194.3 276L195.6 276.9L196.8 277.4L198.1 277.8L199.3 277.2L200.6 277.8L201.8 277.6L203.1 278.5L204.3 278L205.6 278L206.8 278.5L208.1 278.4L209.3 279L210.6 280L211.8 278.9L213.1 279.7L214.3 279.6L215.6 280.5L216.8 280.5L218.1 280.2L219.3 281.4L220.6 281.7L221.8 281.4L223.1 282L224.3 282.1L225.6 282.8L226.8 282.7L228.1 283L229.3 282.8L230.6 283.2L231.8 283.2L233.1 284.1L234.3 284.2L235.6 283.7L236.8 283.9L238.1 284.4L239.3 284.9L240.6 285.1L241.8 285L243.1 285.8L244.3 285.5L245.6 285.3L246.8 285.5L248.1 286.5L249.3 286L250.6 286.9L251.8 286.7L253.1 287.1L254.3 287.6L255.6 287.2L256.9 287.3L258.1 288.3L259.4 288.2L260.6 288.9L261.9 288.8L263.1 289.6L264.4 288.5L265.6 288.7L266.9 289L268.1 289.9L269.4 289.4L270.6 289.4L271.9 290.2L273.1 290.1L274.4 290.6L275.6 290.3L276.9 290.7L278.1 289.9L279.4 290.8L280.6 291.1L281.9 290.5L283.1 291.3L284.4 291.3L285.6 291L286.9 291.4L288.1 291.6L289.4 291.3L290.6 292.1L291.9 292.4L293.1 291.7L294.4 292.7L295.6 292L296.9 292.4L298.1 292.2L299.4 292.9L300.6 292.9L301.9 293.7L303.1 293.4L304.4 293.7L305.6 293.7L306.9 294.5L308.1 294.4L309.4 294.8L310.6 294.4L311.9 293.9L313.1 294.3L314.4 295.3L315.6 294.6L316.9 295.1L318.1 295.8L319.4 295.7L320.6 295.3L321.9 296.2L323.1 296.4L324.4 296.1L325.6 296.9L326.9 296.8L328.1 296.5L329.4 297L329.8 297.1L329.8 391.4L329.4 391.4L328.1 392.5L326.9 392L325.6 391.4L324.4 391.7L323.1 391.8L321.9 391.4L320.6 391.6L319.4 391.3L318.1 391.8L316.9 391.6L315.6 391.8L314.4 391.2L313.1 392.2L311.9 391.8L310.6 391.4L309.4 391L308.1 391.5L306.9 391.1L305.6 391.3L304.4 391.2L303.1 391.8L301.9 391.5L300.6 391L299.4 390.6L298.1 391.1L296.9 391.1L295.6 390.3L294.4 391L293.1 391.3L291.9 390.8L290.6 390.3L289.4 390.3L288.1 389.8L286.9 389.8L285.6 389.8L284.4 389.7L283.1 389.6L281.9 389.8L280.6 389.3L279.4 389.4L278.1 389.8L276.9 389L275.6 389.8L274.4 389.5L273.1 388.9L271.9 389L270.6 388.9L269.4 389.6L268.1 388.7L266.9 389.2L265.6 388.2L264.4 388.9L263.1 388.1L261.9 388.3L260.6 387.9L259.4 387.8L258.1 388.2L256.9 387.9L255.6 387.7L254.3 386.9L253.1 386.7L251.8 387.3L250.6 387L249.3 386.5L248.1 386.5L246.8 386.8L245.6 387L244.3 386.3L243.1 386L241.8 385.7L240.6 385.7L239.3 385.3L238.1 385.2L236.8 385.3L235.6 384.7L234.3 385.8L233.1 384.8L231.8 385.5L230.6 384.7L229.3 385.1L228.1 384.6L226.8 384.9L225.6 384.3L224.3 383.7L223.1 383.9L221.8 383.6L220.6 384.4L219.3 383.7L218.1 384.3L216.8 383.4L215.6 383.9L214.3 383.3L213.1 383.3L211.8 383.6L210.6 383.4L209.3 382.4L208.1 383.2L206.8 382.3L205.6 383L204.3 383L203.1 382.3L201.8 381.7L200.6 382.4L199.3 382.3L198.1 381.6L196.8 381.5L195.6 381.8L194.3 381L193.1 380.5L191.8 380.2L190.6 380.7L189.3 379.7L188.1 379.5L186.8 380L185.6 379.6L184.3 378.7L183.1 378.8L181.8 378.7L180.6 378.4L179.3 378.3L178.1 377.9L176.8 376.9L175.6 377.4L174.3 376.8L173.1 376.3L171.8 376.5L170.6 375.8L169.3 376.6L168.1 375.5L166.8 375.3L165.6 375L164.3 374.9L163.1 374.5L161.8 373.9L160.6 374.2L159.3 374.2L158.1 372.9L156.8 373.1L155.6 373L154.3 373L153.1 372.5L151.8 371.9L150.6 372.1L149.3 371.4L148.1 371.7L146.8 371L145.6 370.6L144.3 371.2L143.1 370.2L141.8 369.8L140.6 370L139.3 369.9L138.1 369.2L136.8 368.5L135.6 368.1L134.3 368.2L133.1 367.1L131.8 367L130.6 366.7L129.3 365.7L128.1 366.1L126.8 365.4L125.6 364.8L124.3 364.8L123.1 364.8L121.8 363.8L120.6 364.1L119.3 363.2L118.1 362.7L116.8 362.4L115.6 361.5L114.3 360.9L113.1 361.1L111.8 360.4L110.6 360.6L109.3 360.3L108.1 359.8L106.8 359.6L105.6 359.3L104.3 359.7L103.1 359.5L101.8 359.1L100.6 358.2L99.3 357.7L98.1 358.6L96.8 357.3L95.6 356.9L94.3 356.9L93.1 357.2L91.8 357L90.6 356.5L89.3 356.2L88.1 355.1L86.8 353.9L85.6 354.2L84.3 352.5L83.1 352.2L81.8 351.6L80.6 351.2L79.3 350.7L78.1 349.9L76.8 349L75.6 348.4L74.3 347.8L73.1 346.9L71.8 345.9L70.6 345.3L69.3 344.4L68.1 344.3Z" fill="#ff0000"/>
<g transform="scale(0.25)" fill="none" stroke-linecap="round"><path d="M295 1069h0m0 50h0m-1 24h0m19-41h0m3 283h0m-2 12h0m-1 1h0m14 1h0m10 3h0m5-307h0m9 314h0m-11 2h0m31-335h0m6 52h0m-6 55h0m26-83h0m-12 29h0m-5 297h0m8 5h0m10 0h0m17-335h0m-1 19h0m-13 104h0m13 39h0m1 137h0m-10 34h0m15-354h0m0 26h0m8 0h0m-8 293h0m13 36h0m16-281h0m-6 27h0m14 267h0m-3 1h0m4 3h0m13-374h0m-10 98h0m6 274h0m19-337h0m0 8h0m11 67h0m-9 254h0m26-296h0m7-68h0m13 1h0m-3 3h0m2 8h0m-12 22h0m7 1h0m11 86h0m-12 39h0m9 15h0m-1 198h0m3 16h0m5-395h0m14 3h0m-16 4h0m0 3h0m4 4h0m10 16h0m1 13h0m-2 59h0m-8 3h0m7 205h0m-8 89h0m28-391h0m-10 8h0m5 11h0m8 2h0m-2 5h0m-3 26h0m-10 340h0m15 13h0m10-405h0m12 14h0m-13 113h0m-5 17h0m3 6h0m15 244h0m-2 3h0m-14 5h0m33-380h0m-12 3h0m2 3h0m-1 5h0m9 4h0m4 10h0m-15 24h0m17 11h0m0 60h0m-6 51h0m4 175h0m-17 17h0m13 16h0m1 15h0m25-397h0m-5 27h0m-4 17h0m-4 10h0m0 5h0m2 31h0m-2 99h0m4 183h0m-6 17h0m31-386h0m-7 58h0m-1 49h0m1 286h0m2 0h0m9 9h0m19-402h0m-10 6h0m-2 1h0m-2 10h0m13 5h0m2 21h0m-12 1h0m-4 7h0m11 7h0m-12 8h0m1 24h0m8 0h0m0 12h0m4 116h0m-14 171h0m25-387h0m5 4h0m-11 14h0m7 9h0m4 5h0m-3 3h0m-6 1h0m4 0h0m-4 1h0m2 2h0m-2 24h0m6 23h0m-7 308h0m38-396h0m-17 1h0m-2 9h0m1 1h0m-1 11h0m19 6h0m-19 1h0m8 10h0m5 0h0m2 61h0m-5 82h0m5 206h0m18-377h0m2 10h0m-6 5h0m8 1h0m-16 8h0m17 3h0m-15 1h0m9 3h0m7 39h0m-13 69h0m21-132h0m8 5h0m4 1h0m-18 5h0m4 3h0m13 22h0m-2 43h0m16-61h0m0 6h0m-3 3h0m2 9h0m-9 52h0m15 24h0m-17 62h0m0 140h0m6 51h0m6 30h0m-6 10h0m0 0h0m1 1h0m2 0h0m11-410h0m11 0h0m1 13h0m-12 9h0m6 36h0m2 16h0m-2 6h0m4 20h0m-10 33h0m2 7h0m3 91h0m3 167h0m-7 11h0m13 4h0m-1 4h0m15-415h0m0 12h0m-4 2h0m-4 3h0m4 6h0m-1 10h0m15 1h0m-7 29h0m-7 190h0m7 133h0m2 19h0m9-398h0m0 5h0m9 0h0m8 3h0m-15 28h0m1 2h0m8 10h0m4 29h0m-12 4h0m4 1h0m0 16h0m4 22h0m-11 26h0m15 250h0m-16 13h0m19-413h0m10 7h0m8 8h0m-17 4h0m11 13h0m3 6h0m-4 16h0m4 2h0m-1 29h0m-4 8h0m7 0h0m-9 27h0m-8 16h0m6 238h0m22-357h0m-8 2h0m0 5h0m8 6h0m-4 3h0m3 2h0m-2 23h0m4 0h0m9 12h0m-3 130h0m-14 22h0m5 187h0m-2 2h0m3 1h0m-4 1h0m-2 1h0m13 0h0m15-371h0m0 27h0m4 58h0m-1 280h0m-3 9h0m23-401h0m3 10h0m-3 14h0m2 12h0m-3 10h0m-1 5h0m-3 12h0m3 7h0m-7 7h0m-2 44h0m14 27h0m-12 252h0m8 3h0m3 2h0m18-403h0m-5 12h0m7 9h0m-9 4h0m2 0h0m4 49h0m7 8h0m-16 14h0m3 24h0m0 1h0m7 68h0m0 187h0m22-373h0m-12 2h0m15 29h0m-6 5h0m-1 9h0m9 0h0m0 316h0m-14 38h0m10 3h0m0 4h0m12-402h0m-6 7h0m0 3h0m13 7h0m-3 3h0m4 10h0m-7 1h0m7 56h0m1 54h0m-3 17h0m10-149h0m13 1h0m-5 2h0m-5 2h0m13 2h0m-10 5h0m-3 23h0m-3 57h0m5 25h0m-4 25h0m7 38h0m0 147h0m-10 36h0m8 30h0m28-391h0m-11 9h0m10 0h0m-7 2h0m-5 10h0m12 2h0m-5 7h0m-3 3h0m11 2h0m-18 2h0m-1 5h0m9 13h0m-9 156h0m0 175h0m23-377h0m12 4h0m2 21h0m-4 75h0m-6 276h0m-5 2h0m9 0h0m-10 6h0m3 2h0m30-376h0m-8 4h0m-2 15h0m-2 22h0m12 8h0m-5 11h0m-4 16h0m7 223h0m-10 70h0m17 3h0m-2 5h0m18-388h0m-9 18h0m9 5h0m3 49h0m-6 9h0m3 64h0m3 60h0m-14 72h0m13 108h0m-3 4h0m-7 6h0m22-393h0m-4 16h0m11 1h0m-7 12h0m-7 7h0m13 5h0m-15 2h0m19 0h0m-5 7h0m2 10h0m-14 20h0m1 4h0m14 38h0m4-120h0m0 4h0m9 14h0m6 22h0m-14 1h0m2 2h0m-3 7h0m8 17h0m8 7h0m0 43h0m-11 82h0m1 176h0m-1 8h0m0 8h0m1 4h0m26-389h0m4 3h0m-16 3h0m12 14h0m-10 5h0m16 29h0m-9 4h0m6 28h0m-13 33h0m1 47h0m-2 197h0m13 14h0m-15 4h0m5 5h0m2 1h0m10 0h0m4-368h0m16 5h0m-17 2h0m17 1h0m-15 13h0m10 5h0m-12 45h0m18 29h0m-2 273h0m16-390h0m-5 3h0m-1 7h0m0 13h0m-6 1h0m3 15h0m-3 2h0m2 31h0m1 36h0m7 21h0m-3 247h0m-6 12h0m12 0h0m8-392h0m16 5h0m-12 26h0m4 30h0m1 232h0m8 78h0m-11 6h0m10 8h0m20-381h0m-14 4h0m9 4h0m-8 14h0m-3 54h0m0 1h0m15 8h0m-8 305h0m24-385h0m6 7h0m0 9h0m-9 6h0m6 5h0m-3 4h0m-4 86h0m5 1h0m-6 13h0m-6 59h0m8 15h0m6 121h0m-6 39h0m-7 23h0m25-383h0m9 3h0m1 5h0m-17 3h0m6 37h0m12 39h0m-14 15h0m1 152h0m-5 108h0m14 3h0m3 5h0m-9 9h0m20-375h0m11 87h0m-11 25h0m-8 238h0m10 4h0m23-341h0m-9 16h0m7 1h0m-10 70h0m17 20h0m-6 31h0m1 31h0m-11 171h0m10 9h0m-7 12h0m16-367h0m-1 13h0m13 3h0m-3 1h0m-10 45h0m0 30h0m11 0h0m-6 69h0m4 7h0m1 170h0" stroke="#fff" stroke-width="5.00"/><path d="M276 1373h0m2 0h0m-2 1h0m2 0h0m-3 1h0m3 0h0m-1 3h0m-2 3h0m4 2h0m-1 2h0m1 2h0m-4 6h0m2 1h0m1 6h0m-2 1h0m-1 1h0m1 2h0m2 3h0m-3 4h0m0 3h0m4 12h0m4-48h0m-2 1h0m0 1h0m-1 3h0m11 3h0m2 1h0m-7 5h0m-4 0h0m14 1h0m-8 4h0m-4 1h0m13 1h0m-6 2h0m7 0h0m-7 1h0m2 3h0m3 5h0m1 1h0m-7 2h0m8 3h0m-12 4h0m8 7h0m5 2h0m5-39h0m0 0h0m-2 3h0m-1 1h0m4 0h0m4 2h0m-3 0h0m10 0h0m-4 1h0m-6 1h0m5 3h0m4 0h0m0 0h0m-8 1h0m0 1h0m5 0h0m-2 1h0m-1 0h0m-9 3h0m9 1h0m6 0h0m-12 1h0m15 0h0m-8 1h0m9 1h0m-6 1h0m-8 0h0m-5 1h0m6 3h0m5 1h0m6 0h0m-9 1h0m8 1h0m1 1h0m-13 4h0m11 0h0m-13 7h0m11 7h0m-3 1h0m-2 6h0m10 1h0m8-45h0m-1 0h0m-3 4h0m7 0h0m2 0h0m-1 1h0m1 1h0m-2 2h0m3 1h0m2 0h0m-12 2h0m13 0h0m-6 1h0m3 0h0m-11 1h0m1 0h0m7 0h0m-4 1h0m4 0h0m8 0h0m-10 1h0m1 0h0m10 2h0m-10 1h0m6 0h0m-13 3h0m4 1h0m10 1h0m-14 1h0m6 2h0m1 2h0m9 0h0m-5 3h0m3 0h0m-13 1h0m8 1h0m3 1h0m-5 4h0m9 2h0m-1 1h0m0 1h0m0 1h0m-16 1h0m18 11h0m3-45h0m-1 1h0m15 4h0m-10 1h0m7 1h0m-4 1h0m-6 1h0m-2 1h0m2 2h0m1 0h0m1 0h0m3 1h0m0 0h0m5 3h0m0 1h0m-11 3h0m15 0h0m-2 2h0m2 0h0m-12 1h0m6 0h0m9 3h0m-18 2h0m0 1h0m9 3h0m2 0h0m6 0h0m-7 2h0m-3 5h0m8 1h0m-3 2h0m-6 6h0m-6 1h0m8 6h0m10 15h0m1-60h0m1 2h0m1 1h0m0 1h0m6 0h0m11 1h0m-15 1h0m14 0h0m-17 2h0m2 0h0m-2 0h0m0 0h0m11 0h0m1 0h0m6 0h0m-17 1h0m3 0h0m3 0h0m8 0h0m-16 1h0m10 0h0m2 1h0m-9 1h0m3 2h0m-1 1h0m10 2h0m-14 4h0m1 1h0m6 2h0m1 6h0m5 1h0m-6 2h0m2 5h0m4 4h0m-5 13h0m-5 0h0m-1 4h0m23-54h0m1 3h0m9 0h0m-3 1h0m-5 1h0m0 0h0m-2 0h0m1 0h0m11 3h0m-10 1h0m-8 1h0m8 1h0m-8 1h0m8 0h0m4 1h0m-2 1h0m-6 7h0m10 0h0m4 1h0m-5 1h0m-7 1h0m3 0h0m-7 3h0m8 2h0m-2 2h0m-3 0h0m8 3h0m-13 1h0m4 2h0m1 6h0m11 0h0m7-39h0m-2 1h0m1 4h0m7 0h0m-9 1h0m5 0h0m9 0h0m-9 1h0m12 0h0m-4 3h0m-3 1h0m-5 1h0m3 0h0m5 1h0m-12 2h0m17 2h0m-14 2h0m12 0h0m-12 4h0m-3 1h0m13 0h0m-6 1h0m10 2h0m-7 2h0m1 1h0m-4 1h0m0 1h0m3 0h0m0 0h0m-2 2h0m6 1h0m-5 2h0m8 3h0m1 7h0m-17 3h0m1 0h0m15 15h0m9-63h0m-7 1h0m7 3h0m-2 0h0m1 3h0m7 0h0m-12 1h0m13 0h0m-4 0h0m8 0h0m-18 1h0m2 1h0m12 0h0m-5 1h0m3 2h0m-4 1h0m-5 1h0m-1 0h0m9 2h0m-9 2h0m11 0h0m6 1h0m-11 0h0m8 1h0m-9 2h0m10 1h0m2 1h0m-8 1h0m2 0h0m3 0h0m-15 2h0m18 0h0m-16 2h0m4 1h0m10 2h0m-9 1h0m1 1h0m9 0h0m-9 3h0m7 2h0m-13 0h0m13 2h0m-7 1h0m0 2h0m6 10h0m0 3h0m5-51h0m3 0h0m0 1h0m1 0h0m14 0h0m-16 1h0m16 0h0m-1 0h0m-15 1h0m17 0h0m-18 1h0m12 0h0m3 0h0m-7 1h0m-4 0h0m2 0h0m-7 1h0m5 2h0m-1 1h0m0 0h0m11 0h0m-7 2h0m1 0h0m6 0h0m-11 1h0m-2 1h0m3 1h0m4 0h0m4 1h0m-4 1h0m6 0h0m-8 2h0m3 0h0m6 0h0m-15 3h0m12 1h0m-5 2h0m6 0h0m5 1h0m-13 1h0m-5 1h0m12 0h0m-6 2h0m10 0h0m1 1h0m-17 3h0m14 1h0m2 1h0m-7 2h0m-8 3h0m13 0h0m1 0h0m-13 1h0m-2 4h0m4 8h0m10 9h0m-11 12h0m27-69h0m-6 1h0m-1 1h0m0 1h0m2 0h0m13 1h0m-13 2h0m1 0h0m8 0h0m2 0h0m-9 3h0m11 0h0m-6 2h0m3 1h0m-5 0h0m-7 1h0m14 3h0m0 1h0m-10 1h0m0 1h0m-1 1h0m0 2h0m2 0h0m10 2h0m-1 0h0m-14 1h0m6 0h0m1 3h0m5 1h0m-3 10h0m6 2h0m-14 2h0m10 2h0m-10 3h0m3 19h0m-7 1h0m19-62h0m4 0h0m-1 1h0m1 1h0m1 0h0m5 0h0m-8 1h0m1 2h0m10 0h0m-10 1h0m4 0h0m-3 1h0m13 0h0m-13 2h0m9 0h0m-10 1h0m1 1h0m-2 4h0m12 0h0m5 0h0m-15 2h0m10 0h0m5 1h0m-9 0h0m7 0h0m-2 1h0m-2 3h0m-5 2h0m6 1h0m-12 4h0m14 17h0m-8 1h0m11 1h0m0 14h0m9-56h0m-2 4h0m2 2h0m8 0h0m-5 1h0m1 0h0m4 0h0m2 0h0m-17 2h0m7 1h0m-3 0h0m3 0h0m5 1h0m-11 1h0m14 0h0m-4 1h0m5 0h0m-6 3h0m2 2h0m3 1h0m-5 2h0m2 0h0m-10 2h0m5 0h0m4 0h0m7 0h0m-1 1h0m0 1h0m-7 2h0m8 1h0m0 1h0m-12 15h0m-1 0h0m0 22h0m15-58h0m12 0h0m-1 1h0m2 0h0m-1 1h0m1 1h0m-11 1h0m0 0h0m13 0h0m-12 2h0m15 1h0m-9 1h0m4 2h0m3 3h0m-17 1h0m0 2h0m6 0h0m0 1h0m12 0h0m1 4h0m0 3h0m-3 3h0m-5 3h0m-7 3h0m-3 2h0m3 3h0m0 2h0m5 1h0m9 4h0m-5 2h0m4 3h0m-3 8h0m-13 8h0m32-463h0m-12 403h0m5 0h0m1 2h0m5 1h0m5 1h0m-10 1h0m11 0h0m-15 1h0m9 0h0m-8 2h0m5 0h0m1 2h0m5 0h0m-15 2h0m17 1h0m-14 1h0m8 0h0m4 0h0m-13 2h0m16 1h0m-1 1h0m-16 1h0m0 2h0m18 0h0m-14 1h0m4 0h0m10 0h0m-12 1h0m3 0h0m3 2h0m-3 1h0m-5 2h0m9 3h0m-6 1h0m-3 1h0m-1 2h0m6 1h0m-6 3h0m9 6h0m3 2h0m5-450h0m9 0h0m5 0h0m-10 1h0m14 0h0m-19 1h0m16 0h0m-4 0h0m-1 1h0m-11 1h0m12 0h0m5 1h0m-2 2h0m-13 402h0m7 2h0m2 0h0m-6 2h0m4 1h0m7 0h0m-3 0h0m2 2h0m-6 2h0m8 0h0m-13 1h0m2 1h0m12 0h0m-4 1h0m0 2h0m-1 2h0m-10 2h0m-3 4h0m8 0h0m-7 2h0m-1 1h0m11 0h0m8 2h0m-3 1h0m-10 1h0m-5 2h0m9 2h0m-6 7h0m10 0h0m1 1h0m-3 2h0m-3 1h0m2 1h0m2 5h0m-10 1h0m11 15h0m22-475h0m-6 2h0m5 0h0m-1 0h0m-7 1h0m-2 1h0m1 0h0m-1 1h0m-5 0h0m7 1h0m12 1h0m-17 1h0m9 0h0m2 0h0m-10 1h0m11 1h0m-12 403h0m10 1h0m0 0h0m-3 0h0m-5 1h0m4 2h0m0 0h0m2 0h0m-4 1h0m4 0h0m3 0h0m6 0h0m-15 4h0m3 0h0m6 0h0m-7 1h0m4 0h0m-1 2h0m-2 0h0m3 0h0m5 1h0m-5 1h0m-6 2h0m9 0h0m1 1h0m-10 2h0m0 0h0m-3 0h0m4 0h0m7 0h0m-7 1h0m-4 1h0m16 0h0m2 0h0m-5 2h0m-4 3h0m2 0h0m5 1h0m0 0h0m-1 4h0m-3 8h0m4 2h0m-3 3h0m2 6h0m-16 9h0m36-472h0m2 0h0m-10 2h0m-6 1h0m3 0h0m-2 1h0m2 0h0m-5 2h0m9 0h0m1 0h0m-7 2h0m8 2h0m-4 1h0m4 1h0m5 2h0m-3 0h0m-4 1h0m2 0h0m3 0h0m-2 1h0m7 1h0m-7 401h0m-2 1h0m4 1h0m-14 2h0m12 0h0m-1 0h0m2 0h0m6 0h0m0 0h0m-19 1h0m7 1h0m10 0h0m0 1h0m-8 1h0m8 0h0m0 1h0m-10 1h0m-7 2h0m2 1h0m14 0h0m-12 1h0m8 1h0m2 2h0m-10 1h0m4 1h0m2 1h0m6 0h0m-8 1h0m7 1h0m-8 3h0m12 0h0m-1 1h0m-3 1h0m-6 1h0m-4 1h0m-3 1h0m15 0h0m-2 2h0m-3 5h0m4 1h0m-16 1h0m13 3h0m4 0h0m0 30h0m4-490h0m4 3h0m6 0h0m-9 2h0m5 0h0m-7 2h0m17 0h0m2 0h0m-12 1h0m0 0h0m-1 1h0m-2 0h0m0 1h0m4 0h0m7 3h0m3 1h0m-7 1h0m5 0h0m-5 3h0m1 1h0m3 0h0m2 1h0m-6 401h0m-11 2h0m3 1h0m5 0h0m-2 1h0m-4 1h0m8 0h0m7 0h0m-11 2h0m9 0h0m-12 1h0m7 1h0m9 0h0m-4 3h0m4 0h0m-16 1h0m4 1h0m4 2h0m-3 0h0m11 0h0m-12 1h0m-7 1h0m5 0h0m12 0h0m-16 1h0m13 0h0m-11 1h0m6 3h0m-4 1h0m-4 2h0m10 2h0m-1 0h0m-1 2h0m7 0h0m-2 1h0m-13 5h0m8 1h0m-8 2h0m10 6h0m7 1h0m-11 2h0m-2 4h0m10 9h0m2 1h0m-14 7h0m22-490h0m7 0h0m1 0h0m6 0h0m-13 3h0m4 0h0m5 0h0m-13 1h0m6 1h0m7 0h0m-14 2h0m18 0h0m-12 2h0m8 0h0m0 0h0m-7 1h0m9 0h0m1 0h0m-16 1h0m-2 2h0m16 0h0m-8 1h0m11 0h0m-16 2h0m13 1h0m-12 1h0m10 0h0m-9 1h0m-5 1h0m19 1h0m-2 0h0m-2 2h0m-5 1h0m-1 401h0m0 4h0m10 1h0m-11 2h0m-4 0h0m9 2h0m5 0h0m-10 1h0m3 1h0m-11 2h0m4 0h0m-4 6h0m2 0h0m7 1h0m5 0h0m-11 1h0m5 2h0m2 2h0m-9 1h0m5 2h0m7 0h0m6 14h0m-12 3h0m10 0h0m1 3h0m0 7h0m-15 12h0m8 3h0m8 2h0m2-497h0m17 0h0m-7 1h0m1 0h0m-9 1h0m1 1h0m3 2h0m-2 0h0m-4 0h0m4 0h0m12 0h0m-13 1h0m2 2h0m7 2h0m-7 1h0m-6 1h0m6 2h0m10 2h0m-16 2h0m2 1h0m3 1h0m7 1h0m4 2h0m-1 0h0m3 0h0m-7 1h0m7 0h0m-2 3h0m-2 0h0m0 2h0m-10 401h0m-4 3h0m7 0h0m-7 2h0m17 0h0m-13 1h0m4 0h0m-4 1h0m0 0h0m5 0h0m-2 1h0m11 0h0m-9 1h0m-2 1h0m1 1h0m4 1h0m3 0h0m-2 4h0m3 1h0m-12 1h0m7 0h0m-3 1h0m-5 0h0m0 1h0m8 0h0m8 1h0m-13 1h0m-5 1h0m1 0h0m4 0h0m-5 2h0m11 1h0m6 1h0m-10 0h0m7 1h0m4 0h0m-9 2h0m-10 3h0m8 1h0m10 0h0m0 1h0m-15 13h0m10 1h0m-7 3h0m7 10h0m17-491h0m-10 1h0m5 0h0m3 0h0m9 0h0m-7 3h0m-7 1h0m16 1h0m-12 1h0m10 0h0m-16 2h0m8 0h0m-7 1h0m9 0h0m-7 1h0m11 0h0m2 0h0m2 2h0m-1 2h0m-12 1h0m12 1h0m-16 1h0m-1 0h0m17 1h0m-5 1h0m0 1h0m-7 3h0m10 1h0m-8 1h0m0 1h0m1 0h0m-9 406h0m2 0h0m1 1h0m0 1h0m-2 1h0m8 1h0m4 0h0m-9 1h0m3 2h0m8 3h0m2 0h0m-10 4h0m0 1h0m5 0h0m-9 0h0m9 1h0m-6 2h0m7 0h0m-8 1h0m12 1h0m-11 1h0m7 1h0m5 0h0m-3 1h0m-3 4h0m-11 2h0m18 2h0m-15 3h0m10 8h0m-2 1h0m-2 10h0m-10 21h0m36-508h0m3 0h0m-15 2h0m9 0h0m-8 1h0m12 0h0m-15 1h0m5 1h0m0 1h0m4 4h0m8 2h0m-9 2h0m4 0h0m4 0h0m-4 1h0m-12 1h0m-2 1h0m2 1h0m4 0h0m1 1h0m-1 0h0m5 0h0m2 0h0m-11 1h0m3 0h0m3 0h0m-8 1h0m8 0h0m10 1h0m-14 2h0m11 0h0m-10 1h0m14 2h0m-18 1h0m13 0h0m3 0h0m-2 1h0m-12 1h0m2 0h0m1 1h0m4 0h0m6 0h0m3 0h0m-18 406h0m6 0h0m-4 1h0m9 0h0m-7 1h0m2 1h0m6 1h0m-5 1h0m1 0h0m9 0h0m-18 1h0m11 0h0m3 1h0m-12 1h0m15 0h0m0 1h0m-16 1h0m1 0h0m12 0h0m-14 1h0m10 0h0m-1 0h0m-9 2h0m13 0h0m-5 1h0m4 1h0m5 1h0m-6 3h0m3 1h0m-1 0h0m-4 6h0m-9 1h0m10 0h0m3 1h0m-4 1h0m-3 5h0m12 2h0m-17 0h0m5 1h0m10 0h0m2 0h0m-12 5h0m1 5h0m11 7h0m-7 4h0m-7 1h0m25-494h0m5 5h0m-11 1h0m12 0h0m-1 0h0m-4 1h0m-3 1h0m4 0h0m-4 1h0m-2 1h0m6 0h0m4 0h0m-8 3h0m-7 1h0m3 3h0m-1 0h0m0 1h0m15 0h0m-17 2h0m0 1h0m13 0h0m2 2h0m-13 1h0m6 0h0m-2 1h0m6 0h0m-5 1h0m0 0h0m-5 1h0m2 0h0m15 0h0m-18 1h0m9 1h0m-5 1h0m6 0h0m8 1h0m-4 1h0m-9 1h0m6 0h0m-2 0h0m0 0h0m-3 406h0m1 0h0m-5 1h0m5 0h0m4 0h0m-2 1h0m1 3h0m-7 1h0m10 1h0m-5 1h0m5 1h0m1 1h0m2 3h0m-8 2h0m-1 1h0m2 1h0m8 0h0m-16 1h0m12 0h0m2 2h0m-10 2h0m5 0h0m0 7h0m6 0h0m-15 2h0m12 0h0m-8 1h0m9 0h0m1 0h0m-15 0h0m3 0h0m-1 2h0m0 4h0m10 0h0m6 1h0m-1 4h0m-13 2h0m-4 4h0m13 2h0m-10 22h0m30-514h0m-5 1h0m2 0h0m1 0h0m0 1h0m6 1h0m-10 3h0m11 1h0m-9 2h0m7 0h0m-12 0h0m-4 1h0m12 0h0m-3 1h0m-4 1h0m1 0h0m2 1h0m-2 0h0m3 0h0m-8 3h0m8 0h0m6 0h0m3 0h0m-17 1h0m13 0h0m-3 0h0m7 0h0m-10 2h0m-9 2h0m7 1h0m12 0h0m-11 1h0m-6 2h0m-1 2h0m1 0h0m10 0h0m-12 3h0m6 0h0m12 0h0m-13 1h0m-4 1h0m13 0h0m-12 1h0m4 1h0m6 0h0m6 0h0m-18 2h0m7 0h0m-3 1h0m7 3h0m2 0h0m6 0h0m-3 1h0m-11 408h0m7 0h0m-9 2h0m0 0h0m3 0h0m10 1h0m2 0h0m-11 2h0m0 0h0m-2 0h0m5 0h0m-8 1h0m7 0h0m5 0h0m-14 1h0m10 2h0m8 0h0m-2 4h0m2 2h0m0 0h0m-10 1h0m-2 1h0m9 2h0m-4 1h0m1 3h0m6 0h0m-14 3h0m1 0h0m3 0h0m-5 3h0m13 0h0m-8 3h0m4 2h0m-9 3h0m2 1h0m7 1h0m10-487h0m7 1h0m8 4h0m-15 1h0m15 5h0m-2 1h0m0 1h0m1 0h0m-5 1h0m3 0h0m-13 1h0m-1 2h0m0 0h0m4 1h0m7 2h0m-11 2h0m1 0h0m4 1h0m7 0h0m-10 1h0m1 0h0m8 0h0m-6 1h0m6 1h0m4 0h0m-1 1h0m-8 1h0m3 0h0m8 0h0m-9 1h0m-3 0h0m14 0h0m-17 1h0m6 0h0m1 2h0m2 0h0m-10 1h0m17 0h0m-9 1h0m10 2h0m-5 2h0m-6 1h0m-1 0h0m9 4h0m-12 406h0m2 1h0m3 0h0m0 0h0m0 1h0m-6 2h0m5 1h0m-8 2h0m15 0h0m-15 0h0m7 0h0m6 1h0m-10 1h0m-1 2h0m13 2h0m3 0h0m-16 1h0m16 1h0m-4 0h0m4 4h0m-7 1h0m0 0h0m-1 1h0m6 1h0m1 0h0m-17 1h0m13 0h0m4 0h0m-6 1h0m-11 4h0m16 3h0m-3 1h0m-8 2h0m1 2h0m6 0h0m3 0h0m1 7h0m-11 3h0m7 3h0m1 2h0m-7 2h0m5 22h0m25-525h0m-5 3h0m6 0h0m0 0h0m-10 4h0m5 1h0m-1 0h0m-11 3h0m6 1h0m10 0h0m-16 1h0m15 0h0m-13 1h0m8 1h0m-7 4h0m3 1h0m13 3h0m-18 1h0m15 0h0m0 0h0m-2 0h0m5 0h0m-17 3h0m13 1h0m-1 0h0m-9 1h0m11 0h0m-4 1h0m-9 1h0m12 2h0m-1 0h0m4 1h0m0 0h0m-6 1h0m2 0h0m-9 1h0m1 0h0m1 0h0m7 0h0m-8 1h0m7 1h0m-5 1h0m-2 0h0m2 1h0m-1 1h0m-2 2h0m8 2h0m5 4h0m-17 405h0m2 2h0m6 1h0m-9 2h0m12 0h0m0 1h0m6 0h0m-11 2h0m9 1h0m-16 2h0m0 0h0m5 0h0m0 1h0m8 0h0m-7 1h0m0 0h0m-5 2h0m6 0h0m11 0h0m-6 1h0m-9 2h0m-2 2h0m6 2h0m-1 1h0m3 1h0m8 0h0m-6 4h0m0 4h0m-1 0h0m7 0h0m-13 9h0m11 2h0m4 0h0m-17 1h0m1 3h0m11 1h0m-5 3h0m17-503h0m-4 3h0m-2 1h0m11 0h0m-5 1h0m12 1h0m-16 1h0m0 0h0m3 1h0m9 0h0m-13 2h0m4 0h0m2 0h0m4 0h0m-11 3h0m16 0h0m-13 1h0m13 1h0m1 0h0m-2 1h0m-6 1h0m3 0h0m5 0h0m0 0h0m-12 2h0m-3 1h0m17 0h0m-10 1h0m1 0h0m0 0h0m2 0h0m-7 1h0m5 0h0m-4 1h0m1 0h0m8 1h0m-11 1h0m14 0h0m-14 3h0m-2 1h0m2 0h0m8 2h0m-11 0h0m13 0h0m4 0h0m-14 1h0m-1 2h0m7 1h0m-9 1h0m11 0h0m-2 1h0m4 0h0m-6 1h0m1 0h0m1 1h0m9 0h0m0 0h0m-17 1h0m7 0h0m7 1h0m-15 1h0m4 0h0m10 0h0m-10 2h0m12 0h0m-17 1h0m3 0h0m1 0h0m2 0h0m-3 2h0m9 0h0m0 408h0m-11 1h0m2 1h0m3 1h0m10 0h0m1 0h0m-17 2h0m18 0h0m-12 2h0m8 1h0m4 1h0m-18 1h0m9 1h0m4 2h0m3 0h0m-14 1h0m4 0h0m-2 1h0m6 0h0m3 5h0m-8 0h0m7 3h0m2 0h0m-7 1h0m0 5h0m8 10h0m-12 1h0m1 2h0m13 3h0m-13 10h0m5 3h0m5 9h0m24-523h0m-3 1h0m-2 2h0m0 1h0m-4 0h0m9 1h0m-14 1h0m3 0h0m0 2h0m5 0h0m4 2h0m-12 2h0m13 0h0m-11 4h0m5 3h0m0 3h0m-5 1h0m0 0h0m3 0h0m7 0h0m-15 1h0m14 0h0m-7 2h0m4 2h0m2 0h0m-6 3h0m5 0h0m3 1h0m-4 1h0m6 1h0m-1 1h0m-3 1h0m-14 2h0m0 0h0m18 0h0m-13 1h0m14 0h0m-7 2h0m-11 2h0m6 1h0m-5 1h0m10 0h0m5 1h0m2 1h0m-3 0h0m-14 2h0m13 0h0m1 0h0m-12 1h0m10 0h0m2 0h0m-14 1h0m8 0h0m-8 1h0m0 0h0m5 405h0m1 0h0m0 3h0m-5 1h0m2 0h0m1 0h0m6 0h0m-2 0h0m2 1h0m5 1h0m-6 1h0m0 1h0m2 0h0m-5 1h0m5 0h0m-6 1h0m6 1h0m6 1h0m-10 1h0m-6 1h0m-2 0h0m11 0h0m2 0h0m-2 1h0m3 0h0m-14 3h0m14 0h0m-14 1h0m6 1h0m1 1h0m1 0h0m-9 1h0m14 0h0m3 1h0m-7 2h0m-1 2h0m-8 2h0m-1 2h0m1 0h0m6 0h0m10 0h0m-16 4h0m12 7h0m4 4h0m-9 4h0m-2 0h0m11 6h0m-13 11h0m15 5h0m-1 4h0m9-529h0m5 1h0m-4 5h0m7 0h0m-12 1h0m3 1h0m11 3h0m-12 1h0m3 1h0m1 3h0m-8 0h0m6 3h0m1 2h0m7 0h0m-11 2h0m11 0h0m-11 1h0m6 2h0m8 1h0m-3 1h0m2 0h0m-5 1h0m-12 1h0m13 1h0m-12 1h0m14 1h0m4 1h0m-19 1h0m17 2h0m-3 2h0m4 4h0m-17 1h0m6 1h0m4 0h0m-9 1h0m15 0h0m-4 2h0m3 1h0m-8 1h0m-5 2h0m12 0h0m-2 0h0m-12 406h0m14 0h0m3 0h0m-14 3h0m13 0h0m-11 3h0m-6 1h0m18 0h0m1 1h0m-18 1h0m16 0h0m2 0h0m-4 2h0m1 0h0m2 0h0m-2 2h0m-3 2h0m-1 1h0m1 0h0m2 1h0m3 2h0m1 0h0m-14 2h0m1 1h0m2 1h0m-4 2h0m8 0h0m-10 1h0m2 1h0m5 0h0m-2 1h0m10 3h0m-12 1h0m6 8h0m1 2h0m5 4h0m-13 1h0m3 0h0m10 3h0m-14 3h0m21-516h0m4 0h0m-8 3h0m1 5h0m15 0h0m-13 1h0m6 3h0m9 0h0m-12 1h0m11 2h0m-2 1h0m2 1h0m-15 0h0m10 1h0m-3 1h0m4 2h0m-6 1h0m-7 4h0m18 1h0m-2 1h0m-14 1h0m1 1h0m2 0h0m0 0h0m1 1h0m0 1h0m-1 1h0m12 0h0m-16 2h0m18 2h0m-14 2h0m12 0h0m-8 1h0m10 0h0m-3 0h0m-11 1h0m6 0h0m7 0h0m-14 0h0m1 1h0m6 1h0m-2 0h0m4 1h0m-4 2h0m4 0h0m4 1h0m2 2h0m-13 1h0m6 0h0m6 0h0m-7 3h0m3 0h0m-14 1h0m2 0h0m1 0h0m10 0h0m-13 1h0m15 3h0m-9 1h0m6 0h0m-3 1h0m5 1h0m-11 401h0m6 1h0m-5 1h0m14 2h0m-15 1h0m3 0h0m3 1h0m5 1h0m1 0h0m-9 0h0m-2 2h0m13 0h0m-6 1h0m1 0h0m4 0h0m0 1h0m0 1h0m-4 1h0m3 0h0m3 0h0m-10 6h0m10 1h0m-13 1h0m-5 2h0m19 2h0m-3 2h0m-16 1h0m2 1h0m7 1h0m-5 2h0m4 1h0m7 0h0m1 4h0m-15 6h0m10 4h0m-2 4h0m-5 2h0m-3 8h0m8 1h0m-8 10h0m31-534h0m-9 8h0m4 4h0m1 0h0m8 0h0m3 1h0m0 0h0m-15 1h0m10 4h0m3 3h0m-2 0h0m-6 2h0m-9 1h0m0 4h0m4 1h0m-3 2h0m14 1h0m-12 2h0m5 2h0m10 0h0m-16 2h0m11 0h0m-9 1h0m2 0h0m9 0h0m-8 1h0m12 2h0m-14 2h0m9 0h0m4 0h0m-4 1h0m-1 0h0m-9 1h0m-3 2h0m3 0h0m15 0h0m-10 1h0m-3 1h0m9 0h0m4 1h0m-17 1h0m13 1h0m-8 1h0m-3 1h0m-3 0h0m4 0h0m2 0h0m4 0h0m-4 1h0m12 0h0m-9 1h0m-3 0h0m6 1h0m3 2h0m0 2h0m-1 1h0m2 0h0m1 1h0m-13 1h0m6 0h0m-8 400h0m7 1h0m8 3h0m-18 0h0m11 1h0m4 0h0m3 0h0m-8 1h0m2 0h0m-8 1h0m3 0h0m5 0h0m3 0h0m-8 2h0m4 1h0m4 1h0m-8 1h0m-3 1h0m0 1h0m3 1h0m4 0h0m-1 1h0m0 0h0m7 2h0m-10 1h0m0 2h0m6 2h0m-9 1h0m10 3h0m3 0h0m-5 1h0m1 0h0m-5 1h0m10 2h0m-3 2h0m-1 1h0m1 2h0m-6 6h0m-5 2h0m6 19h0m-1 3h0m0 9h0m22-540h0m-1 1h0m-5 5h0m6 0h0m4 4h0m1 0h0m-8 3h0m9 4h0m-6 1h0m-6 2h0m9 2h0m3 1h0m-1 0h0m-14 3h0m3 0h0m1 2h0m13 2h0m-2 0h0m-8 1h0m7 1h0m-5 1h0m-10 1h0m9 0h0m-1 1h0m9 1h0m-10 2h0m-3 0h0m6 0h0m8 0h0m-8 1h0m-10 1h0m4 0h0m6 0h0m2 0h0m-9 1h0m6 0h0m5 1h0m1 0h0m-10 3h0m7 0h0m-1 1h0m-5 2h0m5 0h0m5 0h0m-3 2h0m-8 1h0m4 0h0m-6 2h0m9 0h0m-11 1h0m7 1h0m-8 1h0m5 0h0m-5 5h0m14 0h0m-4 1h0m-1 0h0m-7 1h0m5 1h0m10 0h0m0 2h0m-9 1h0m1 0h0m6 0h0m-1 0h0m3 0h0m-6 1h0m1 0h0m1 0h0m1 1h0m-10 397h0m9 0h0m-13 1h0m2 0h0m7 0h0m-3 1h0m-4 1h0m7 1h0m2 0h0m-2 0h0m5 0h0m4 1h0m-4 2h0m-2 0h0m-3 0h0m-9 1h0m4 0h0m-4 1h0m3 1h0m9 0h0m-9 1h0m0 0h0m14 1h0m-1 0h0m-13 1h0m-2 0h0m15 1h0m-12 1h0m13 1h0m-10 2h0m4 0h0m-9 1h0m3 3h0m7 1h0m2 2h0m-8 1h0m-5 1h0m11 3h0m-5 1h0m-3 3h0m12 0h0m-15 1h0m16 1h0m-15 5h0m14 2h0m1 8h0m-3 2h0m4 20h0m-17 1h0m22-535h0m6 0h0m6 1h0m-3 3h0m1 1h0m3 0h0m-9 2h0m6 0h0m5 2h0m-13 1h0m-3 3h0m12 2h0m-6 3h0m9 3h0m-17 3h0m0 0h0m15 0h0m-13 1h0m15 0h0m-12 1h0m-6 4h0m1 1h0m13 2h0m-14 1h0m2 0h0m5 0h0m9 1h0m-4 2h0m7 0h0m-9 1h0m3 0h0m3 2h0m-13 6h0m3 2h0m-5 0h0m5 0h0m-2 1h0m12 0h0m0 5h0m-4 1h0m-2 1h0m-9 1h0m5 0h0m7 0h0m-11 1h0m-1 0h0m14 0h0m3 0h0m-2 2h0m-3 0h0m4 1h0m-15 1h0m12 0h0m-7 1h0m-2 0h0m2 0h0m3 1h0m-7 402h0m0 1h0m6 0h0m3 1h0m0 0h0m-6 1h0m12 0h0m-18 1h0m4 0h0m15 1h0m-12 1h0m3 6h0m-9 1h0m8 1h0m3 2h0m-10 2h0m15 4h0m-11 2h0m9 0h0m1 1h0m-14 6h0m3 2h0m11 0h0m1 0h0m-5 4h0m-3 7h0m0 4h0m-4 1h0m7 4h0m-4 1h0m0 1h0m7 0h0m3 4h0m-16 6h0m8 0h0m7 1h0m-8 7h0m19-544h0m-2 2h0m3 0h0m4 1h0m-4 5h0m-7 1h0m5 4h0m7 3h0m-4 1h0m8 2h0m-6 4h0m-1 1h0m5 1h0m-10 0h0m1 1h0m11 1h0m-2 0h0m-9 1h0m7 0h0m3 0h0m-7 1h0m0 1h0m1 0h0m-3 1h0m6 2h0m-3 1h0m7 0h0m-11 1h0m10 1h0m-1 1h0m3 1h0m-1 1h0m-18 1h0m15 1h0m4 1h0m-7 1h0m-3 0h0m7 0h0m-4 0h0m-1 3h0m3 0h0m3 0h0m-16 1h0m8 0h0m6 0h0m-11 1h0m10 0h0m-12 2h0m6 0h0m3 0h0m3 1h0m-7 2h0m4 0h0m0 1h0m8 1h0m-4 1h0m-7 2h0m5 0h0m6 3h0m-17 3h0m14 0h0m-12 1h0m11 1h0m2 0h0m0 1h0m-3 1h0m0 1h0m-13 0h0m14 1h0m1 4h0m0 0h0m-1 3h0m-15 393h0m7 0h0m6 1h0m-4 1h0m-3 1h0m3 0h0m-2 0h0m-5 3h0m11 3h0m-10 1h0m0 0h0m15 0h0m-13 1h0m7 0h0m7 3h0m-13 2h0m0 1h0m7 0h0m-8 1h0m5 1h0m-3 2h0m3 0h0m5 2h0m-7 1h0m-6 2h0m3 1h0m-3 2h0m15 7h0m-15 1h0m13 0h0m3 0h0m-3 4h0m-12 8h0m-1 2h0m15 10h0m-3 1h0m-11 29h0m31-555h0m-8 2h0m13 2h0m-11 1h0m-1 1h0m-7 3h0m11 0h0m6 0h0m-13 1h0m0 1h0m15 0h0m-6 2h0m-1 2h0m-12 1h0m14 0h0m5 1h0m-10 3h0m8 0h0m-11 1h0m-5 1h0m9 2h0m3 3h0m-13 1h0m14 1h0m-3 2h0m-2 2h0m-1 1h0m5 1h0m-3 1h0m0 2h0m-9 1h0m18 0h0m-19 0h0m7 4h0m-5 1h0m11 3h0m-6 0h0m5 1h0m4 0h0m-10 5h0m9 0h0m4 1h0m-1 0h0m-18 1h0m4 1h0m0 1h0m13 0h0m-14 1h0m8 0h0m4 0h0m-14 1h0m16 0h0m-7 0h0m-10 2h0m4 0h0m5 2h0m-9 1h0m3 0h0m5 0h0m6 0h0m-11 1h0m14 0h0m-7 2h0m-1 2h0m7 0h0m-14 1h0m15 5h0m-15 393h0m-2 1h0m16 0h0m3 0h0m-1 0h0m-18 2h0m2 0h0m2 0h0m-4 1h0m19 0h0m-11 3h0m9 0h0m-2 1h0m1 0h0m2 0h0m-17 1h0m8 0h0m3 1h0m-4 1h0m-3 4h0m-5 1h0m0 1h0m7 1h0m8 0h0m-11 1h0m7 1h0m-9 1h0m7 0h0m7 3h0m2 1h0m1 1h0m-17 8h0m6 4h0m-2 5h0m7 2h0m-13 9h0m28-523h0m-7 2h0m8 0h0m-9 5h0m7 1h0m12 2h0m-9 2h0m-4 1h0m12 3h0m-6 1h0m3 2h0m-4 1h0m5 2h0m-3 1h0m-3 1h0m5 0h0m-13 2h0m-1 0h0m12 0h0m-9 1h0m-3 1h0m3 3h0m-1 2h0m2 0h0m11 0h0m-2 3h0m3 0h0m-17 1h0m17 2h0m-8 1h0m-5 1h0m11 1h0m-5 1h0m2 1h0m-11 1h0m0 0h0m9 0h0m-3 1h0m-5 1h0m12 1h0m-1 0h0m-10 2h0m2 0h0m14 7h0m-19 1h0m14 3h0m-5 2h0m8 0h0m2 0h0m-10 1h0m5 0h0m3 1h0m-11 1h0m8 1h0m-5 1h0m-7 0h0m1 1h0m5 0h0m7 0h0m-7 3h0m6 0h0m4 0h0m-10 2h0m6 0h0m4 1h0m-18 1h0m8 0h0m8 2h0m-14 391h0m9 1h0m-4 4h0m-5 3h0m7 0h0m8 2h0m-6 1h0m-8 1h0m10 5h0m-1 1h0m-7 1h0m14 0h0m-16 2h0m2 0h0m10 0h0m-14 2h0m8 0h0m0 1h0m-3 5h0m0 2h0m5 1h0m2 2h0m4 0h0m-5 1h0m-11 1h0m4 0h0m-5 1h0m1 1h0m10 1h0m-10 3h0m0 3h0m0 1h0m1 6h0m0 0h0m0 3h0m9 17h0m2 14h0m-7 3h0m28-555h0m-10 3h0m5 4h0m-2 8h0m-2 6h0m4 5h0m4 1h0m-4 2h0m3 0h0m7 1h0m-16 1h0m15 0h0m-14 2h0m5 2h0m-6 3h0m7 0h0m-6 1h0m1 0h0m6 0h0m4 0h0m-15 2h0m19 0h0m-18 1h0m10 0h0m-8 2h0m4 0h0m10 1h0m-7 1h0m-5 1h0m2 1h0m8 0h0m0 1h0m-5 0h0m-7 1h0m11 0h0m-6 1h0m9 0h0m-13 1h0m3 0h0m4 0h0m7 0h0m-18 1h0m12 0h0m-12 1h0m1 1h0m5 1h0m12 0h0m-13 1h0m12 0h0m-11 0h0m8 0h0m-7 1h0m-1 1h0m10 1h0m-12 1h0m-4 1h0m16 4h0m-3 1h0m3 0h0m-13 2h0m-1 1h0m10 0h0m-11 1h0m6 0h0m12 0h0m-6 2h0m-12 1h0m4 0h0m1 1h0m3 1h0m10 0h0m-18 1h0m4 0h0m-1 392h0m5 1h0m4 0h0m0 1h0m-2 1h0m4 0h0m-5 2h0m9 2h0m-11 2h0m-6 1h0m13 0h0m4 0h0m-17 1h0m3 0h0m5 0h0m5 0h0m-6 1h0m2 3h0m5 1h0m0 0h0m-15 1h0m4 0h0m4 0h0m-3 1h0m-6 1h0m15 0h0m0 1h0m-12 1h0m-1 1h0m11 0h0m-3 1h0m8 5h0m1 1h0m-13 6h0m13 0h0m-17 3h0m6 2h0m-5 2h0m0 2h0m10 5h0m-1 8h0m11-525h0m15 0h0m-4 3h0m-10 3h0m-3 0h0m-1 6h0m19 2h0m-17 2h0m6 1h0m-6 1h0m-2 3h0m6 1h0m1 1h0m10 2h0m0 0h0m-10 1h0m3 0h0m-7 1h0m4 0h0m-4 3h0m2 1h0m-1 3h0m5 0h0m-8 2h0m10 1h0m-7 1h0m-2 0h0m6 1h0m7 0h0m4 0h0m-6 1h0m-12 2h0m1 1h0m8 1h0m8 1h0m-10 1h0m2 1h0m-6 1h0m3 0h0m-1 4h0m4 1h0m7 0h0m-15 1h0m9 0h0m4 1h0m-9 4h0m11 0h0m-15 2h0m0 0h0m15 0h0m-12 1h0m-4 1h0m4 0h0m6 0h0m4 0h0m-5 1h0m-1 0h0m-6 5h0m1 0h0m1 0h0m10 0h0m-11 1h0m8 0h0m4 1h0m1 0h0m-10 1h0m9 0h0m-6 2h0m6 2h0m1 4h0m-15 389h0m5 1h0m6 2h0m-1 1h0m-11 1h0m5 1h0m3 0h0m4 0h0m-13 1h0m11 0h0m-11 1h0m18 0h0m-15 1h0m3 0h0m12 4h0m-13 1h0m9 0h0m4 0h0m-17 1h0m3 1h0m-3 2h0m12 1h0m-7 6h0m3 0h0m2 2h0m7 4h0m-18 2h0m1 0h0m6 4h0m8 1h0m4 0h0m-3 1h0m-6 4h0m0 3h0m2 3h0m-4 1h0m-8 5h0m5 6h0m11 9h0m15-525h0m0 5h0m-3 1h0m-8 3h0m11 2h0m-3 0h0m1 2h0m5 1h0m-7 0h0m7 1h0m2 1h0m-9 1h0m3 2h0m6 0h0m-15 3h0m0 1h0m9 0h0m8 1h0m-3 1h0m-1 0h0m-4 1h0m0 0h0m-4 1h0m7 2h0m-13 4h0m14 0h0m-2 0h0m3 1h0m2 0h0m-5 1h0m-11 1h0m0 0h0m5 1h0m13 2h0m-13 2h0m-4 1h0m16 2h0m-17 3h0m9 1h0m-6 2h0m-2 1h0m5 0h0m9 0h0m-8 1h0m1 0h0m5 0h0m-5 1h0m8 0h0m-9 3h0m-6 1h0m3 0h0m6 0h0m2 0h0m-1 4h0m7 1h0m0 0h0m-19 1h0m0 1h0m2 0h0m3 0h0m-5 1h0m4 1h0m0 1h0m1 1h0m10 1h0m-13 1h0m10 0h0m3 0h0m4 0h0m-6 388h0m4 1h0m-5 2h0m7 1h0m-13 1h0m3 0h0m-6 1h0m9 0h0m-2 2h0m-5 0h0m11 2h0m3 0h0m-14 1h0m5 0h0m3 0h0m-10 1h0m12 5h0m0 0h0m2 1h0m-13 3h0m0 4h0m8 0h0m-6 3h0m0 3h0m-1 2h0m-2 4h0m-1 0h0m4 4h0m-6 3h0m8 0h0m6 4h0m1 0h0m-8 6h0m7 6h0m8-525h0m0 13h0m12 2h0m-4 1h0m4 1h0m3 0h0m-15 1h0m17 1h0m-6 1h0m-11 4h0m14 6h0m-8 4h0m11 1h0m-19 4h0m3 0h0m6 0h0m-9 1h0m1 1h0m7 0h0m-3 1h0m3 3h0m7 0h0m-6 1h0m-4 1h0m6 0h0m-10 1h0m18 3h0m-1 1h0m0 0h0m-1 4h0m-15 1h0m7 0h0m8 1h0m-12 2h0m5 0h0m-8 2h0m6 1h0m3 2h0m-8 1h0m9 0h0m1 0h0m4 0h0m-5 2h0m3 0h0m-12 1h0m14 1h0m-3 1h0m3 2h0m-17 2h0m2 1h0m3 0h0m5 0h0m9 0h0m-2 0h0m-2 2h0m-7 1h0m-6 387h0m0 0h0m-2 1h0m4 0h0m-2 1h0m-2 1h0m4 1h0m12 0h0m-15 2h0m6 0h0m1 2h0m0 0h0m-7 1h0m5 1h0m10 0h0m-11 1h0m-2 1h0m12 0h0m-11 1h0m-1 1h0m-2 1h0m15 0h0m-1 1h0m-11 1h0m11 0h0m3 0h0m-5 1h0m-3 2h0m2 1h0m-3 1h0m9 0h0m0 1h0m-11 4h0m-7 2h0m13 9h0m1 0h0m2 3h0m0 7h0m-15 2h0m3 23h0m17-531h0m15 2h0m2 2h0m-18 6h0m7 0h0m2 1h0m-1 2h0m5 1h0m0 0h0m-9 1h0m-3 1h0m-1 3h0m6 0h0m4 1h0m-3 3h0m11 2h0m-5 1h0m-13 1h0m7 1h0m-1 0h0m4 0h0m0 1h0m-3 0h0m-6 1h0m4 0h0m6 1h0m3 7h0m2 0h0m-8 1h0m10 0h0m-10 1h0m-1 1h0m-6 1h0m6 0h0m-4 5h0m0 2h0m8 0h0m-2 1h0m9 2h0m-18 2h0m0 2h0m6 1h0m-4 1h0m7 1h0m1 0h0m-10 1h0m3 0h0m7 0h0m-6 2h0m6 2h0m-4 1h0m-2 1h0m-3 1h0m8 1h0m10 1h0m-13 0h0m5 2h0m-11 1h0m13 1h0m0 0h0m-9 389h0m2 0h0m-5 1h0m7 1h0m10 0h0m0 1h0m-17 0h0m8 1h0m10 0h0m-6 1h0m-13 1h0m1 0h0m4 0h0m8 0h0m-2 1h0m6 1h0m-16 1h0m3 0h0m1 0h0m1 0h0m8 0h0m2 0h0m-15 1h0m2 0h0m12 0h0m-13 2h0m12 0h0m2 0h0m0 2h0m-10 1h0m12 0h0m-13 2h0m4 4h0m9 0h0m-14 1h0m1 1h0m14 0h0m-18 1h0m5 0h0m12 2h0m-1 1h0m-13 2h0m3 3h0m0 3h0m2 1h0m1 5h0m-4 9h0m13 8h0m-2 5h0m17-520h0m-13 4h0m2 3h0m12 6h0m-6 3h0m-9 1h0m7 0h0m9 3h0m-14 2h0m8 3h0m-2 2h0m7 2h0m-2 1h0m-12 1h0m18 0h0m-12 1h0m6 0h0m1 1h0m-11 1h0m9 0h0m1 2h0m5 0h0m-7 1h0m-8 1h0m16 0h0m-12 1h0m5 0h0m-11 3h0m18 1h0m-10 2h0m9 0h0m-7 1h0m4 0h0m-10 1h0m10 1h0m-8 1h0m-5 1h0m12 0h0m-2 1h0m1 0h0m0 0h0m0 1h0m-9 3h0m9 0h0m-5 3h0m2 0h0m7 0h0m1 1h0m0 0h0m1 0h0m-2 1h0m1 0h0m-2 1h0m-16 2h0m7 0h0m-6 2h0m13 1h0m-14 1h0m6 0h0m3 0h0m8 0h0m0 2h0m-12 1h0m11 2h0m-16 385h0m2 0h0m6 0h0m4 0h0m-3 0h0m-5 2h0m0 0h0m6 1h0m7 0h0m-14 2h0m12 1h0m4 0h0m-16 2h0m6 1h0m-3 1h0m3 0h0m5 0h0m1 0h0m-14 2h0m11 0h0m-1 4h0m8 2h0m-18 1h0m2 2h0m4 0h0m7 1h0m-8 1h0m11 0h0m-11 1h0m-4 5h0m2 1h0m-1 1h0m13 4h0m-10 4h0m13 1h0m-2 6h0m-12 9h0m1 1h0m7 8h0m-1 10h0m15-541h0m9 14h0m-1 4h0m3 0h0m-12 2h0m8 2h0m1 1h0m-3 2h0m-12 1h0m15 5h0m-1 1h0m-2 1h0m0 0h0m-7 3h0m12 0h0m-16 1h0m3 0h0m10 0h0m-10 1h0m7 0h0m0 1h0m-11 1h0m1 0h0m10 0h0m3 0h0m-2 3h0m-3 5h0m8 1h0m-6 1h0m5 0h0m-5 1h0m-11 2h0m19 0h0m0 0h0m-1 1h0m-11 3h0m-2 2h0m-2 2h0m13 0h0m-12 1h0m4 1h0m-5 1h0m15 0h0m-11 1h0m5 0h0m-9 2h0m-2 0h0m15 1h0m-1 1h0m1 1h0m-5 1h0m3 0h0m-1 0h0m3 4h0m-5 1h0m-3 1h0m-5 1h0m5 0h0m10 0h0m-13 1h0m2 0h0m12 0h0m-10 1h0m0 1h0m3 0h0m4 0h0m-14 389h0m11 1h0m2 3h0m-1 0h0m-7 1h0m4 0h0m4 2h0m-15 1h0m8 0h0m3 0h0m2 2h0m-12 1h0m4 1h0m-3 1h0m10 1h0m-12 3h0m6 0h0m0 2h0m8 0h0m-2 1h0m6 1h0m-5 5h0m-8 1h0m11 0h0m-1 2h0m-11 3h0m14 0h0m-11 3h0m5 1h0m-9 3h0m6 5h0m-9 3h0m10 0h0m-10 3h0m7 8h0m5 4h0m17-506h0m-7 0h0m-2 1h0m9 2h0m-9 1h0m13 0h0m-10 2h0m0 0h0m-3 6h0m8 1h0m-4 3h0m2 2h0m2 0h0m11 2h0m-18 1h0m0 0h0m7 0h0m-3 1h0m8 2h0m4 0h0m-14 1h0m0 0h0m10 0h0m4 0h0m-6 4h0m-5 1h0m13 0h0m-14 2h0m-3 1h0m-1 1h0m5 0h0m1 1h0m9 0h0m-3 1h0m-12 1h0m17 0h0m-16 1h0m11 0h0m6 2h0m-9 2h0m8 0h0m-14 1h0m0 1h0m2 0h0m-1 0h0m5 1h0m-6 1h0m7 0h0m-1 0h0m0 4h0m9 1h0m-11 1h0m1 0h0m10 2h0m-9 1h0m-8 1h0m2 3h0m12 0h0m-2 0h0m-7 386h0m11 0h0m-9 1h0m3 1h0m2 0h0m0 0h0m4 0h0m-11 4h0m9 1h0m-3 0h0m-13 0h0m1 1h0m7 1h0m-6 1h0m8 0h0m-10 5h0m1 0h0m7 1h0m-7 1h0m15 0h0m-13 1h0m14 1h0m-13 2h0m11 0h0m-6 1h0m5 2h0m4 0h0m-9 1h0m-9 1h0m0 5h0m16 7h0m-2 8h0m-7 5h0m5 3h0m2 3h0m-13 3h0m3 6h0m17-523h0m16 2h0m2 6h0m-14 4h0m9 1h0m-4 1h0m-4 4h0m4 5h0m-4 3h0m-1 0h0m10 2h0m-1 0h0m-6 1h0m-5 5h0m12 0h0m-14 3h0m10 1h0m-8 1h0m1 0h0m-1 1h0m1 0h0m-4 2h0m6 0h0m3 0h0m8 0h0m-12 1h0m7 0h0m-3 3h0m-8 2h0m2 1h0m3 0h0m-5 2h0m5 0h0m2 0h0m-1 0h0m-6 1h0m6 1h0m9 0h0m-15 2h0m10 0h0m-4 1h0m-6 0h0m1 1h0m3 1h0m9 0h0m0 4h0m-10 1h0m2 0h0m-6 1h0m2 1h0m13 0h0m2 0h0m-5 1h0m7 1h0m-10 1h0m2 1h0m8 2h0m-14 1h0m14 1h0m0 0h0m-15 385h0m-4 1h0m15 1h0m-14 2h0m15 2h0m-5 0h0m-5 3h0m8 0h0m-7 1h0m10 1h0m1 1h0m-4 1h0m5 1h0m-19 1h0m5 3h0m9 5h0m-5 2h0m6 0h0m-2 0h0m-11 1h0m9 1h0m1 0h0m-2 1h0m7 1h0m-11 6h0m-2 1h0m7 2h0m-3 1h0m9 3h0m-17 1h0m5 1h0m14 0h0m-9 2h0m2 1h0m-4 3h0m7 8h0m16-519h0m-8 3h0m14 0h0m-3 1h0m-11 3h0m2 2h0m14 4h0m-13 2h0m-5 1h0m17 1h0m-1 1h0m-16 6h0m14 1h0m-8 1h0m4 1h0m7 1h0m-5 3h0m-2 1h0m7 1h0m-18 2h0m13 0h0m-13 1h0m0 4h0m15 2h0m-4 6h0m-5 1h0m11 0h0m0 3h0m-13 2h0m3 2h0m5 1h0m-2 0h0m-9 2h0m5 0h0m-4 1h0m14 1h0m-11 1h0m5 0h0m1 0h0m7 3h0m-10 2h0m-8 1h0m9 0h0m-1 1h0m7 0h0m-3 1h0m2 0h0m-1 1h0m-13 0h0m11 1h0m0 1h0m4 0h0m-3 3h0m-2 0h0m9 0h0m-15 1h0m6 0h0m3 0h0m1 0h0m0 2h0m-12 384h0m9 0h0m-2 1h0m8 0h0m-7 2h0m3 1h0m-6 1h0m2 0h0m9 0h0m-10 3h0m-7 1h0m2 0h0m-3 1h0m2 1h0m3 3h0m4 0h0m4 0h0m6 0h0m-11 1h0m5 3h0m4 1h0m-4 1h0m-2 1h0m8 0h0m-10 1h0m-7 1h0m11 0h0m-10 1h0m15 2h0m-2 2h0m-12 1h0m3 1h0m3 0h0m8 0h0m-16 1h0m13 3h0m-2 1h0m-5 4h0m2 1h0m6 2h0m2 1h0m-14 4h0m5 1h0m-3 2h0m-5 3h0m7 2h0m1 2h0m8 1h0m-12 3h0m16-518h0m18 0h0m-12 2h0m-2 3h0m-5 2h0m16 0h0m-10 1h0m-4 6h0m8 0h0m-9 1h0m16 1h0m-13 1h0m14 1h0m-3 2h0m-11 2h0m7 2h0m-6 1h0m1 3h0m-4 2h0m0 1h0m6 3h0m-1 1h0m8 1h0m-4 1h0m2 0h0m2 0h0m-13 1h0m15 3h0m2 0h0m-6 2h0m-13 1h0m5 0h0m5 2h0m2 0h0m-3 1h0m5 0h0m-10 1h0m-3 2h0m13 1h0m-1 0h0m-9 1h0m13 0h0m-10 1h0m8 3h0m3 1h0m-11 1h0m11 1h0m-6 1h0m6 0h0m-10 1h0m11 0h0m-10 0h0m7 1h0m3 0h0m-19 2h0m8 0h0m10 0h0m-2 3h0m-13 1h0m7 0h0m-6 1h0m0 0h0m10 2h0m-4 1h0m6 0h0m-7 1h0m5 1h0m5 1h0m-2 1h0m-14 382h0m4 0h0m12 0h0m-1 0h0m-16 1h0m5 0h0m4 0h0m-10 1h0m0 0h0m10 0h0m-10 2h0m1 0h0m17 4h0m-12 2h0m2 0h0m-6 2h0m0 1h0m12 1h0m-14 1h0m1 2h0m13 0h0m-13 2h0m5 0h0m-7 1h0m4 0h0m12 1h0m-16 1h0m10 0h0m6 5h0m-5 3h0m-11 7h0m5 3h0m14 7h0m-5 4h0m-1 0h0m16-508h0m-2 4h0m-4 5h0m-3 1h0m14 1h0m5 1h0m-10 1h0m6 5h0m-10 1h0m14 4h0m-6 6h0m-9 3h0m2 2h0m9 0h0m-5 3h0m6 1h0m-2 0h0m3 0h0m2 0h0m-14 1h0m5 2h0m0 0h0m-1 1h0m3 0h0m5 1h0m-11 2h0m4 1h0m1 2h0m6 1h0m1 1h0m-6 1h0m6 0h0m-3 1h0m-7 5h0m-8 1h0m12 1h0m6 0h0m-1 1h0m-6 3h0m0 0h0m-7 1h0m13 1h0m0 1h0m-3 1h0m-7 1h0m-3 2h0m12 1h0m1 0h0m-16 1h0m12 0h0m-12 0h0m16 0h0m2 2h0m-15 1h0m5 1h0m8 380h0m-10 3h0m3 0h0m8 0h0m-18 1h0m9 0h0m-1 0h0m3 0h0m3 0h0m-5 2h0m0 1h0m-4 1h0m14 1h0m-7 2h0m-9 2h0m10 0h0m2 0h0m2 0h0m-1 1h0m-7 1h0m10 0h0m-15 2h0m10 2h0m-12 2h0m6 5h0m4 1h0m-1 1h0m1 0h0m-3 2h0m6 0h0m-4 4h0m-3 3h0m-6 4h0m14 5h0m2 4h0m-12 9h0m27-518h0m6 13h0m-16 1h0m10 0h0m0 2h0m-9 3h0m5 4h0m1 0h0m-2 2h0m2 0h0m-2 3h0m3 2h0m8 0h0m-18 1h0m17 1h0m-12 2h0m3 0h0m8 0h0m-5 1h0m-7 3h0m11 1h0m-5 1h0m3 2h0m5 0h0m-9 4h0m2 2h0m-4 1h0m-5 1h0m13 2h0m-16 3h0m5 1h0m-1 1h0m0 4h0m-2 0h0m1 1h0m3 0h0m0 0h0m11 0h0m-8 1h0m-3 0h0m10 1h0m-14 1h0m15 1h0m-10 1h0m-2 1h0m-5 1h0m6 0h0m-2 2h0m11 1h0m3 0h0m-17 1h0m10 0h0m2 0h0m-13 1h0m3 0h0m3 0h0m6 1h0m-2 0h0m7 1h0m-8 1h0m4 0h0m0 0h0m-10 1h0m6 0h0m6 0h0m-15 1h0m11 0h0m1 1h0m-6 1h0m5 0h0m-1 0h0m3 0h0m5 2h0m-15 376h0m1 0h0m2 5h0m-1 1h0m10 0h0m-4 1h0m8 0h0m-12 1h0m10 0h0m-6 1h0m3 2h0m2 1h0m-16 1h0m0 0h0m5 0h0m7 0h0m-4 1h0m8 0h0m-1 0h0m1 1h0m-8 1h0m-3 1h0m10 2h0m-7 1h0m10 0h0m0 1h0m-11 2h0m2 0h0m4 0h0m-1 1h0m4 0h0m-6 2h0m6 2h0m-5 3h0m7 1h0m-15 0h0m3 1h0m-3 2h0m4 2h0m2 3h0m4 3h0m5 0h0m-1 0h0m-7 11h0m5 1h0m-9 6h0m-4 6h0m11 19h0m11-538h0m4 2h0m-3 4h0m-3 2h0m-2 6h0m16 6h0m-15 2h0m14 0h0m1 3h0m1 1h0m-12 2h0m3 2h0m-2 1h0m13 3h0m-12 1h0m0 2h0m12 0h0m-10 1h0m7 0h0m-12 3h0m11 1h0m2 0h0m2 0h0m-13 2h0m1 1h0m-6 2h0m1 2h0m0 0h0m6 0h0m0 1h0m-4 0h0m13 1h0m-4 4h0m-9 1h0m14 2h0m0 2h0m-3 2h0m-15 1h0m6 3h0m7 1h0m-1 1h0m1 0h0m3 1h0m-15 1h0m16 0h0m-13 1h0m9 2h0m1 0h0m2 0h0m2 0h0m-1 0h0m-11 1h0m2 0h0m10 0h0m-13 1h0m11 0h0m0 0h0m-12 1h0m12 1h0m2 379h0m-9 2h0m9 0h0m0 0h0m-18 2h0m4 1h0m8 0h0m-6 1h0m13 0h0m-13 2h0m7 2h0m1 0h0m2 0h0m3 0h0m-18 2h0m12 2h0m1 0h0m5 2h0m-14 2h0m7 0h0m-4 0h0m6 0h0m1 0h0m-15 4h0m19 0h0m-15 2h0m8 1h0m-4 0h0m-2 1h0m6 0h0m-6 4h0m-2 2h0m1 1h0m10 0h0m-2 0h0m-11 1h0m11 1h0m6 0h0m-10 1h0m2 0h0m1 0h0m-6 2h0m9 1h0m1 1h0m-1 2h0m-11 6h0m11 2h0m-6 2h0m-9 8h0m1 1h0m18 1h0m5-508h0m2 3h0m1 4h0m2 3h0m4 1h0m-11 4h0m2 1h0m4 0h0m-6 1h0m9 0h0m-10 1h0m11 1h0m-7 2h0m2 2h0m1 1h0m-3 5h0m4 1h0m-5 2h0m8 1h0m4 0h0m-2 3h0m-12 2h0m17 0h0m-15 1h0m11 0h0m-14 4h0m17 0h0m-14 1h0m1 0h0m10 0h0m-4 2h0m-8 0h0m3 1h0m-5 2h0m-1 1h0m9 0h0m5 2h0m-3 1h0m3 0h0m-10 2h0m15 0h0m-14 3h0m12 0h0m-6 1h0m-7 1h0m3 0h0m4 0h0m2 0h0m-12 1h0m11 0h0m-1 0h0m-9 4h0m5 0h0m4 0h0m-10 2h0m9 0h0m6 0h0m1 0h0m-4 1h0m5 378h0m-11 1h0m5 0h0m7 0h0m-6 1h0m5 0h0m-8 1h0m-8 1h0m16 1h0m-6 1h0m-1 1h0m-6 1h0m5 0h0m-9 2h0m16 0h0m-8 2h0m-1 5h0m-5 4h0m5 0h0m8 0h0m-14 1h0m3 0h0m0 0h0m13 1h0m-3 2h0m-5 2h0m-1 0h0m-3 1h0m13 2h0m-10 2h0m10 3h0m-13 6h0m12 2h0m-18 4h0m11 0h0m-10 1h0m14 0h0m-9 12h0m-5 9h0m3 18h0m4 8h0m29-537h0m0 8h0m0 3h0m-16 4h0m9 1h0m5 0h0m-15 1h0m13 0h0m-1 6h0m-3 1h0m3 0h0m5 2h0m-17 1h0m10 0h0m5 1h0m-3 3h0m2 0h0m-12 2h0m13 0h0m-9 2h0m-4 3h0m14 0h0m-1 1h0m2 0h0m-8 1h0m8 0h0m-17 2h0m0 1h0m9 0h0m1 2h0m7 0h0m-6 1h0m5 1h0m-1 1h0m1 0h0m-13 1h0m8 0h0m-6 1h0m3 1h0m-3 1h0m11 2h0m0 1h0m-4 4h0m1 2h0m-2 1h0m6 0h0m-14 1h0m5 0h0m9 0h0m-8 2h0m-3 1h0m-4 0h0m4 0h0m11 0h0m-1 0h0m1 1h0m-14 1h0m1 0h0m12 0h0m1 0h0m-10 1h0m6 0h0m2 1h0m-11 373h0m0 1h0m1 1h0m2 0h0m-3 1h0m4 0h0m6 0h0m-10 1h0m11 2h0m-15 2h0m1 2h0m9 0h0m0 2h0m-3 2h0m-6 1h0m-1 1h0m0 1h0m12 7h0m-9 1h0m8 0h0m-3 2h0m6 1h0m3 1h0m-2 14h0m-3 2h0m-9 1h0m11 9h0m-7 0h0m1 4h0m0 0h0m-6 2h0m11 3h0m4 23h0" stroke="#ff0000" stroke-width="6.00"/></g>
</g>
<rect x="57.4" y="257.6" width="277.2" height="171.4" fill="none" stroke="#606060" stroke-width="1.3"/>
<path d="M62.6 429.0v-1.6M62.6 257.6v1.6M75.6 429.0v-1.6M75.6 257.6v1.6M88.6 429.0v-2.6M88.6 257.6v2.6M101.6 429.0v-1.6M101.6 257.6v1.6M114.6 429.0v-1.6M114.6 257.6v1.6M127.6 429.0v-1.6M127.6 257.6v1.6M140.6 429.0v-1.6M140.6 257.6v1.6M153.6 429.0v-2.6M153.6 257.6v2.6M166.6 429.0v-1.6M166.6 257.6v1.6M179.6 429.0v-1.6M179.6 257.6v1.6M192.6 429.0v-1.6M192.6 257.6v1.6M205.6 429.0v-1.6M205.6 257.6v1.6M218.6 429.0v-2.6M218.6 257.6v2.6M231.6 429.0v-1.6M231.6 257.6v1.6M244.6 429.0v-1.6M244.6 257.6v1.6M257.6 429.0v-1.6M257.6 257.6v1.6M270.6 429.0v-1.6M270.6 257.6v1.6M283.6 429.0v-2.6M283.6 257.6v2.6M296.6 429.0v-1.6M296.6 257.6v1.6M309.6 429.0v-1.6M309.6 257.6v1.6M322.6 429.0v-1.6M322.6 257.6v1.6M57.4 420.5h1.6M334.6 420.5h-1.6M57.4 410.2h1.6M334.6 410.2h-1.6M57.4 399.9h1.6M334.6 399.9h-1.6M57.4 389.7h2.6M334.6 389.7h-2.6M57.4 379.4h1.6M334.6 379.4h-1.6M57.4 369.2h1.6M334.6 369.2h-1.6M57.4 358.9h1.6M334.6 358.9h-1.6M57.4 348.7h2.6M334.6 348.7h-2.6M57.4 338.4h1.6M334.6 338.4h-1.6M57.4 328.2h1.6M334.6 328.2h-1.6M57.4 317.9h1.6M334.6 317.9h-1.6M57.4 307.7h2.6M334.6 307.7h-2.6M57.4 297.4h1.6M334.6 297.4h-1.6M57.4 287.2h1.6M334.6 287.2h-1.6M57.4 276.9h1.6M334.6 276.9h-1.6M57.4 266.7h2.6M334.6 266.7h-2.6" stroke="#0a0a0a" stroke-width="1.1" fill="none"/>
<g font-family="Liberation Sans, sans-serif" font-size="11.4" fill="#1a1a1a"><text x="88.6" y="441.4" text-anchor="middle">250</text><text x="153.6" y="441.4" text-anchor="middle">300</text><text x="218.6" y="441.4" text-anchor="middle">350</text><text x="283.6" y="441.4" text-anchor="middle">400</text><text x="55.8" y="393.8" text-anchor="end">3.496</text><text x="55.8" y="352.7" text-anchor="end">3.498</text><text x="55.8" y="311.7" text-anchor="end">3.500</text><text x="55.8" y="270.8" text-anchor="end">3.502</text></g>
<g id="pts-d">
<path d="M417.2 266L418.4 266L419.7 266L420.9 266L422.2 266L423.4 266L424.7 266L425.9 266L427.2 266L428.4 266L429.7 266L430.9 266L432.2 266L433.4 266L434.7 266L435.9 266L437.2 266L438.4 266L439.7 266L440.9 266L442.2 266L443.4 266L444.7 266L445.9 266L447.2 266L448.4 266L449.7 266L450.9 266L452.2 266L453.4 266L454.7 266L455.9 266L457.2 266L458.4 266L459.7 266L460.9 266L462.2 266L463.4 266L464.7 266L465.9 266L467.2 267.4L468.4 267.3L469.7 268.2L470.9 268.8L472.2 269.5L473.4 270.5L474.7 271.1L475.9 271.4L477.2 272.1L478.4 272.4L479.7 272.8L480.9 273.8L482.2 274.8L483.4 275L484.7 276.3L485.9 275.7L487.2 277.3L488.4 277.6L489.7 278.1L490.9 278.4L492.2 278.8L493.4 280.3L494.7 280L495.9 280.8L497.2 281.5L498.4 282.6L499.7 282.6L500.9 283.5L502.2 284.1L503.4 284.5L504.7 285L505.9 285.7L507.2 285.5L508.4 286.1L509.7 286.9L510.9 287.3L512.2 287.3L513.5 287.7L514.7 288.4L516 289.1L517.2 290.6L518.5 291.1L519.7 291L521 291.8L522.2 291.6L523.5 292.7L524.7 293L526 292.9L527.2 294.1L528.5 293.7L529.7 295L531 294.7L532.2 295.4L533.5 295.3L534.7 296.3L536 297L537.2 297.3L538.5 297.6L539.7 297.8L541 298.8L542.2 298.9L543.5 299.8L544.7 299.5L546 299.9L547.2 301L548.5 300.8L549.7 300.7L551 302L552.2 302.1L553.5 301.7L554.7 302.6L556 303.5L557.2 303.5L558.5 303.9L559.7 303.7L561 304.1L562.2 305L563.5 304.7L564.7 306.3L566 306.4L567.2 306.7L568.5 306.6L569.7 306.5L571 307.7L572.2 307.9L573.5 308.5L574.7 307.9L576 309.4L577.2 309.8L578.5 309.5L579.7 310.6L581 310L582.2 310.6L583.5 311.2L584.7 311.1L586 311.6L587.2 312.7L588.5 312.3L589.7 312.5L591 313.3L592.2 313.7L593.5 313.5L594.7 314.4L596 314.6L597.2 314.1L598.5 314.7L599.7 315.3L601 316.1L602.2 315.5L603.5 315.8L604.7 316.1L606 316L607.2 317.2L608.5 316.6L609.7 317.9L611 318.1L612.2 317.6L613.5 317.8L614.7 318.8L616 318.8L617.2 318.2L618.5 319.2L619.7 318.7L621 320L622.2 320L623.5 319.7L624.7 320L626 320.1L627.2 319.9L628.5 320.3L629.7 319.9L631 320.9L632.2 320.9L633.5 320.9L634.7 321.6L636 321.7L637.2 322.2L638.5 322.3L639.7 322.3L641 321.9L642.2 321.7L643.5 322.1L644.7 322.7L646 323L647.2 323.5L648.5 323.6L649.7 323.7L651 323.4L652.2 323.5L653.5 323.6L654.7 324.5L656 323.8L657.2 323.9L658.5 324.1L659.7 324.8L661 325.1L662.2 324.5L663.5 324.7L664.7 325.1L666 324.7L667.2 325.3L668.5 325.9L669.7 325.3L671 326.3L672.2 325.8L673.5 326.2L674.7 325.9L676 326.2L677.2 326.3L678.5 326.3L679.4 327L679.4 394.3L678.5 394.6L677.2 395.1L676 394.9L674.7 394.9L673.5 394L672.2 394.6L671 393.9L669.7 394.2L668.5 394.6L667.2 394.7L666 394.9L664.7 394.5L663.5 394.1L662.2 394.7L661 394.2L659.7 394.5L658.5 394.3L657.2 394.5L656 394.3L654.7 394.2L653.5 393.3L652.2 393.9L651 393.7L649.7 392.9L648.5 393.2L647.2 393.2L646 393.1L644.7 392.9L643.5 393.5L642.2 393L641 392.3L639.7 391.9L638.5 392.9L637.2 391.8L636 391.9L634.7 392.5L633.5 392L632.2 391.6L631 392.2L629.7 391.4L628.5 391.2L627.2 391.8L626 391.8L624.7 391.4L623.5 390.4L622.2 390.8L621 389.9L619.7 390.5L618.5 389.7L617.2 390.3L616 389.3L614.7 389.5L613.5 388.7L612.2 389.1L611 389.6L609.7 388.6L608.5 388.1L607.2 388.8L606 388.1L604.7 388.4L603.5 387.2L602.2 387.4L601 386.8L599.7 386.8L598.5 386.6L597.2 387.2L596 386.5L594.7 385.9L593.5 385.7L592.2 385.4L591 385.3L589.7 385.2L588.5 385.5L587.2 384.7L586 384.9L584.7 384.8L583.5 383.8L582.2 384L581 382.9L579.7 382.9L578.5 383.4L577.2 382.6L576 381.9L574.7 382.1L573.5 381.9L572.2 381.3L571 381.1L569.7 380.5L568.5 380.7L567.2 380.9L566 380.3L564.7 379.9L563.5 379.4L562.2 379.6L561 379.2L559.7 378.8L558.5 378.9L557.2 378.5L556 378.1L554.7 377.3L553.5 376.5L552.2 376.7L551 376.8L549.7 375.5L548.5 375.6L547.2 374.8L546 374.1L544.7 373.4L543.5 373.7L542.2 372.7L541 372.2L539.7 371.7L538.5 371.2L537.2 371.8L536 370.7L534.7 370.7L533.5 369.4L532.2 370L531 368.5L529.7 369.3L528.5 367.7L527.2 367.6L526 367.7L524.7 367.4L523.5 366.3L522.2 366.3L521 366L519.7 364.7L518.5 365.2L517.2 363.9L516 363.6L514.7 363.1L513.5 363.3L512.2 362L510.9 361.9L509.7 361.2L508.4 360.8L507.2 359.9L505.9 359.6L504.7 359.7L503.4 358.3L502.2 358.6L500.9 357.2L499.7 357.8L498.4 356.6L497.2 356.3L495.9 355.9L494.7 355.4L493.4 355L492.2 354.2L490.9 353.5L489.7 353.3L488.4 353L487.2 351.7L485.9 351.3L484.7 350.7L483.4 350.2L482.2 350L480.9 348.9L479.7 348.9L478.4 348.3L477.2 347.3L475.9 346.6L474.7 345.9L473.4 345L472.2 345.2L470.9 344.3L469.7 342.8L468.4 342.5L467.2 342.4L465.9 341.7L464.7 340.2L463.4 339.3L462.2 338.5L460.9 338.5L459.7 338L458.4 336.7L457.2 335.8L455.9 334.5L454.7 334.1L453.4 333.3L452.2 332.4L450.9 332.2L449.7 331L448.4 330.6L447.2 329.3L445.9 329.3L444.7 327.5L443.4 326.9L442.2 326.3L440.9 325.8L439.7 324.8L438.4 323.1L437.2 322.9L435.9 321.8L434.7 320.9L433.4 320.8L432.2 319.5L430.9 319L429.7 317.9L428.4 317.2L427.2 315.6L425.9 315.2L424.7 314.9L423.4 312.9L422.2 312.4L420.9 311.5L419.7 311.1L418.4 310.3L417.2 309Z" fill="#ff0000"/>
<g transform="scale(0.25)" fill="none" stroke-linecap="round"><path d="M1679 1212h0m-3 24h0m10-48h0m-4 49h0m0 8h0m4 2h0m15 2h0m37-180h0m-14 189h0m1 2h0m7 16h0m18-12h0m13-181h0m2 195h0m16-207h0m6 234h0m-1 3h0m31-239h0m2 238h0m-17 2h0m2 1h0m10 14h0m18-218h0m7 4h0m-1 13h0m-14 180h0m14 33h0m12-267h0m4 8h0m-8 273h0m8 1h0m2 1h0m6-281h0m0 0h0m8 81h0m14-29h0m35 268h0m4-261h0m10 249h0m-10 4h0m35-270h0m0 11h0m1 2h0m-7 11h0m6 8h0m-7 260h0m5 3h0m4-296h0m6 31h0m17-16h0m-2 1h0m11 24h0m-3 198h0m-2 61h0m7 14h0m15-292h0m2 18h0m-4 278h0m16-281h0m7 1h0m-3 11h0m-5 1h0m13 90h0m7-101h0m5 0h0m4 7h0m0 1h0m3 0h0m-14 8h0m5 0h0m2 2h0m10 276h0m13-274h0m-1 25h0m-1 6h0m-5 224h0m-3 22h0m2 1h0m-1 2h0m13 3h0m-5 5h0m21-282h0m2 1h0m1 47h0m6 241h0m0 2h0m5-294h0m1 7h0m11 42h0m-13 243h0m7 1h0m24-260h0m-6 28h0m4 239h0m17-273h0m-5 1h0m12 0h0m0 2h0m-1 232h0m-8 35h0m-7 7h0m5 0h0m16-278h0m16 11h0m-4 45h0m-8 213h0m6 20h0m8 1h0m-15 2h0m23-284h0m8 0h0m-14 15h0m10 17h0m0 6h0m-1 242h0m7 10h0m9-287h0m-2 12h0m7 38h0m7 20h0m-14 55h0m-3 145h0m7 18h0m5 1h0m12-286h0m5 9h0m-5 281h0m18-284h0m-3 5h0m2 6h0m7 14h0m-9 271h0m19 1h0m14-292h0m-2 8h0m1 7h0m-2 277h0m5 6h0m-4 1h0m26-289h0m-9 18h0m-6 3h0m10 225h0m-12 29h0m11 7h0m15-279h0m4 1h0m2 19h0m-11 1h0m8 268h0m-1 3h0m17-276h0m4 0h0m6 28h0m3 228h0m-11 27h0m13-287h0m9 3h0m-5 2h0m0 10h0m7 8h0m5 265h0m-14 1h0m18-276h0m7 274h0m6 5h0m15-278h0m3 4h0m-5 1h0m12 0h0m-5 23h0m-4 6h0m-6 216h0m1 24h0m11 6h0m-9 3h0m18-281h0m7 5h0m-8 268h0m2 3h0m11 5h0m3 2h0m10-279h0m8 37h0m-8 249h0m23-282h0m7 0h0m-3 7h0m3 5h0m-14 54h0m9 24h0m-7 182h0m1 6h0m7 2h0m21-276h0m-7 2h0m4 19h0m-12 3h0m7 248h0m-7 7h0m19-254h0m17 13h0m-10 3h0m19-22h0m12 12h0m-18 240h0m37-258h0m-2 1h0m-1 250h0m-9 10h0m2 2h0m10 11h0m-4 3h0m-4 0h0m26-268h0m-1 11h0m0 215h0m4 29h0m0 3h0m-14 2h0m6 12h0m29-272h0m-14 12h0m14 251h0m-4 7h0m6-243h0m13 49h0m3 182h0m-11 9h0m-2 3h0m28-261h0m7 7h0m-18 14h0m5 223h0m7 16h0m-1 3h0m1 4h0m26-271h0m-5 2h0m4 14h0m-16 8h0m5 1h0m12 4h0m17 2h0m-3 224h0m13-258h0m-5 9h0m3 8h0m2 1h0m8 234h0m2 13h0m-7 7h0m1 0h0m25-244h0m-13 251h0m32-263h0m0 133h0m-5 71h0m3 32h0m-9 17h0m2 3h0" stroke="#fff" stroke-width="5.00"/><path d="M1673 1237h0m-2 1h0m1 0h0m1 0h0m-1 1h0m3 0h0m-3 3h0m-1 1h0m7 0h0m0 1h0m-6 6h0m4 0h0m-4 1h0m-1 0h0m3 0h0m-2 2h0m0 0h0m0 1h0m0 5h0m2 0h0m4 3h0m-7 3h0m0 2h0m1 4h0m1 10h0m7-38h0m1 4h0m9 1h0m-3 1h0m3 0h0m-3 1h0m5 2h0m-10 1h0m13 0h0m2 1h0m-13 1h0m6 1h0m-2 0h0m3 1h0m5 0h0m0 2h0m-16 1h0m0 1h0m7 0h0m0 0h0m-3 2h0m11 0h0m-2 1h0m-6 1h0m-7 2h0m6 0h0m7 0h0m-2 0h0m7 2h0m-13 1h0m10 0h0m3 2h0m-2 1h0m-9 2h0m9 0h0m-7 1h0m3 0h0m1 1h0m5 0h0m-7 6h0m3 2h0m-14 1h0m15 3h0m-5 2h0m1 2h0m5 6h0m-4 12h0m4 0h0m4-53h0m5 0h0m-2 1h0m5 1h0m1 0h0m-8 1h0m18 5h0m-1 1h0m0 0h0m-14 1h0m8 1h0m-3 1h0m-3 0h0m12 0h0m-8 1h0m-2 1h0m0 2h0m0 1h0m9 2h0m-8 1h0m2 0h0m-11 3h0m3 0h0m5 0h0m2 1h0m-8 1h0m11 0h0m-2 2h0m7 5h0m-12 1h0m-4 3h0m3 4h0m3 3h0m-5 10h0m-1 1h0m8 18h0m12-60h0m4 4h0m4 0h0m-7 1h0m9 0h0m-1 0h0m2 1h0m2 0h0m-13 1h0m9 0h0m5 2h0m-12 1h0m9 0h0m-2 1h0m-11 1h0m15 1h0m1 1h0m-2 0h0m2 1h0m-16 4h0m6 1h0m12 2h0m-12 1h0m9 1h0m-6 3h0m1 0h0m-3 5h0m12 1h0m-1 0h0m-17 1h0m13 0h0m-5 1h0m-6 3h0m7 1h0m6 0h0m3 0h0m-1 1h0m-11 7h0m3 4h0m0 2h0m2 8h0m9-50h0m5 4h0m6 4h0m-7 1h0m6 1h0m-8 2h0m4 2h0m-3 1h0m-3 2h0m14 0h0m-14 1h0m5 0h0m7 0h0m-4 1h0m-8 2h0m10 0h0m-9 2h0m4 0h0m-5 0h0m11 1h0m0 1h0m-3 7h0m6 0h0m-9 2h0m-1 0h0m14 1h0m-5 0h0m-7 14h0m6 2h0m-1 1h0m6 14h0m6-50h0m-2 2h0m9 1h0m1 1h0m-9 1h0m2 3h0m1 1h0m8 1h0m-12 2h0m1 0h0m8 2h0m3 0h0m-14 1h0m15 2h0m-1 0h0m-3 1h0m8 0h0m-5 4h0m5 1h0m-7 1h0m-1 0h0m-1 0h0m3 1h0m-6 2h0m-3 1h0m15 0h0m-6 1h0m-11 3h0m4 1h0m4 3h0m6 2h0m2 3h0m-5 1h0m-2 2h0m-7 1h0m9 6h0m-3 5h0m5 10h0m8-50h0m4 3h0m-6 1h0m9 1h0m-4 2h0m-2 2h0m2 0h0m4 0h0m-8 1h0m12 0h0m-1 0h0m4 1h0m-7 0h0m-1 0h0m-3 1h0m5 1h0m3 0h0m-14 2h0m10 0h0m2 1h0m7 1h0m-10 5h0m-4 0h0m2 1h0m6 0h0m-5 3h0m9 2h0m0 3h0m0 3h0m1 2h0m5-23h0m3 1h0m-4 1h0m5 1h0m-1 0h0m6 0h0m-2 0h0m2 0h0m-5 2h0m-2 2h0m5 0h0m8 0h0m-9 1h0m-4 1h0m7 0h0m-3 3h0m6 0h0m-6 1h0m7 0h0m-7 1h0m-7 3h0m0 1h0m2 2h0m1 0h0m-3 0h0m12 1h0m-5 1h0m7 0h0m-3 2h0m4 0h0m-8 2h0m10 3h0m-7 1h0m-5 1h0m4 2h0m-4 1h0m-1 1h0m2 13h0m-4 4h0m18-41h0m10 6h0m-3 0h0m-1 1h0m-1 2h0m7 0h0m-13 1h0m7 0h0m-3 1h0m-4 1h0m18 0h0m-9 2h0m3 0h0m1 3h0m-6 3h0m5 2h0m6 0h0m0 0h0m-12 1h0m12 1h0m-1 0h0m-3 2h0m-4 1h0m2 2h0m1 2h0m-10 2h0m4 1h0m6 3h0m1 13h0m7-37h0m1 0h0m5 2h0m0 1h0m2 1h0m6 2h0m-7 1h0m-7 1h0m4 0h0m7 0h0m-12 1h0m6 0h0m-7 1h0m8 0h0m-2 2h0m-1 2h0m-3 1h0m5 0h0m-5 1h0m2 4h0m5 1h0m3 1h0m-6 2h0m-1 2h0m14 5h0m-9 1h0m0 3h0m9 1h0m-16 3h0m3 0h0m-6 2h0m5 3h0m-3 1h0m17 1h0m-12 5h0m17-334h0m1 0h0m3 1h0m2 0h0m-5 1h0m1 0h0m3 0h0m4 0h0m-1 1h0m2 0h0m-5 1h0m10 0h0m-1 0h0m0 1h0m0 2h0m-10 287h0m-5 1h0m6 0h0m-6 1h0m7 1h0m-8 1h0m6 0h0m2 0h0m-3 2h0m-6 1h0m14 2h0m-7 1h0m10 2h0m0 0h0m-6 2h0m-8 2h0m-3 2h0m-1 2h0m15 1h0m0 0h0m4 0h0m-3 1h0m-14 1h0m0 2h0m10 1h0m5 2h0m2 0h0m-11 5h0m8 4h0m-12 1h0m4 0h0m9 0h0m-5 19h0m7 2h0m16-353h0m-2 2h0m1 0h0m4 0h0m-17 2h0m4 0h0m-1 0h0m0 1h0m15 0h0m-13 1h0m-4 2h0m-1 3h0m2 0h0m11 1h0m5 2h0m-11 293h0m-1 5h0m2 0h0m5 0h0m-10 1h0m3 0h0m2 0h0m2 0h0m-10 4h0m18 0h0m-17 1h0m16 0h0m-1 4h0m-16 2h0m11 1h0m4 0h0m-6 1h0m-4 1h0m3 0h0m10 0h0m0 1h0m-2 0h0m-1 1h0m-7 1h0m-7 1h0m4 1h0m9 0h0m-2 3h0m-12 3h0m0 7h0m14 7h0m-15 6h0m24-358h0m-3 1h0m10 2h0m0 1h0m-8 2h0m15 0h0m-8 1h0m-8 3h0m12 0h0m4 4h0m-13 3h0m0 2h0m11 1h0m-1 1h0m-9 2h0m-1 1h0m11 0h0m-5 1h0m7 0h0m-1 2h0m-3 1h0m2 1h0m-10 289h0m2 0h0m-6 2h0m-1 2h0m9 1h0m0 1h0m-3 1h0m6 1h0m-1 1h0m-2 1h0m1 0h0m6 0h0m-3 1h0m-1 1h0m5 0h0m-13 1h0m11 0h0m3 0h0m-8 1h0m-8 1h0m13 1h0m-6 1h0m0 3h0m1 0h0m3 4h0m-1 0h0m4 0h0m0 2h0m-4 1h0m-9 3h0m-1 0h0m3 0h0m1 12h0m6 0h0m5 13h0m2-373h0m12 0h0m-10 4h0m-2 2h0m3 1h0m8 0h0m-8 2h0m-2 1h0m8 2h0m-5 1h0m13 0h0m-15 2h0m-1 0h0m17 0h0m-12 3h0m10 0h0m-7 1h0m4 4h0m-1 1h0m-4 1h0m8 0h0m-8 1h0m10 0h0m-18 1h0m2 1h0m1 0h0m0 1h0m7 0h0m-2 1h0m-8 2h0m2 0h0m9 0h0m3 2h0m5 1h0m-4 1h0m2 1h0m0 0h0m-17 290h0m7 4h0m6 0h0m0 2h0m6 2h0m-11 2h0m4 1h0m-8 1h0m7 0h0m0 0h0m-1 2h0m-10 0h0m11 1h0m-6 3h0m-1 1h0m12 4h0m-3 0h0m-5 1h0m-4 3h0m6 0h0m-1 3h0m5 13h0m-9 5h0m27-372h0m-8 8h0m7 1h0m3 2h0m-14 2h0m12 0h0m-7 1h0m11 0h0m-8 5h0m-5 1h0m12 0h0m-13 2h0m4 0h0m-1 0h0m6 1h0m2 0h0m6 0h0m-15 1h0m9 1h0m-12 1h0m6 0h0m7 4h0m-9 2h0m3 0h0m0 0h0m5 0h0m2 0h0m-10 1h0m11 0h0m1 2h0m-5 2h0m1 0h0m2 0h0m-4 1h0m-3 2h0m4 1h0m1 0h0m3 0h0m3 1h0m-3 1h0m0 3h0m1 0h0m-13 286h0m-3 0h0m3 2h0m-2 1h0m10 0h0m-1 1h0m-9 1h0m1 0h0m7 1h0m-2 3h0m3 0h0m-1 0h0m-1 0h0m4 0h0m1 2h0m-6 1h0m7 0h0m4 0h0m-5 1h0m-2 2h0m3 0h0m0 1h0m2 0h0m2 0h0m-18 1h0m6 0h0m9 0h0m3 0h0m-18 2h0m9 1h0m3 4h0m-8 2h0m5 1h0m6 4h0m-4 1h0m2 0h0m-5 4h0m5 7h0m-4 4h0m2 6h0m13-386h0m-4 6h0m1 0h0m16 0h0m-15 2h0m6 2h0m6 1h0m-11 3h0m7 6h0m-6 1h0m13 1h0m-16 1h0m11 2h0m-7 2h0m-1 2h0m-1 2h0m9 1h0m-12 1h0m17 1h0m-8 2h0m-5 1h0m9 0h0m5 0h0m-19 1h0m18 2h0m-4 1h0m-12 1h0m-1 2h0m13 0h0m-1 0h0m-13 1h0m10 3h0m-7 1h0m12 0h0m-3 1h0m1 0h0m3 3h0m3 1h0m-18 287h0m0 3h0m5 1h0m0 0h0m3 0h0m-3 1h0m-1 0h0m2 0h0m-7 1h0m1 1h0m5 0h0m3 0h0m-5 1h0m1 0h0m10 0h0m-15 1h0m4 1h0m6 0h0m3 0h0m2 1h0m-13 1h0m9 1h0m-9 2h0m13 0h0m-1 2h0m1 1h0m-8 0h0m-5 1h0m10 4h0m-8 1h0m13 1h0m-17 1h0m8 1h0m-5 2h0m7 1h0m-8 5h0m7 11h0m26-378h0m-9 5h0m9 1h0m-13 0h0m-1 6h0m17 3h0m-17 1h0m13 1h0m-12 2h0m4 2h0m9 0h0m-6 2h0m-5 2h0m3 0h0m-2 4h0m-1 1h0m-2 1h0m13 0h0m2 1h0m2 0h0m-16 3h0m4 0h0m7 0h0m4 0h0m-16 1h0m10 0h0m0 0h0m5 0h0m1 0h0m-12 1h0m-3 1h0m-1 0h0m1 0h0m0 1h0m2 0h0m2 1h0m4 0h0m3 0h0m-2 1h0m7 1h0m-3 1h0m-16 1h0m1 1h0m3 0h0m11 0h0m-15 1h0m2 0h0m5 0h0m0 1h0m2 0h0m6 0h0m-5 1h0m2 1h0m1 1h0m-3 1h0m5 0h0m-1 2h0m-10 285h0m-3 6h0m4 1h0m5 1h0m5 0h0m-6 1h0m-5 4h0m1 1h0m-2 1h0m10 0h0m6 0h0m-15 2h0m12 0h0m-1 0h0m-2 0h0m-6 2h0m3 0h0m8 2h0m-10 2h0m7 1h0m-10 2h0m12 1h0m-17 1h0m3 1h0m5 5h0m2 2h0m7 0h0m-13 1h0m6 3h0m1 1h0m2 0h0m-2 2h0m18-375h0m-9 7h0m8 0h0m-7 1h0m-1 1h0m8 0h0m3 0h0m-3 1h0m-8 2h0m17 2h0m-3 4h0m5 2h0m-9 2h0m5 0h0m-6 1h0m-2 1h0m-4 0h0m-2 4h0m18 2h0m-3 2h0m-7 0h0m-5 1h0m11 0h0m-15 1h0m19 0h0m-18 1h0m4 0h0m-4 4h0m3 0h0m6 2h0m-7 2h0m8 0h0m-6 1h0m7 2h0m-12 1h0m1 1h0m5 1h0m0 2h0m6 1h0m5 0h0m-13 291h0m-3 1h0m2 1h0m4 1h0m0 2h0m3 0h0m2 2h0m-12 1h0m10 0h0m9 1h0m-16 0h0m13 3h0m-10 2h0m10 0h0m-1 0h0m-12 2h0m9 0h0m-1 0h0m5 0h0m1 1h0m-3 2h0m3 0h0m2 0h0m-17 3h0m10 1h0m3 0h0m0 0h0m-4 2h0m-1 1h0m5 2h0m-6 2h0m6 3h0m-9 4h0m13 15h0m6-390h0m-1 5h0m-4 2h0m5 1h0m12 9h0m-1 2h0m-13 4h0m4 0h0m-5 2h0m-2 1h0m2 0h0m13 0h0m-15 2h0m10 8h0m-5 2h0m14 0h0m0 1h0m-17 2h0m9 0h0m7 0h0m-10 1h0m8 0h0m-5 1h0m4 0h0m-7 1h0m-5 2h0m3 0h0m7 0h0m4 0h0m-9 1h0m-6 2h0m12 0h0m-7 1h0m-4 1h0m2 0h0m3 0h0m-5 0h0m11 1h0m5 1h0m-19 2h0m18 0h0m-9 2h0m1 1h0m7 4h0m-10 286h0m6 0h0m-11 1h0m-2 1h0m5 0h0m5 0h0m-4 2h0m-1 2h0m12 0h0m-13 1h0m10 0h0m3 0h0m-4 0h0m5 0h0m-4 2h0m-7 1h0m10 1h0m-13 1h0m6 0h0m4 0h0m2 0h0m3 0h0m-15 1h0m3 0h0m1 0h0m-5 2h0m-1 2h0m3 0h0m13 1h0m-9 1h0m-6 1h0m2 1h0m-4 1h0m-1 0h0m0 1h0m16 3h0m-12 3h0m-4 4h0m1 1h0m15 3h0m-6 4h0m8 6h0m1 2h0m10-380h0m-7 3h0m17 5h0m-18 3h0m17 1h0m-17 1h0m11 0h0m3 0h0m3 0h0m-4 2h0m-4 1h0m3 0h0m-12 7h0m13 1h0m2 0h0m-13 3h0m-2 1h0m2 1h0m1 0h0m7 0h0m7 1h0m-11 1h0m12 0h0m-4 1h0m4 1h0m0 0h0m-18 1h0m0 0h0m1 5h0m6 0h0m8 0h0m-15 1h0m9 0h0m3 0h0m6 0h0m-10 1h0m-3 1h0m3 0h0m1 2h0m3 1h0m-7 1h0m4 0h0m6 1h0m-4 2h0m4 3h0m-12 284h0m8 2h0m-11 2h0m9 0h0m3 2h0m-9 1h0m-3 0h0m2 0h0m4 0h0m3 0h0m6 0h0m-2 1h0m3 1h0m-15 2h0m4 0h0m-6 1h0m13 1h0m1 1h0m-6 1h0m-3 1h0m-3 1h0m10 0h0m7 0h0m-1 3h0m-14 2h0m14 0h0m-11 2h0m-3 1h0m0 3h0m7 5h0m3 1h0m4 2h0m-12 2h0m0 0h0m13 2h0m0 2h0m0 1h0m-6 4h0m19-377h0m-11 8h0m-1 2h0m12 0h0m-11 4h0m4 0h0m0 1h0m-5 1h0m3 0h0m6 2h0m7 0h0m-3 1h0m0 1h0m6 0h0m-3 2h0m0 0h0m-14 1h0m7 0h0m10 0h0m-14 2h0m12 2h0m-2 0h0m0 0h0m-12 1h0m9 1h0m5 1h0m-10 3h0m10 1h0m-16 1h0m10 0h0m-3 1h0m4 0h0m-9 1h0m14 2h0m-5 1h0m5 1h0m-16 1h0m5 0h0m-6 1h0m6 0h0m5 0h0m7 0h0m-10 1h0m-4 1h0m9 0h0m2 1h0m-14 1h0m7 0h0m6 0h0m-14 1h0m13 3h0m1 1h0m-1 0h0m6 0h0m-6 0h0m0 0h0m-13 288h0m3 1h0m1 1h0m6 0h0m-9 1h0m2 0h0m2 2h0m6 0h0m-2 1h0m-7 1h0m8 0h0m9 0h0m-2 1h0m-15 0h0m9 1h0m7 0h0m-8 1h0m4 1h0m-2 3h0m-9 1h0m11 1h0m-8 2h0m-1 0h0m11 0h0m-16 1h0m8 0h0m-2 2h0m3 1h0m-2 4h0m5 1h0m5 0h0m-11 1h0m4 8h0m2 0h0m-4 7h0m16-378h0m-1 1h0m6 2h0m4 4h0m-11 2h0m7 3h0m6 6h0m2 0h0m-3 1h0m-11 1h0m5 0h0m-5 3h0m-1 0h0m-1 0h0m11 1h0m-12 1h0m5 0h0m9 3h0m-14 2h0m4 0h0m-3 2h0m7 0h0m6 0h0m3 0h0m-6 2h0m-10 3h0m14 0h0m-1 2h0m-8 0h0m11 0h0m-16 1h0m3 1h0m0 1h0m7 0h0m-5 3h0m2 1h0m-1 1h0m4 0h0m4 1h0m-15 1h0m18 1h0m-16 1h0m-1 0h0m10 0h0m-8 2h0m16 1h0m-4 5h0m3 0h0m1 0h0m-15 282h0m4 4h0m4 2h0m4 0h0m-11 0h0m4 2h0m-5 1h0m-2 1h0m8 0h0m-4 2h0m-3 1h0m7 0h0m9 3h0m-5 4h0m-9 1h0m14 1h0m-1 1h0m-2 3h0m-4 1h0m0 5h0m-2 0h0m0 0h0m-2 2h0m-5 2h0m4 0h0m1 1h0m6 5h0m6-373h0m19 3h0m-16 3h0m12 5h0m3 0h0m-14 6h0m2 3h0m10 2h0m-10 1h0m12 0h0m-17 2h0m0 4h0m2 1h0m3 2h0m8 0h0m-8 1h0m4 0h0m5 0h0m4 2h0m-15 1h0m9 0h0m1 1h0m0 1h0m1 3h0m-7 1h0m1 0h0m-7 1h0m1 2h0m6 0h0m-7 2h0m2 1h0m3 0h0m8 3h0m0 2h0m-12 285h0m5 4h0m4 2h0m-2 0h0m-6 1h0m12 2h0m-5 1h0m-2 0h0m8 1h0m0 1h0m-5 1h0m-8 1h0m15 1h0m0 1h0m-19 1h0m5 1h0m1 0h0m10 0h0m-1 0h0m-2 1h0m-11 1h0m0 0h0m2 1h0m5 0h0m-9 2h0m15 3h0m-2 0h0m1 2h0m3 0h0m-3 3h0m-2 10h0m-6 4h0m10 6h0m18-380h0m3 1h0m-12 5h0m1 2h0m12 2h0m-10 1h0m10 7h0m-11 1h0m-3 1h0m10 2h0m1 0h0m-13 2h0m7 0h0m0 2h0m10 1h0m-19 2h0m0 2h0m7 1h0m-6 1h0m13 0h0m-11 1h0m14 0h0m-1 1h0m-13 3h0m14 0h0m-14 1h0m7 0h0m-7 1h0m-2 1h0m4 2h0m-4 1h0m11 1h0m1 0h0m0 0h0m3 1h0m3 0h0m-1 2h0m-7 1h0m0 0h0m4 2h0m-13 288h0m3 2h0m5 2h0m4 0h0m-8 5h0m3 3h0m4 0h0m-6 2h0m-4 1h0m15 3h0m-9 1h0m9 3h0m-15 1h0m8 0h0m4 0h0m-15 1h0m1 2h0m2 7h0m-1 7h0m5 3h0m14-386h0m9 10h0m4 2h0m-10 3h0m5 4h0m2 6h0m-2 0h0m-2 2h0m0 3h0m-6 3h0m18 0h0m-5 1h0m-5 1h0m-3 1h0m3 3h0m2 0h0m1 1h0m1 0h0m-2 1h0m-6 1h0m-2 1h0m1 0h0m-2 1h0m15 3h0m0 1h0m1 0h0m-16 1h0m13 0h0m-14 1h0m12 0h0m2 0h0m1 1h0m-14 2h0m11 0h0m0 0h0m-8 1h0m3 0h0m4 1h0m-10 2h0m10 0h0m-3 0h0m10 1h0m-14 1h0m-1 1h0m12 1h0m-6 287h0m-6 1h0m5 0h0m-9 1h0m7 0h0m-7 1h0m11 1h0m6 0h0m-8 1h0m10 0h0m-13 1h0m2 2h0m4 0h0m7 0h0m-2 0h0m-9 2h0m1 0h0m10 0h0m-1 1h0m-7 1h0m-11 1h0m11 0h0m-1 1h0m5 1h0m1 0h0m-1 1h0m1 0h0m-11 1h0m4 1h0m-1 1h0m9 0h0m-17 3h0m9 0h0m6 1h0m-13 1h0m1 4h0m6 2h0m2 0h0m-6 1h0m10 5h0m-6 5h0m16-387h0m-4 11h0m13 1h0m-6 2h0m3 6h0m5 0h0m-11 1h0m14 3h0m-11 2h0m11 2h0m-1 0h0m-18 4h0m2 0h0m0 2h0m9 0h0m-10 2h0m11 0h0m0 2h0m6 0h0m1 0h0m-12 1h0m5 2h0m4 0h0m3 5h0m-4 1h0m-13 2h0m4 0h0m-1 0h0m-1 1h0m6 1h0m5 1h0m2 0h0m-5 2h0m-5 1h0m5 0h0m-9 3h0m16 2h0m-4 2h0m-3 2h0m4 0h0m-4 1h0m-2 0h0m-1 0h0m5 1h0m4 0h0m-18 285h0m4 2h0m-2 1h0m8 1h0m4 0h0m-14 1h0m3 0h0m0 0h0m5 0h0m5 1h0m1 1h0m1 2h0m-3 1h0m0 1h0m-7 2h0m7 0h0m2 0h0m0 0h0m-6 1h0m-3 1h0m-1 2h0m14 2h0m-2 2h0m-10 3h0m8 0h0m-10 1h0m8 1h0m1 1h0m-4 0h0m-4 1h0m-3 0h0m5 0h0m9 1h0m1 2h0m-4 1h0m-5 3h0m7 2h0m-4 4h0m7 1h0m15-370h0m-5 2h0m11 3h0m-11 1h0m-2 3h0m2 2h0m7 1h0m-9 2h0m11 1h0m-6 3h0m-2 0h0m-1 1h0m1 3h0m-1 0h0m3 1h0m3 0h0m-13 1h0m6 0h0m0 1h0m-7 2h0m7 1h0m-1 2h0m-1 0h0m1 0h0m5 0h0m-1 0h0m-9 2h0m6 0h0m7 0h0m-14 2h0m16 0h0m-2 0h0m-9 1h0m1 2h0m12 0h0m1 0h0m-19 5h0m15 0h0m1 0h0m-3 0h0m-2 1h0m-2 0h0m10 0h0m-19 1h0m1 0h0m1 0h0m17 3h0m-12 1h0m5 0h0m-1 0h0m2 1h0m-4 1h0m6 0h0m-6 1h0m-8 286h0m2 0h0m3 0h0m2 1h0m-5 1h0m-1 0h0m12 1h0m2 0h0m-2 2h0m2 0h0m-15 2h0m18 0h0m-5 1h0m3 0h0m-11 3h0m7 0h0m-5 1h0m3 1h0m1 0h0m-12 2h0m9 0h0m1 1h0m5 0h0m4 1h0m-16 1h0m-1 1h0m7 2h0m-5 1h0m15 0h0m-11 1h0m5 0h0m2 0h0m-10 5h0m2 2h0m6 0h0m-3 3h0m1 2h0m-9 2h0m10 21h0m27-381h0m-10 2h0m4 1h0m-5 2h0m0 1h0m-8 1h0m11 4h0m7 2h0m-13 2h0m11 3h0m-2 0h0m-10 1h0m7 2h0m-9 3h0m0 1h0m11 1h0m1 0h0m-13 1h0m1 1h0m11 0h0m2 1h0m-2 2h0m-7 1h0m13 0h0m-10 1h0m2 0h0m7 1h0m0 0h0m1 0h0m-4 1h0m-15 1h0m1 0h0m5 0h0m3 0h0m9 0h0m-3 2h0m-13 1h0m16 1h0m-4 2h0m2 2h0m-14 286h0m4 0h0m-4 3h0m10 2h0m3 0h0m2 0h0m2 2h0m-2 0h0m-16 0h0m2 3h0m11 0h0m-9 1h0m6 0h0m-2 1h0m1 1h0m7 1h0m0 0h0m-12 1h0m-5 1h0m19 0h0m-19 3h0m0 0h0m1 1h0m14 0h0m-6 2h0m5 0h0m0 0h0m-11 1h0m5 1h0m3 2h0m3 0h0m-14 1h0m15 2h0m-3 2h0m3 5h0m-4 25h0m11-394h0m8 3h0m2 3h0m4 0h0m-5 1h0m-6 2h0m-3 7h0m16 1h0m-11 1h0m0 1h0m11 0h0m-5 2h0m-12 2h0m11 0h0m5 0h0m-8 2h0m-9 1h0m5 0h0m3 1h0m2 3h0m-8 1h0m11 0h0m-7 3h0m-5 1h0m-1 2h0m18 0h0m-14 1h0m0 0h0m4 0h0m3 2h0m-2 1h0m5 0h0m0 0h0m5 1h0m-11 2h0m10 0h0m-6 1h0m4 0h0m0 0h0m-4 1h0m-6 2h0m12 0h0m-5 0h0m6 1h0m-8 1h0m5 0h0m-6 2h0m-9 289h0m3 0h0m8 1h0m1 0h0m-4 1h0m-2 4h0m7 0h0m3 0h0m-5 1h0m5 0h0m-17 3h0m16 0h0m-4 1h0m-9 3h0m5 0h0m3 0h0m3 0h0m3 5h0m-5 1h0m-6 1h0m-5 1h0m6 0h0m-7 2h0m10 2h0m8 0h0m1 4h0m-3 5h0m-3 6h0m6 9h0m-15 9h0m28-398h0m-10 2h0m6 1h0m-5 3h0m-1 1h0m5 2h0m-3 4h0m-1 2h0m14 4h0m-6 2h0m-7 6h0m12 4h0m-12 1h0m5 1h0m10 1h0m-17 1h0m-1 0h0m1 0h0m-2 1h0m14 1h0m-12 2h0m9 0h0m-7 1h0m0 0h0m-1 2h0m-2 0h0m2 0h0m3 1h0m7 0h0m-5 1h0m-4 1h0m-1 0h0m3 0h0m5 2h0m-10 1h0m9 0h0m-8 1h0m12 0h0m-9 1h0m4 0h0m10 0h0m-10 1h0m2 0h0m-6 1h0m11 1h0m-3 0h0m1 0h0m5 3h0m-1 1h0m-5 1h0m-12 284h0m7 1h0m0 0h0m8 1h0m-11 1h0m4 1h0m-7 1h0m15 1h0m1 0h0m-1 0h0m2 0h0m-2 0h0m-17 1h0m14 0h0m-9 2h0m1 0h0m3 0h0m5 0h0m-11 2h0m3 0h0m-3 1h0m7 2h0m7 0h0m1 1h0m0 0h0m-8 1h0m2 0h0m1 0h0m-8 6h0m1 5h0m5 1h0m-8 2h0m14 2h0m-4 3h0m-4 0h0m10 0h0m-4 1h0m0 0h0m-7 3h0m9 0h0m17-374h0m0 1h0m-7 1h0m-7 5h0m10 1h0m-6 5h0m3 6h0m-2 0h0m0 1h0m-4 1h0m17 0h0m-18 2h0m18 0h0m-8 2h0m-6 6h0m3 0h0m11 0h0m-10 1h0m-1 0h0m-1 2h0m13 1h0m-18 1h0m14 0h0m-6 1h0m-1 1h0m4 1h0m6 0h0m-11 0h0m9 1h0m3 2h0m-15 2h0m11 3h0m-1 0h0m4 1h0m-7 1h0m5 1h0m-10 1h0m12 0h0m-3 2h0m3 0h0m-6 1h0m-3 285h0m-2 0h0m-7 1h0m0 0h0m1 0h0m3 2h0m8 2h0m-1 2h0m-8 2h0m7 0h0m6 0h0m3 0h0m-2 2h0m1 1h0m-1 2h0m2 0h0m-19 2h0m4 0h0m6 0h0m1 1h0m7 1h0m-18 1h0m14 2h0m3 0h0m-9 1h0m11 3h0m-19 2h0m8 0h0m4 1h0m1 2h0m-7 1h0m0 1h0m0 0h0m13 0h0m0 1h0m-14 2h0m-3 2h0m8 0h0m-9 4h0m32-384h0m-1 17h0m3 3h0m-12 3h0m12 3h0m-1 3h0m-13 3h0m16 1h0m-14 2h0m4 2h0m-3 1h0m1 0h0m4 0h0m9 2h0m-3 2h0m-14 2h0m13 1h0m0 0h0m-6 1h0m8 1h0m-6 1h0m5 0h0m-8 2h0m-7 1h0m2 0h0m-2 0h0m6 1h0m5 0h0m-2 0h0m4 0h0m-2 1h0m5 0h0m-1 0h0m1 1h0m-5 1h0m6 1h0m-11 3h0m5 1h0m3 0h0m-5 1h0m5 0h0m2 1h0m3 1h0m-1 3h0m-15 283h0m9 0h0m-10 4h0m12 0h0m-5 2h0m1 0h0m-7 1h0m2 0h0m0 0h0m-3 1h0m16 1h0m-15 1h0m4 0h0m5 1h0m-6 1h0m4 0h0m-1 1h0m6 0h0m-13 7h0m12 7h0m3 5h0m-7 4h0m-4 2h0m-4 14h0m18-387h0m5 7h0m9 0h0m-14 3h0m4 7h0m7 1h0m6 1h0m-5 4h0m5 1h0m-16 1h0m15 4h0m-5 0h0m-9 4h0m-1 2h0m11 0h0m-2 1h0m-8 3h0m5 0h0m0 1h0m9 0h0m-10 1h0m1 1h0m5 1h0m4 2h0m-3 0h0m-3 1h0m0 0h0m2 1h0m4 1h0m-13 2h0m0 0h0m10 0h0m-1 1h0m7 1h0m-16 1h0m10 2h0m3 1h0m-2 1h0m5 0h0m-14 281h0m-1 2h0m-2 0h0m3 0h0m0 0h0m9 1h0m-3 1h0m-3 1h0m4 0h0m-9 1h0m-2 0h0m7 0h0m10 1h0m-8 1h0m-3 1h0m9 2h0m2 0h0m-16 3h0m8 0h0m1 1h0m3 1h0m-10 1h0m-2 3h0m-1 2h0m18 4h0m-19 2h0m6 2h0m1 1h0m-4 14h0m32-382h0m-4 5h0m4 4h0m3 2h0m-14 2h0m6 0h0m-6 2h0m-3 1h0m13 0h0m-8 2h0m0 8h0m11 0h0m1 0h0m-2 3h0m1 0h0m-16 1h0m0 2h0m17 0h0m-13 2h0m4 1h0m7 0h0m3 1h0m0 2h0m-9 2h0m9 1h0m-10 1h0m-1 1h0m-3 0h0m-2 3h0m6 2h0m-7 0h0m10 1h0m-2 4h0m1 1h0m0 1h0m4 0h0m-11 1h0m6 2h0m3 1h0m5 0h0m-15 1h0m2 0h0m7 0h0m-7 281h0m1 0h0m-1 2h0m2 1h0m-6 1h0m14 1h0m-15 1h0m0 0h0m2 0h0m4 1h0m0 0h0m9 1h0m3 1h0m-4 2h0m-4 0h0m7 0h0m-1 1h0m-12 2h0m8 0h0m1 1h0m3 0h0m-13 0h0m5 1h0m1 6h0m-3 1h0m9 0h0m3 3h0m-17 5h0m-1 0h0m15 2h0m-12 4h0m11 2h0m2 2h0m-3 4h0m18-380h0m-11 20h0m19 2h0m-17 1h0m4 1h0m11 1h0m-2 1h0m-5 3h0m-1 2h0m1 0h0m-9 4h0m5 1h0m-6 1h0m12 1h0m-10 1h0m1 0h0m14 0h0m-6 2h0m5 0h0m-1 0h0m-10 2h0m8 1h0m-11 3h0m5 0h0m11 0h0m-13 2h0m0 1h0m7 0h0m-12 0h0m11 0h0m-6 6h0m10 0h0m-3 1h0m-10 1h0m10 0h0m-2 0h0m9 1h0m-7 1h0m1 1h0m-8 279h0m-1 1h0m-3 1h0m3 1h0m4 0h0m10 0h0m-6 1h0m-10 2h0m5 0h0m-4 1h0m14 2h0m-9 2h0m-4 2h0m-1 1h0m0 0h0m6 0h0m10 0h0m-19 1h0m6 0h0m10 0h0m-14 1h0m-1 1h0m13 1h0m0 2h0m1 1h0m2 0h0m-13 1h0m13 0h0m-16 1h0m-1 1h0m15 7h0m4 1h0m-19 6h0m4 4h0m13 1h0m-16 2h0m11 3h0m8-382h0m2 4h0m10 2h0m7 7h0m0 0h0m-5 6h0m-11 2h0m14 0h0m-11 3h0m-4 2h0m3 0h0m-4 1h0m-1 5h0m12 0h0m6 4h0m-14 0h0m12 0h0m-4 2h0m-4 1h0m6 2h0m-3 1h0m-5 1h0m10 0h0m-4 2h0m-12 3h0m11 0h0m-10 2h0m2 1h0m-1 0h0m7 0h0m-7 2h0m-2 1h0m3 0h0m11 0h0m1 1h0m4 0h0m-9 1h0m-5 0h0m0 2h0m8 0h0m2 0h0m-2 1h0m0 0h0m2 1h0m-10 278h0m4 2h0m-4 1h0m1 0h0m5 0h0m6 0h0m-17 1h0m4 1h0m-2 1h0m-2 0h0m9 0h0m4 0h0m0 0h0m-5 1h0m6 1h0m-14 2h0m1 2h0m8 0h0m2 2h0m0 0h0m3 3h0m-11 1h0m8 4h0m3 2h0m-4 3h0m-6 1h0m10 0h0m-10 2h0m11 0h0m-12 2h0m4 0h0m1 0h0m4 0h0m2 2h0m-3 17h0m1 5h0m27-383h0m-16 18h0m6 0h0m8 2h0m-16 1h0m7 0h0m2 0h0m-10 0h0m9 1h0m-7 1h0m-2 2h0m3 1h0m15 0h0m-11 1h0m8 2h0m-9 4h0m10 0h0m-1 1h0m-15 1h0m7 1h0m4 0h0m3 1h0m-12 1h0m7 0h0m3 0h0m-6 2h0m-3 2h0m2 0h0m5 0h0m-10 1h0m2 1h0m9 0h0m-11 1h0m14 1h0m-8 1h0m1 3h0m5 2h0m-4 280h0m7 1h0m1 1h0m-4 1h0m-2 0h0m6 0h0m-2 5h0m0 1h0m3 1h0m-16 2h0m10 0h0m-10 1h0m16 0h0m1 3h0m-14 1h0m11 1h0m-11 2h0m5 4h0m-3 1h0m8 3h0m3 1h0m-7 2h0m4 1h0m5 1h0m-19 0h0m17 3h0m-5 1h0m0 5h0m2 9h0m-6 2h0m19-390h0m11 4h0m0 10h0m-14 9h0m11 1h0m-14 2h0m0 1h0m14 0h0m-14 3h0m17 0h0m-7 2h0m1 0h0m5 1h0m-17 1h0m7 1h0m-3 2h0m7 0h0m-10 2h0m12 0h0m4 0h0m0 0h0m-3 2h0m-11 2h0m4 1h0m3 0h0m-2 1h0m4 1h0m0 1h0m-4 1h0m1 0h0m1 1h0m-5 2h0m11 0h0m1 1h0m-17 1h0m4 0h0m8 1h0m7 0h0m-1 0h0m-9 1h0m1 0h0m2 2h0m4 0h0m2 1h0m-7 0h0m-8 1h0m1 1h0m-2 0h0m-1 0h0m7 0h0m2 0h0m6 0h0m-11 1h0m-3 278h0m2 0h0m7 0h0m-7 1h0m-4 2h0m8 1h0m-7 1h0m12 0h0m6 0h0m-3 2h0m-9 1h0m2 1h0m3 1h0m7 1h0m-1 1h0m-18 1h0m13 0h0m-4 1h0m3 1h0m1 0h0m4 3h0m1 2h0m-10 2h0m-1 4h0m2 0h0m3 1h0m-2 0h0m8 0h0m-17 2h0m10 0h0m6 0h0m0 1h0m-16 2h0m3 1h0m15 3h0m-10 1h0m5 0h0m1 1h0m18-365h0m-3 1h0m-8 2h0m4 1h0m-3 3h0m5 1h0m4 0h0m-6 3h0m-3 4h0m7 1h0m-5 2h0m2 1h0m10 0h0m-2 1h0m3 0h0m-10 1h0m-8 1h0m1 0h0m13 0h0m-3 1h0m-1 0h0m8 0h0m-14 2h0m3 0h0m6 0h0m6 1h0m0 1h0m-2 0h0m-11 1h0m7 0h0m-6 1h0m4 2h0m3 0h0m-10 1h0m7 0h0m-5 1h0m-3 1h0m11 1h0m-7 3h0m-6 2h0m17 0h0m-17 2h0m15 1h0m-16 1h0m4 1h0m8 0h0m-9 1h0m0 0h0m12 0h0m-12 3h0m10 1h0m-8 1h0m0 1h0m12 0h0m2 2h0m-1 2h0m-10 274h0m2 0h0m2 0h0m-2 0h0m6 1h0m-9 3h0m3 1h0m-6 1h0m14 2h0m-2 1h0m-12 2h0m11 0h0m4 1h0m-16 3h0m5 0h0m5 0h0m2 0h0m-9 1h0m10 5h0m-10 1h0m11 1h0m2 2h0m-15 4h0m2 4h0m9 0h0m-9 12h0m7 12h0m-4 3h0m23-386h0m6 6h0m-16 3h0m-1 2h0m0 1h0m6 1h0m-6 3h0m12 1h0m-8 1h0m5 6h0m-8 1h0m4 1h0m7 2h0m-10 4h0m15 0h0m-15 2h0m15 1h0m-3 1h0m-13 1h0m10 0h0m-2 0h0m-1 0h0m2 2h0m-6 1h0m11 0h0m-1 2h0m-10 1h0m1 0h0m6 2h0m-8 1h0m-1 0h0m7 0h0m6 0h0m-5 1h0m-7 3h0m1 2h0m7 0h0m-1 0h0m1 278h0m-6 1h0m4 1h0m-6 1h0m15 1h0m-7 1h0m-12 1h0m2 0h0m13 1h0m-13 1h0m3 2h0m2 0h0m8 1h0m1 0h0m-5 1h0m8 3h0m-18 3h0m6 0h0m4 1h0m5 0h0m-7 2h0m-2 3h0m3 1h0m-2 9h0m7 1h0m-15 5h0m2 3h0m16 7h0m17-364h0m-14 1h0m9 1h0m-10 1h0m5 0h0m-5 3h0m8 1h0m7 1h0m-4 6h0m3 1h0m-7 2h0m-5 1h0m5 4h0m5 2h0m-5 1h0m-2 1h0m10 0h0m-14 1h0m0 0h0m12 0h0m3 3h0m-14 1h0m3 0h0m7 0h0m-8 1h0m8 2h0m-6 3h0m11 1h0m2 0h0m-1 0h0m-18 2h0m2 0h0m6 0h0m-5 1h0m3 0h0m0 0h0m-6 278h0m9 0h0m-5 1h0m-3 0h0m10 1h0m6 0h0m-17 1h0m17 1h0m-13 3h0m-1 2h0m12 0h0m4 0h0m-12 1h0m5 1h0m-3 1h0m0 0h0m5 2h0m-14 1h0m2 0h0m-1 0h0m8 0h0m-6 1h0m16 0h0m0 3h0m-9 2h0m-3 1h0m6 2h0m-10 5h0m9 1h0m-4 7h0m3 3h0m-5 1h0m1 13h0m13-387h0m14 7h0m-9 2h0m-1 3h0m-3 1h0m18 1h0m-7 1h0m-4 2h0m3 1h0m-10 4h0m15 3h0m-8 1h0m2 0h0m9 0h0m-18 1h0m3 2h0m13 1h0m-16 4h0m15 0h0m-13 1h0m10 0h0m-10 1h0m-3 0h0m0 2h0m7 0h0m6 0h0m5 0h0m-7 1h0m5 1h0m-11 0h0m13 0h0m-16 1h0m14 0h0m-5 4h0m-1 0h0m-9 1h0m4 1h0m4 1h0m9 0h0m-16 2h0m12 0h0m-13 1h0m0 0h0m1 1h0m1 0h0m4 0h0m6 4h0m0 0h0m-1 1h0m-2 0h0m-6 2h0m8 0h0m-1 0h0m4 0h0m4 0h0m-15 1h0m10 0h0m4 278h0m-1 1h0m0 1h0m-5 1h0m-4 1h0m7 0h0m4 0h0m-14 1h0m6 0h0m-2 0h0m5 1h0m-9 1h0m1 1h0m11 0h0m-8 1h0m0 0h0m6 1h0m-4 3h0m-6 1h0m14 2h0m-10 3h0m3 0h0m-10 2h0m4 1h0m12 1h0m-4 1h0m2 1h0m-16 3h0m14 5h0m3 1h0m-16 11h0m18 3h0m-10 2h0m13-370h0m4 1h0m-5 1h0m7 1h0m-4 1h0m11 0h0m3 3h0m-16 1h0m11 0h0m4 2h0m-5 3h0m7 0h0m-8 1h0m3 1h0m-2 4h0m5 1h0m-1 2h0m1 5h0m0 2h0m-10 1h0m-2 3h0m10 0h0m-5 2h0m-4 2h0m-3 1h0m16 0h0m-5 2h0m-13 1h0m17 0h0m-18 1h0m12 0h0m7 1h0m0 0h0m-1 0h0m-9 275h0m8 2h0m-1 1h0m-10 1h0m7 0h0m-5 0h0m-6 1h0m5 0h0m6 0h0m-3 1h0m9 0h0m-9 2h0m-6 3h0m1 3h0m2 1h0m9 1h0m-9 4h0m-1 1h0m7 8h0m-6 2h0m10 7h0m1 2h0m-14 3h0m1 2h0m-5 8h0m0 3h0m10 1h0m25-393h0m4 10h0m-10 8h0m6 0h0m-1 1h0m5 8h0m-5 3h0m-13 2h0m8 0h0m-9 1h0m7 0h0m3 0h0m7 2h0m-17 1h0m9 4h0m6 3h0m0 1h0m-6 5h0m-4 1h0m-2 1h0m1 0h0m1 0h0m-2 1h0m-3 2h0m0 0h0m2 0h0m7 0h0m-3 3h0m9 0h0m-4 1h0m-8 1h0m8 0h0m-3 1h0m-5 1h0m13 1h0m-2 1h0m0 0h0m-9 1h0m0 276h0m13 1h0m-7 1h0m8 0h0m-15 1h0m8 0h0m2 0h0m-13 1h0m6 0h0m-4 1h0m1 3h0m1 0h0m-4 0h0m-1 1h0m10 0h0m1 0h0m-2 0h0m7 0h0m-6 3h0m5 1h0m-5 3h0m0 1h0m-9 2h0m11 0h0m-1 0h0m4 0h0m-2 2h0m-12 1h0m10 0h0m0 3h0m2 3h0m-6 7h0m5 0h0m6 0h0m-2 1h0m-5 2h0m2 1h0m11-364h0m13 7h0m-4 1h0m-9 1h0m2 3h0m13 1h0m-12 2h0m11 2h0m-2 1h0m-9 1h0m7 0h0m3 0h0m-7 4h0m-7 1h0m10 0h0m-10 2h0m0 1h0m16 2h0m-15 1h0m0 0h0m10 0h0m-3 1h0m-2 2h0m-8 0h0m12 1h0m-6 1h0m1 3h0m4 0h0m7 0h0m-17 3h0m9 0h0m-2 3h0m-2 1h0m0 0h0m-4 1h0m3 1h0m2 6h0m5 0h0m-13 272h0m4 0h0m5 2h0m1 0h0m-2 1h0m3 0h0m4 0h0m-15 2h0m12 2h0m-3 1h0m5 1h0m5 0h0m-4 1h0m-11 2h0m7 0h0m0 0h0m1 0h0m6 6h0m1 3h0m-17 4h0m7 1h0m9 2h0m-7 4h0m-1 1h0m8 2h0m-1 3h0m-14 4h0m31-360h0m5 0h0m-16 1h0m7 3h0m-3 9h0m3 1h0m2 0h0m-12 2h0m17 3h0m-16 1h0m18 2h0m-11 0h0m-8 1h0m11 0h0m-3 1h0m9 1h0m-6 1h0m-9 1h0m-1 0h0m5 0h0m7 0h0m-3 1h0m6 2h0m-8 2h0m-6 2h0m16 0h0m-16 3h0m9 1h0m-6 0h0m2 0h0m12 2h0m-9 1h0m-7 1h0m16 0h0m-5 1h0m2 0h0m-9 1h0m-3 2h0m5 0h0m5 1h0m-1 0h0m1 0h0m0 1h0m4 0h0m-17 273h0m1 0h0m2 0h0m2 2h0m4 0h0m8 0h0m-10 1h0m0 0h0m10 0h0m-14 1h0m11 0h0m-7 1h0m-5 0h0m0 1h0m11 0h0m-4 1h0m-10 1h0m7 0h0m-6 3h0m0 1h0m-1 0h0m8 1h0m1 1h0m5 2h0m3 0h0m2 0h0m-16 1h0m13 1h0m-11 1h0m0 1h0m4 0h0m4 0h0m5 0h0m-5 1h0m-2 1h0m-10 2h0m1 3h0m1 0h0m4 3h0m9 8h0m-6 4h0m4 5h0m-10 3h0m23-375h0m10 2h0m-16 12h0m4 1h0m9 1h0m-2 1h0m6 0h0m-12 1h0m0 0h0m12 2h0m-18 1h0m4 0h0m1 0h0m-1 2h0m6 1h0m6 0h0m-11 1h0m0 0h0m10 1h0m-6 1h0m-9 1h0m5 0h0m1 2h0m5 0h0m2 5h0m-4 0h0m6 0h0m-4 1h0m2 0h0m4 0h0m-4 0h0m6 1h0m-19 2h0m12 0h0m-5 2h0m-3 3h0m10 2h0m2 1h0m-16 1h0m9 0h0m-9 1h0m5 0h0m7 0h0m4 0h0m-1 1h0m4 0h0m-14 0h0m-3 1h0m11 0h0m-13 1h0m4 0h0m4 0h0m9 0h0m-10 2h0m-6 273h0m2 0h0m1 1h0m2 0h0m3 1h0m6 0h0m2 0h0m-14 1h0m9 0h0m5 0h0m-1 1h0m3 1h0m-11 1h0m11 0h0m-5 1h0m-8 1h0m1 1h0m-6 1h0m8 0h0m-1 1h0m-8 1h0m3 0h0m-2 0h0m4 0h0m2 0h0m-1 1h0m10 0h0m-3 1h0m-12 1h0m16 1h0m-15 1h0m14 0h0m1 0h0m-3 1h0m-8 1h0m-3 1h0m-1 6h0m17 1h0m-9 2h0m-1 2h0m-6 1h0m15 4h0m-6 7h0m-12 4h0m12 2h0m26-380h0m-9 10h0m-8 11h0m11 2h0m-9 2h0m-2 1h0m2 1h0m6 1h0m1 2h0m5 0h0m-1 1h0m4 3h0m-17 2h0m0 0h0m5 0h0m0 2h0m-6 3h0m2 1h0m6 1h0m9 3h0m-2 1h0m3 4h0m-18 1h0m11 0h0m-1 1h0m-2 1h0m-1 1h0m4 0h0m-1 0h0m-6 2h0m2 0h0m0 0h0m9 0h0m3 0h0m-8 1h0m-8 2h0m0 0h0m8 0h0m-1 0h0m5 0h0m2 0h0m1 0h0m-9 1h0m8 0h0m-10 1h0m-5 269h0m3 0h0m5 1h0m-3 0h0m-4 1h0m7 3h0m7 1h0m-6 2h0m-3 1h0m1 0h0m8 0h0m-5 2h0m0 5h0m-6 1h0m-2 0h0m3 0h0m13 0h0m-10 2h0m-3 1h0m0 1h0m8 0h0m-6 1h0m10 2h0m0 1h0m-18 1h0m2 0h0m4 4h0m5 0h0m4 4h0m2 9h0m-5 8h0m18-380h0m4 8h0m-12 2h0m4 0h0m-1 9h0m3 2h0m8 11h0m1 1h0m-3 1h0m-7 1h0m6 2h0m-13 2h0m3 3h0m2 3h0m-2 0h0m9 4h0m-3 2h0m1 2h0m-3 1h0m10 0h0m-7 1h0m1 0h0m6 0h0m-1 2h0m2 0h0m-5 3h0m1 0h0m4 0h0m-3 2h0m-4 1h0m-4 1h0m3 268h0m-1 0h0m-5 2h0m-1 1h0m-2 2h0m1 1h0m4 0h0m9 11h0m-1 2h0m3 0h0m-4 1h0m4 0h0m-11 0h0m-3 1h0m0 1h0m15 1h0m-16 1h0m-1 1h0m18 0h0m-17 1h0m2 0h0m5 2h0m3 3h0m-2 1h0m-1 2h0m0 2h0m-5 2h0m0 1h0m13 0h0m-15 4h0m16 2h0m0 6h0m-14 1h0m1 8h0m21-394h0m-2 6h0m12 4h0m2 2h0m-4 5h0m-12 3h0m11 5h0m-8 1h0m0 1h0m3 0h0m-3 4h0m3 0h0m4 3h0m-7 0h0m1 2h0m6 0h0m1 1h0m5 0h0m1 1h0m-11 3h0m-4 1h0m4 0h0m6 3h0m-12 1h0m8 0h0m-7 2h0m0 0h0m16 0h0m-4 1h0m-12 6h0m14 0h0m-2 0h0m-8 1h0m11 0h0m-6 1h0m0 0h0m5 3h0m2 1h0m-16 2h0m13 0h0m-7 3h0m1 273h0m5 1h0m-15 1h0m15 1h0m-6 3h0m5 0h0m-10 1h0m3 0h0m-4 1h0m15 0h0m-3 1h0m-1 0h0m2 0h0m-14 1h0m4 0h0m-4 2h0m13 0h0m-11 1h0m7 0h0m7 1h0m-16 1h0m6 4h0m1 3h0m3 2h0m-7 1h0m6 3h0m1 0h0m2 2h0m0 0h0m5 1h0m-5 0h0m-7 1h0m-2 6h0m-3 1h0m15 8h0m-14 2h0m0 9h0m35-377h0m-14 1h0m8 0h0m-12 3h0m2 1h0m14 4h0m-7 1h0m8 1h0m-14 2h0m13 3h0m-4 1h0m-9 1h0m1 4h0m8 1h0m-1 0h0m3 1h0m3 0h0m-4 0h0m5 4h0m-11 1h0m-3 1h0m15 2h0m-16 1h0m6 1h0m-5 1h0m-1 0h0m14 0h0m-1 0h0m-12 2h0m9 0h0m-2 1h0m-1 0h0m-9 0h0m11 0h0m-12 3h0m3 1h0m7 0h0m-5 3h0m1 5h0m1 0h0m-1 0h0m13 265h0m-11 1h0m0 0h0m10 0h0m0 1h0m-2 1h0m-5 0h0m-4 1h0m1 1h0m1 1h0m2 0h0m-7 2h0m1 1h0m8 0h0m-12 2h0m0 1h0m10 0h0m8 0h0m-3 2h0m-12 1h0m8 0h0m1 1h0m5 0h0m-18 1h0m14 0h0m-13 2h0m9 1h0m2 0h0m1 0h0m5 3h0m-13 2h0m14 2h0m-11 6h0m8 1h0m-1 3h0m1 11h0m2 5h0m-1 2h0m-11 7h0m19-385h0m14 1h0m-17 7h0m6 2h0m-2 1h0m12 3h0m-17 1h0m9 5h0m-9 5h0m3 1h0m1 1h0m-1 1h0m5 0h0m-2 1h0m9 1h0m-5 4h0m0 0h0m-10 2h0m4 2h0m2 1h0m-7 1h0m0 1h0m1 0h0m1 0h0m11 0h0m-9 1h0m14 0h0m-10 3h0m4 1h0m-6 2h0m13 0h0m-17 3h0m10 0h0m1 0h0m-2 1h0m2 0h0m4 0h0m2 0h0m-15 1h0m2 2h0m4 0h0m8 1h0m-6 1h0m6 0h0m-16 1h0m14 264h0m-9 2h0m7 0h0m-12 3h0m8 0h0m6 3h0m2 0h0m-2 0h0m-2 1h0m-7 3h0m11 0h0m-13 2h0m1 0h0m-2 1h0m-1 1h0m8 0h0m1 3h0m3 1h0m-12 1h0m3 1h0m10 2h0m-9 0h0m4 0h0m-11 1h0m10 1h0m4 1h0m-8 3h0m-2 2h0m7 0h0m8 1h0m-14 1h0m7 0h0m-9 3h0m10 5h0m-3 1h0m4 18h0m-2 7h0m11-391h0m12 1h0m0 1h0m-14 2h0m3 3h0m-2 4h0m4 3h0m9 5h0m-1 1h0m-4 1h0m-4 7h0m-3 1h0m4 0h0m8 1h0m-1 6h0m-12 1h0m13 2h0m-9 0h0m8 1h0m-12 4h0m11 0h0m0 0h0m-11 1h0m3 0h0m-5 1h0m4 0h0m8 2h0m-2 1h0m4 0h0m1 0h0m-2 1h0m1 0h0m0 1h0m-7 0h0m4 0h0m1 1h0m-12 1h0m2 1h0m4 0h0m-5 2h0m2 0h0m4 0h0m8 0h0m-9 1h0m-6 1h0m13 0h0m-9 2h0m11 0h0m-7 1h0m7 0h0m-1 0h0m-13 263h0m5 0h0m-2 1h0m4 0h0m-5 2h0m7 0h0m2 1h0m-7 1h0m-1 1h0m1 0h0m8 0h0m0 1h0m-10 2h0m3 0h0m-6 1h0m0 0h0m12 0h0m1 3h0m-11 1h0m3 0h0m7 0h0m-1 1h0m-6 1h0m-3 2h0m11 0h0m0 0h0m-7 1h0m7 0h0m-5 1h0m7 0h0m-2 1h0m-7 1h0m9 1h0m-7 0h0m6 1h0m-14 1h0m13 1h0m-11 1h0m11 0h0m1 1h0m1 1h0m-15 4h0m3 2h0m3 0h0m4 5h0m3 1h0m1 1h0m-4 2h0m3 4h0m-3 2h0m3 1h0m-2 6h0m2 4h0m-10 11h0m7 14h0" stroke="#ff0000" stroke-width="6.00"/></g>
</g>
<rect x="407.0" y="257.7" width="277.3" height="171.3" fill="none" stroke="#606060" stroke-width="1.3"/>
<path d="M420.4 429.0v-1.6M420.4 257.7v1.6M437.5 429.0v-1.6M437.5 257.7v1.6M454.6 429.0v-2.6M454.6 257.7v2.6M471.7 429.0v-1.6M471.7 257.7v1.6M488.8 429.0v-1.6M488.8 257.7v1.6M505.8 429.0v-1.6M505.8 257.7v1.6M522.9 429.0v-1.6M522.9 257.7v1.6M540.0 429.0v-2.6M540.0 257.7v2.6M557.1 429.0v-1.6M557.1 257.7v1.6M574.2 429.0v-1.6M574.2 257.7v1.6M591.2 429.0v-1.6M591.2 257.7v1.6M608.3 429.0v-1.6M608.3 257.7v1.6M625.4 429.0v-2.6M625.4 257.7v2.6M642.5 429.0v-1.6M642.5 257.7v1.6M659.6 429.0v-1.6M659.6 257.7v1.6M676.6 429.0v-1.6M676.6 257.7v1.6M407.0 420.6h1.6M684.3 420.6h-1.6M407.0 410.3h1.6M684.3 410.3h-1.6M407.0 400.0h1.6M684.3 400.0h-1.6M407.0 389.8h2.6M684.3 389.8h-2.6M407.0 379.5h1.6M684.3 379.5h-1.6M407.0 369.3h1.6M684.3 369.3h-1.6M407.0 359.0h1.6M684.3 359.0h-1.6M407.0 348.8h2.6M684.3 348.8h-2.6M407.0 338.5h1.6M684.3 338.5h-1.6M407.0 328.3h1.6M684.3 328.3h-1.6M407.0 318.0h1.6M684.3 318.0h-1.6M407.0 307.8h2.6M684.3 307.8h-2.6M407.0 297.5h1.6M684.3 297.5h-1.6M407.0 287.3h1.6M684.3 287.3h-1.6M407.0 277.0h1.6M684.3 277.0h-1.6M407.0 266.8h2.6M684.3 266.8h-2.6" stroke="#0a0a0a" stroke-width="1.1" fill="none"/>
<g font-family="Liberation Sans, sans-serif" font-size="11.4" fill="#1a1a1a"><text x="454.6" y="441.4" text-anchor="middle">200</text><text x="540.0" y="441.4" text-anchor="middle">250</text><text x="625.4" y="441.4" text-anchor="middle">300</text><text x="405.4" y="393.9" text-anchor="end">3.496</text><text x="405.4" y="352.8" text-anchor="end">3.498</text><text x="405.4" y="311.8" text-anchor="end">3.500</text><text x="405.4" y="270.9" text-anchor="end">3.502</text></g>
<g font-family="Liberation Serif, serif" fill="#262626"><g transform="translate(153.5 210.4) scale(1.0)"><text x="-0.2" y="0.0" font-size="16.5" font-style="italic" textLength="13.6" lengthAdjust="spacingAndGlyphs">m</text><text x="15.3" y="3.9" font-size="11.5" font-style="italic" textLength="9.6" lengthAdjust="spacingAndGlyphs">H</text><text x="26.4" y="-0.3" font-size="7.5">0</text><text x="26.4" y="7.2" font-size="7.5">1</text><path d="M42.2 -12.1H39.7V4.7H42.2M73.6 -12.1H76.1V4.7H73.6" fill="none" stroke="#1a1a1a" stroke-width="0.85"/><text x="42.9" y="0.0" font-size="16.5" textLength="31.0" lengthAdjust="spacingAndGlyphs">GeV</text><text x="13.5" y="27.1" font-size="12.5" textLength="14.0" lengthAdjust="spacingAndGlyphs" text-anchor="middle">(a)</text></g><g transform="translate(498.8 210.4) scale(1.028)"><text x="-0.2" y="0.0" font-size="16.5" font-style="italic" textLength="13.6" lengthAdjust="spacingAndGlyphs">m</text><text x="15.3" y="3.9" font-size="11.5" font-style="italic" textLength="9.6" lengthAdjust="spacingAndGlyphs">H</text><text x="26.4" y="-0.3" font-size="7.5">0</text><text x="26.4" y="7.2" font-size="7.5">2</text><path d="M42.2 -12.1H39.7V4.7H42.2M73.6 -12.1H76.1V4.7H73.6" fill="none" stroke="#1a1a1a" stroke-width="0.85"/><text x="42.9" y="0.0" font-size="16.5" textLength="31.0" lengthAdjust="spacingAndGlyphs">GeV</text><text x="13.3" y="26.4" font-size="12.15953307392996" textLength="13.6" lengthAdjust="spacingAndGlyphs" text-anchor="middle">(b)</text></g><g transform="translate(156.6 463.0) scale(1.0)"><text x="-0.2" y="0.0" font-size="16.5" font-style="italic" textLength="13.6" lengthAdjust="spacingAndGlyphs">m</text><text x="15.3" y="3.9" font-size="11.5" font-style="italic" textLength="9.6" lengthAdjust="spacingAndGlyphs">H</text><text x="26.4" y="-0.3" font-size="7.5">0</text><text x="26.4" y="7.2" font-size="7.5">1</text><path d="M42.2 -12.1H39.7V4.7H42.2M73.6 -12.1H76.1V4.7H73.6" fill="none" stroke="#1a1a1a" stroke-width="0.85"/><text x="42.9" y="0.0" font-size="16.5" textLength="31.0" lengthAdjust="spacingAndGlyphs">GeV</text><text x="10.6" y="27.1" font-size="12.5" textLength="14.0" lengthAdjust="spacingAndGlyphs" text-anchor="middle">(c)</text></g><g transform="translate(506.0 463.0) scale(1.0)"><text x="-0.2" y="0.0" font-size="16.5" font-style="italic" textLength="13.6" lengthAdjust="spacingAndGlyphs">m</text><text x="15.3" y="3.9" font-size="11.5" font-style="italic" textLength="9.6" lengthAdjust="spacingAndGlyphs">H</text><text x="26.4" y="-0.3" font-size="7.5">0</text><text x="26.4" y="7.2" font-size="7.5">2</text><path d="M42.2 -12.1H39.7V4.7H42.2M73.6 -12.1H76.1V4.7H73.6" fill="none" stroke="#1a1a1a" stroke-width="0.85"/><text x="42.9" y="0.0" font-size="16.5" textLength="31.0" lengthAdjust="spacingAndGlyphs">GeV</text><text x="10.7" y="27.1" font-size="12.5" textLength="14.0" lengthAdjust="spacingAndGlyphs" text-anchor="middle">(d)</text></g><g transform="translate(19.1 160.9) rotate(-90) scale(1.0)"><text x="-0.7" y="0.0" font-size="18.5" textLength="12.7" lengthAdjust="spacingAndGlyphs">Δ</text><text x="13.9" y="0.0" font-size="16.5" font-style="italic" textLength="13.6" lengthAdjust="spacingAndGlyphs">m</text><text x="27.6" y="4.0" font-size="11.5" font-style="italic" textLength="8.2" lengthAdjust="spacingAndGlyphs">B</text><text x="36.2" y="5.3" font-size="8.2" font-style="italic" textLength="4.8" lengthAdjust="spacingAndGlyphs">d</text><path d="M49.2 -7.6L56.6 -0.2M49.2 -0.2L56.6 -7.6" fill="none" stroke="#1a1a1a" stroke-width="0.85"/><text x="65.4" y="0.0" font-size="16.5" textLength="15.0" lengthAdjust="spacingAndGlyphs">10</text><text x="81.2" y="-6.6" font-size="11" textLength="11.4" lengthAdjust="spacingAndGlyphs">13</text><path d="M103.3 -12.1H100.8V4.7H103.3M134.7 -12.1H137.2V4.7H134.7" fill="none" stroke="#1a1a1a" stroke-width="0.85"/><text x="104.0" y="0.0" font-size="16.5" textLength="31.0" lengthAdjust="spacingAndGlyphs">GeV</text></g><g transform="translate(360.8 159.4) rotate(-90) scale(1.028)"><text x="-0.7" y="0.0" font-size="18.5" textLength="12.7" lengthAdjust="spacingAndGlyphs">Δ</text><text x="13.9" y="0.0" font-size="16.5" font-style="italic" textLength="13.6" lengthAdjust="spacingAndGlyphs">m</text><text x="27.6" y="4.0" font-size="11.5" font-style="italic" textLength="8.2" lengthAdjust="spacingAndGlyphs">B</text><text x="36.2" y="5.3" font-size="8.2" font-style="italic" textLength="4.8" lengthAdjust="spacingAndGlyphs">d</text><path d="M49.2 -7.6L56.6 -0.2M49.2 -0.2L56.6 -7.6" fill="none" stroke="#1a1a1a" stroke-width="0.85"/><text x="65.4" y="0.0" font-size="16.5" textLength="15.0" lengthAdjust="spacingAndGlyphs">10</text><text x="81.2" y="-6.6" font-size="11" textLength="11.4" lengthAdjust="spacingAndGlyphs">13</text><path d="M103.3 -12.1H100.8V4.7H103.3M134.7 -12.1H137.2V4.7H134.7" fill="none" stroke="#1a1a1a" stroke-width="0.85"/><text x="104.0" y="0.0" font-size="16.5" textLength="31.0" lengthAdjust="spacingAndGlyphs">GeV</text></g><g transform="translate(15.8 412.0) rotate(-90)"><text x="-0.7" y="0.0" font-size="18.5" textLength="12.7" lengthAdjust="spacingAndGlyphs">Δ</text><text x="13.9" y="0.0" font-size="16.5" font-style="italic" textLength="13.6" lengthAdjust="spacingAndGlyphs">m</text><text x="28.0" y="3.4" font-size="11.5" font-style="italic" textLength="10.0" lengthAdjust="spacingAndGlyphs">K</text><path d="M46.5 -7.9L53.9 -0.5M46.5 -0.5L53.9 -7.9" fill="none" stroke="#1a1a1a" stroke-width="0.85"/><text x="62.7" y="0.0" font-size="16.5" textLength="15.0" lengthAdjust="spacingAndGlyphs">10</text><text x="78.5" y="-6.6" font-size="11" textLength="11.4" lengthAdjust="spacingAndGlyphs">15</text><path d="M100.6 -12.1H98.1V4.7H100.6M132.0 -12.1H134.5V4.7H132.0" fill="none" stroke="#1a1a1a" stroke-width="0.85"/><text x="101.3" y="0.0" font-size="16.5" textLength="31.0" lengthAdjust="spacingAndGlyphs">GeV</text></g><g transform="translate(365.4 412.0) rotate(-90)"><text x="-0.7" y="0.0" font-size="18.5" textLength="12.7" lengthAdjust="spacingAndGlyphs">Δ</text><text x="13.9" y="0.0" font-size="16.5" font-style="italic" textLength="13.6" lengthAdjust="spacingAndGlyphs">m</text><text x="28.0" y="3.4" font-size="11.5" font-style="italic" textLength="10.0" lengthAdjust="spacingAndGlyphs">K</text><path d="M46.5 -7.9L53.9 -0.5M46.5 -0.5L53.9 -7.9" fill="none" stroke="#1a1a1a" stroke-width="0.85"/><text x="62.7" y="0.0" font-size="16.5" textLength="15.0" lengthAdjust="spacingAndGlyphs">10</text><text x="78.5" y="-6.6" font-size="11" textLength="11.4" lengthAdjust="spacingAndGlyphs">15</text><path d="M100.6 -12.1H98.1V4.7H100.6M132.0 -12.1H134.5V4.7H132.0" fill="none" stroke="#1a1a1a" stroke-width="0.85"/><text x="101.3" y="0.0" font-size="16.5" textLength="31.0" lengthAdjust="spacingAndGlyphs">GeV</text></g></g></svg>
</body></html>
